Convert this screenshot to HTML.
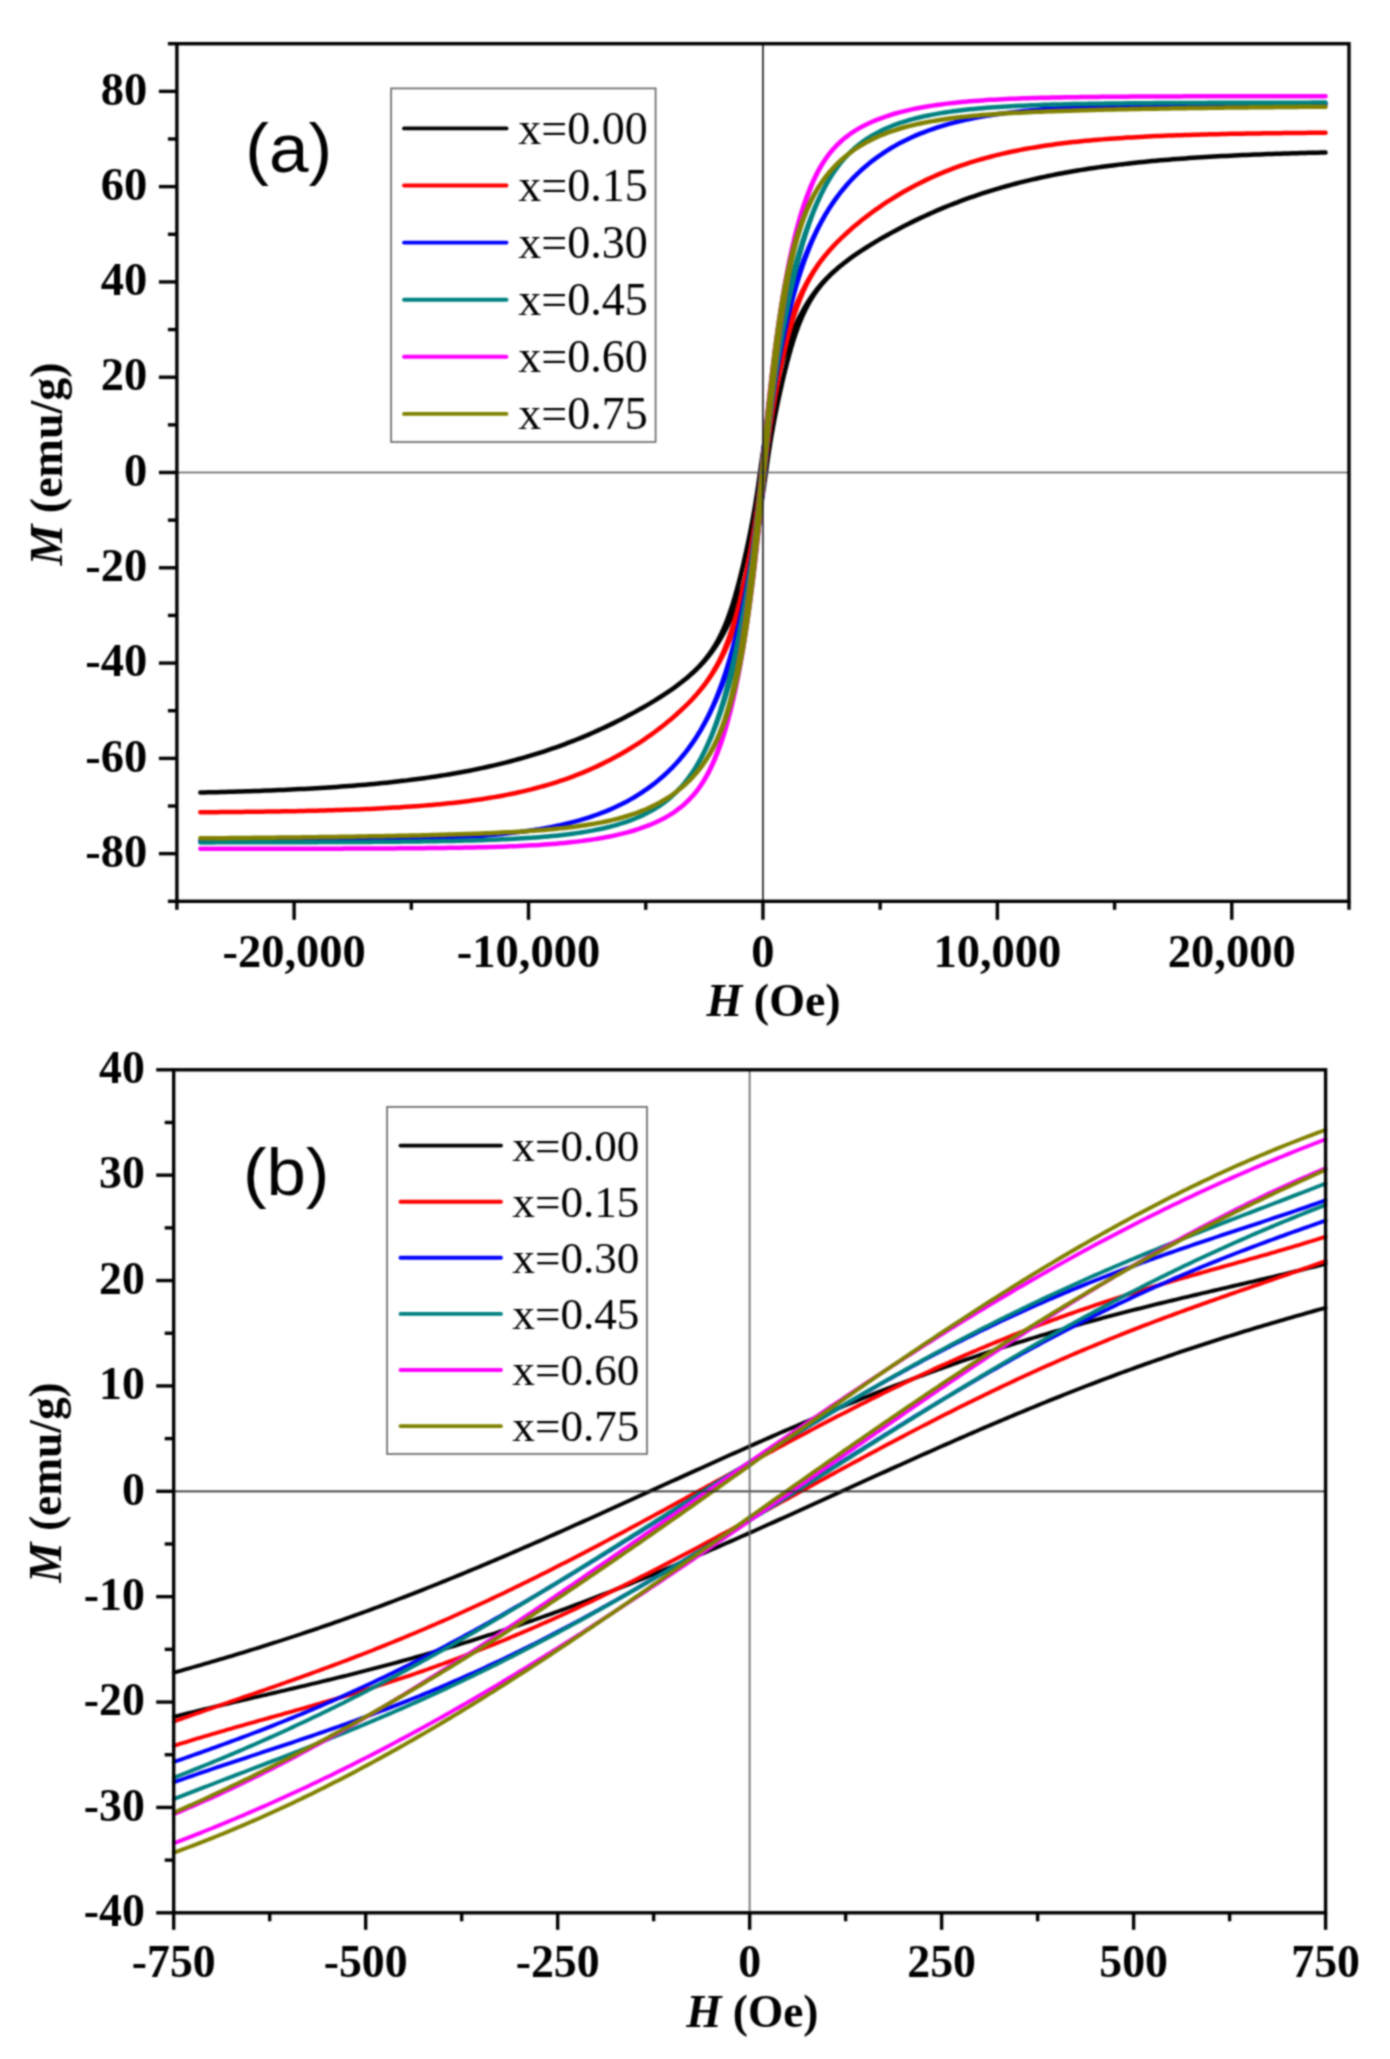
<!DOCTYPE html>
<html><head><meta charset="utf-8"><title>M-H loops</title><style>html,body{margin:0;padding:0;background:#fff;overflow:hidden}svg{display:block}text{fill:#000}</style></head><body>
<svg width="1390" height="2059" viewBox="0 0 1390 2059">
<defs><filter id="soft" x="0" y="0" width="1390" height="2059" filterUnits="userSpaceOnUse" color-interpolation-filters="sRGB"><feConvolveMatrix order="5" kernelMatrix="1 7 14 7 1 7 55 111 55 7 14 111 221 111 14 7 55 111 55 7 1 7 14 7 1" divisor="1001" edgeMode="duplicate"/></filter></defs>
<g filter="url(#soft)">
<rect width="1390" height="2059" fill="#fff"/>
<g fill="none" stroke-width="4.50" stroke-linejoin="round" stroke-linecap="round">
<path d="M200.34 792.53L204.48 792.44L208.62 792.34L212.75 792.24L216.89 792.14L221.03 792.03L225.16 791.92L229.30 791.81L233.44 791.69L237.57 791.57L241.71 791.44L245.85 791.31L249.98 791.17L254.12 791.03L258.26 790.88L262.39 790.73L266.53 790.58L270.67 790.42L274.80 790.25L278.94 790.07L283.08 789.90L287.22 789.71L291.35 789.52L295.49 789.32L299.63 789.11L303.76 788.90L307.90 788.68L312.04 788.45L316.17 788.21L320.31 787.97L324.45 787.71L328.58 787.45L332.72 787.18L336.86 786.90L340.99 786.61L345.13 786.31L349.27 786.00L353.40 785.68L357.54 785.35L361.68 785.00L365.81 784.65L369.95 784.28L374.09 783.90L378.23 783.51L382.36 783.10L386.50 782.68L390.64 782.25L394.77 781.80L398.91 781.34L403.05 780.86L407.18 780.36L411.32 779.85L415.46 779.32L419.59 778.78L423.73 778.22L427.87 777.63L432.00 777.03L436.14 776.41L440.28 775.77L444.41 775.11L448.55 774.43L452.69 773.73L456.83 773.00L460.96 772.25L465.10 771.48L469.24 770.69L473.37 769.86L477.51 769.02L481.65 768.15L485.78 767.25L489.92 766.32L494.06 765.37L498.19 764.39L502.33 763.37L506.47 762.33L510.60 761.26L514.74 760.16L518.88 759.03L523.01 757.86L527.15 756.66L531.29 755.43L535.42 754.16L539.56 752.86L543.70 751.52L547.84 750.15L551.97 748.74L556.11 747.29L560.25 745.81L564.38 744.28L568.52 742.72L572.66 741.12L576.79 739.48L580.93 737.80L585.07 736.08L589.20 734.32L593.34 732.52L597.48 730.68L601.61 728.79L605.75 726.86L609.89 724.89L614.02 722.88L618.16 720.82L622.30 718.71L626.43 716.56L630.57 714.37L634.71 712.13L638.85 709.83L642.98 707.49L647.12 705.09L651.26 702.64L655.39 700.12L659.53 697.54L663.67 694.88L667.80 692.14L671.94 689.31L676.08 686.36L680.21 683.29L684.35 680.07L688.49 676.66L692.62 673.04L693.21 672.51L693.80 671.97L694.39 671.42L694.98 670.87L695.57 670.31L696.16 669.75L696.74 669.18L697.33 668.60L697.92 668.02L698.51 667.43L699.10 666.84L699.69 666.23L700.27 665.62L700.86 665.01L701.45 664.38L702.04 663.75L702.63 663.11L703.22 662.46L703.81 661.80L704.39 661.14L704.98 660.46L705.57 659.78L706.16 659.08L706.75 658.38L707.34 657.67L707.93 656.95L708.51 656.22L709.10 655.48L709.69 654.72L710.28 653.96L710.87 653.18L711.46 652.40L712.04 651.60L712.63 650.79L713.22 649.97L713.81 649.14L714.40 648.29L714.99 647.44L715.58 646.56L716.16 645.68L716.75 644.78L717.34 643.87L717.93 642.95L718.52 642.01L719.11 641.05L719.70 640.08L720.28 639.10L720.87 638.10L721.46 637.09L722.05 636.06L722.64 635.01L723.23 633.95L723.81 632.87L724.40 631.78L724.99 630.67L725.58 629.54L726.17 628.39L726.76 627.22L727.35 626.04L727.93 624.83L728.52 623.61L729.11 622.37L729.70 621.10L730.29 619.82L730.88 618.51L731.47 617.18L732.05 615.83L732.64 614.45L733.23 613.05L733.82 611.62L734.41 610.17L735.00 608.69L735.58 607.18L736.17 605.65L736.76 604.08L737.35 602.49L737.94 600.86L738.53 599.20L739.12 597.51L739.70 595.78L740.29 594.02L740.88 592.22L741.47 590.38L742.06 588.51L742.65 586.60L743.24 584.66L743.82 582.67L744.41 580.65L745.00 578.58L745.59 576.48L746.18 574.33L746.77 572.14L747.35 569.91L747.94 567.64L748.53 565.33L749.12 562.98L749.71 560.58L750.30 558.15L750.89 555.67L751.47 553.15L752.06 550.58L752.65 547.97L753.24 545.32L753.83 542.62L754.42 539.88L755.01 537.08L755.59 534.24L756.18 531.35L756.77 528.41L757.36 525.41L757.95 522.35L758.54 519.23L759.12 516.04L759.71 512.77L760.30 509.42L760.89 505.97L761.48 502.43L762.07 498.78L762.66 495.01L763.24 491.13L763.83 487.12L764.42 483.01L765.01 478.81L765.60 474.55L766.19 470.27L766.78 466.01L767.36 461.81L767.95 457.70L768.54 453.70L769.13 449.81L769.72 446.04L770.31 442.39L770.89 438.84L771.48 435.38L772.07 432.02L772.66 428.73L773.25 425.52L773.84 422.37L774.43 419.28L775.01 416.25L775.60 413.26L776.19 410.33L776.78 407.43L777.37 404.58L777.96 401.77L778.55 398.99L779.13 396.26L779.72 393.56L780.31 390.89L780.90 388.26L781.49 385.66L782.08 383.09L782.66 380.56L783.25 378.06L783.84 375.60L784.43 373.17L785.02 370.77L785.61 368.41L786.20 366.08L786.78 363.79L787.37 361.53L787.96 359.30L788.55 357.12L789.14 354.97L789.73 352.85L790.32 350.77L790.90 348.73L791.49 346.73L792.08 344.76L792.67 342.84L793.26 340.95L793.85 339.09L794.43 337.28L795.02 335.50L795.61 333.75L796.20 332.05L796.79 330.38L797.38 328.74L797.97 327.15L798.55 325.58L799.14 324.05L799.73 322.56L800.32 321.10L800.91 319.67L801.50 318.27L802.09 316.90L802.67 315.56L803.26 314.26L803.85 312.98L804.44 311.73L805.03 310.51L805.62 309.31L806.20 308.14L806.79 306.99L807.38 305.87L807.97 304.78L808.56 303.70L809.15 302.65L809.74 301.62L810.32 300.61L810.91 299.62L811.50 298.65L812.09 297.70L812.68 296.77L813.27 295.85L813.86 294.96L814.44 294.08L815.03 293.22L815.62 292.37L816.21 291.54L816.80 290.72L817.39 289.91L817.97 289.12L818.56 288.35L819.15 287.59L819.74 286.84L820.33 286.10L820.92 285.37L821.51 284.66L822.09 283.95L822.68 283.26L823.27 282.57L823.86 281.90L824.45 281.24L825.04 280.58L825.63 279.94L826.21 279.30L826.80 278.68L827.39 278.06L827.98 277.45L828.57 276.84L829.16 276.25L829.74 275.66L830.33 275.08L830.92 274.50L831.51 273.94L832.10 273.38L832.69 272.82L833.28 272.27L837.41 268.57L841.55 265.12L845.69 261.85L849.82 258.75L853.96 255.78L858.10 252.93L862.23 250.18L866.37 247.51L870.51 244.92L874.64 242.40L878.78 239.94L882.92 237.53L887.05 235.19L891.19 232.89L895.33 230.65L899.47 228.45L903.60 226.30L907.74 224.19L911.88 222.13L916.01 220.12L920.15 218.14L924.29 216.22L928.42 214.33L932.56 212.48L936.70 210.68L940.83 208.92L944.97 207.20L949.11 205.52L953.24 203.88L957.38 202.28L961.52 200.72L965.65 199.20L969.79 197.71L973.93 196.26L978.06 194.85L982.20 193.48L986.34 192.14L990.48 190.84L994.61 189.57L998.75 188.34L1002.89 187.14L1007.02 185.98L1011.16 184.84L1015.30 183.74L1019.43 182.67L1023.57 181.63L1027.71 180.61L1031.84 179.63L1035.98 178.68L1040.12 177.75L1044.25 176.85L1048.39 175.98L1052.53 175.14L1056.66 174.31L1060.80 173.52L1064.94 172.75L1069.07 172.00L1073.21 171.27L1077.35 170.57L1081.49 169.89L1085.62 169.23L1089.76 168.59L1093.90 167.97L1098.03 167.37L1102.17 166.78L1106.31 166.22L1110.44 165.68L1114.58 165.15L1118.72 164.64L1122.85 164.14L1126.99 163.66L1131.13 163.20L1135.26 162.75L1139.40 162.32L1143.54 161.90L1147.67 161.49L1151.81 161.10L1155.95 160.72L1160.09 160.35L1164.22 160.00L1168.36 159.65L1172.50 159.32L1176.63 159.00L1180.77 158.69L1184.91 158.39L1189.04 158.10L1193.18 157.82L1197.32 157.55L1201.45 157.29L1205.59 157.03L1209.73 156.79L1213.86 156.55L1218.00 156.32L1222.14 156.10L1226.27 155.89L1230.41 155.68L1234.55 155.48L1238.68 155.29L1242.82 155.10L1246.96 154.93L1251.10 154.75L1255.23 154.58L1259.37 154.42L1263.51 154.27L1267.64 154.12L1271.78 153.97L1275.92 153.83L1280.05 153.69L1284.19 153.56L1288.33 153.43L1292.46 153.31L1296.60 153.19L1300.74 153.08L1304.87 152.97L1309.01 152.86L1313.15 152.76L1317.28 152.66L1321.42 152.56L1325.56 152.47 M1325.56 152.47L1321.42 152.56L1317.28 152.66L1313.15 152.76L1309.01 152.86L1304.87 152.97L1300.74 153.08L1296.60 153.19L1292.46 153.31L1288.33 153.43L1284.19 153.56L1280.05 153.69L1275.92 153.83L1271.78 153.97L1267.64 154.12L1263.51 154.27L1259.37 154.42L1255.23 154.58L1251.10 154.75L1246.96 154.93L1242.82 155.10L1238.68 155.29L1234.55 155.48L1230.41 155.68L1226.27 155.89L1222.14 156.10L1218.00 156.32L1213.86 156.55L1209.73 156.79L1205.59 157.03L1201.45 157.29L1197.32 157.55L1193.18 157.82L1189.04 158.10L1184.91 158.39L1180.77 158.69L1176.63 159.00L1172.50 159.32L1168.36 159.65L1164.22 160.00L1160.09 160.35L1155.95 160.72L1151.81 161.10L1147.67 161.49L1143.54 161.90L1139.40 162.32L1135.26 162.75L1131.13 163.20L1126.99 163.66L1122.85 164.14L1118.72 164.64L1114.58 165.15L1110.44 165.68L1106.31 166.22L1102.17 166.78L1098.03 167.37L1093.90 167.97L1089.76 168.59L1085.62 169.23L1081.49 169.89L1077.35 170.57L1073.21 171.27L1069.07 172.00L1064.94 172.75L1060.80 173.52L1056.66 174.31L1052.53 175.14L1048.39 175.98L1044.25 176.85L1040.12 177.75L1035.98 178.68L1031.84 179.63L1027.71 180.61L1023.57 181.63L1019.43 182.67L1015.30 183.74L1011.16 184.84L1007.02 185.97L1002.89 187.14L998.75 188.34L994.61 189.57L990.48 190.84L986.34 192.14L982.20 193.48L978.06 194.85L973.93 196.26L969.79 197.71L965.65 199.19L961.52 200.72L957.38 202.28L953.24 203.88L949.11 205.52L944.97 207.20L940.83 208.92L936.70 210.68L932.56 212.48L928.42 214.32L924.29 216.21L920.15 218.14L916.01 220.11L911.88 222.12L907.74 224.18L903.60 226.29L899.47 228.44L895.33 230.63L891.19 232.87L887.05 235.17L882.92 237.51L878.78 239.91L874.64 242.36L870.51 244.88L866.37 247.46L862.23 250.12L858.10 252.86L853.96 255.69L849.82 258.64L845.69 261.71L841.55 264.93L837.41 268.34L833.28 271.96L832.69 272.49L832.10 273.03L831.51 273.58L830.92 274.13L830.33 274.69L829.74 275.25L829.16 275.82L828.57 276.40L827.98 276.98L827.39 277.57L826.80 278.16L826.21 278.77L825.63 279.38L825.04 279.99L824.45 280.62L823.86 281.25L823.27 281.89L822.68 282.54L822.09 283.20L821.51 283.86L820.92 284.54L820.33 285.22L819.74 285.92L819.15 286.62L818.56 287.33L817.97 288.05L817.39 288.78L816.80 289.52L816.21 290.28L815.62 291.04L815.03 291.82L814.44 292.60L813.86 293.40L813.27 294.21L812.68 295.03L812.09 295.86L811.50 296.71L810.91 297.56L810.32 298.44L809.74 299.32L809.15 300.22L808.56 301.13L807.97 302.05L807.38 302.99L806.79 303.95L806.20 304.92L805.62 305.90L805.03 306.90L804.44 307.91L803.85 308.94L803.26 309.99L802.67 311.05L802.09 312.13L801.50 313.22L800.91 314.33L800.32 315.46L799.73 316.61L799.14 317.78L798.55 318.96L797.97 320.17L797.38 321.39L796.79 322.63L796.20 323.90L795.61 325.18L795.02 326.49L794.43 327.82L793.85 329.17L793.26 330.55L792.67 331.95L792.08 333.38L791.49 334.83L790.90 336.31L790.32 337.82L789.73 339.35L789.14 340.92L788.55 342.51L787.96 344.14L787.37 345.80L786.78 347.49L786.20 349.22L785.61 350.98L785.02 352.78L784.43 354.62L783.84 356.49L783.25 358.40L782.66 360.34L782.08 362.33L781.49 364.35L780.90 366.42L780.31 368.52L779.72 370.67L779.13 372.86L778.55 375.09L777.96 377.36L777.37 379.67L776.78 382.02L776.19 384.42L775.60 386.85L775.01 389.33L774.43 391.85L773.84 394.42L773.25 397.03L772.66 399.68L772.07 402.38L771.48 405.12L770.89 407.92L770.31 410.76L769.72 413.65L769.13 416.59L768.54 419.59L767.95 422.65L767.36 425.77L766.78 428.96L766.19 432.23L765.60 435.58L765.01 439.03L764.42 442.57L763.83 446.22L763.24 449.99L762.66 453.87L762.07 457.88L761.48 461.99L760.89 466.19L760.30 470.45L759.71 474.73L759.12 478.99L758.54 483.19L757.95 487.30L757.36 491.30L756.77 495.19L756.18 498.96L755.59 502.61L755.01 506.16L754.42 509.62L753.83 512.98L753.24 516.27L752.65 519.48L752.06 522.63L751.47 525.72L750.89 528.75L750.30 531.74L749.71 534.67L749.12 537.57L748.53 540.42L747.94 543.23L747.35 546.01L746.77 548.74L746.18 551.44L745.59 554.11L745.00 556.74L744.41 559.34L743.82 561.91L743.24 564.44L742.65 566.94L742.06 569.40L741.47 571.83L740.88 574.23L740.29 576.59L739.70 578.92L739.12 581.21L738.53 583.47L737.94 585.70L737.35 587.88L736.76 590.03L736.17 592.15L735.58 594.23L735.00 596.27L734.41 598.27L733.82 600.24L733.23 602.16L732.64 604.05L732.05 605.91L731.47 607.72L730.88 609.50L730.29 611.25L729.70 612.95L729.11 614.62L728.52 616.26L727.93 617.85L727.35 619.42L726.76 620.95L726.17 622.44L725.58 623.90L724.99 625.33L724.40 626.73L723.81 628.10L723.23 629.44L722.64 630.74L722.05 632.02L721.46 633.27L720.87 634.49L720.28 635.69L719.70 636.86L719.11 638.01L718.52 639.13L717.93 640.22L717.34 641.30L716.75 642.35L716.16 643.38L715.58 644.39L714.99 645.38L714.40 646.35L713.81 647.30L713.22 648.23L712.63 649.15L712.04 650.04L711.46 650.92L710.87 651.78L710.28 652.63L709.69 653.46L709.10 654.28L708.51 655.09L707.93 655.88L707.34 656.65L706.75 657.41L706.16 658.16L705.57 658.90L704.98 659.63L704.39 660.34L703.81 661.05L703.22 661.74L702.63 662.43L702.04 663.10L701.45 663.76L700.86 664.42L700.27 665.06L699.69 665.70L699.10 666.32L698.51 666.94L697.92 667.55L697.33 668.16L696.74 668.75L696.16 669.34L695.57 669.92L694.98 670.50L694.39 671.06L693.80 671.62L693.21 672.18L692.62 672.73L688.49 676.43L684.35 679.88L680.21 683.15L676.08 686.25L671.94 689.22L667.80 692.07L663.67 694.82L659.53 697.49L655.39 700.08L651.26 702.60L647.12 705.06L642.98 707.47L638.85 709.81L634.71 712.11L630.57 714.35L626.43 716.55L622.30 718.70L618.16 720.81L614.02 722.87L609.89 724.88L605.75 726.86L601.61 728.78L597.48 730.67L593.34 732.52L589.20 734.32L585.07 736.08L580.93 737.80L576.79 739.48L572.66 741.12L568.52 742.72L564.38 744.28L560.25 745.80L556.11 747.29L551.97 748.74L547.84 750.15L543.70 751.52L539.56 752.86L535.42 754.16L531.29 755.43L527.15 756.66L523.01 757.86L518.88 759.02L514.74 760.16L510.60 761.26L506.47 762.33L502.33 763.37L498.19 764.39L494.06 765.37L489.92 766.32L485.78 767.25L481.65 768.15L477.51 769.02L473.37 769.86L469.24 770.69L465.10 771.48L460.96 772.25L456.83 773.00L452.69 773.73L448.55 774.43L444.41 775.11L440.28 775.77L436.14 776.41L432.00 777.03L427.87 777.63L423.73 778.22L419.59 778.78L415.46 779.32L411.32 779.85L407.18 780.36L403.05 780.86L398.91 781.34L394.77 781.80L390.64 782.25L386.50 782.68L382.36 783.10L378.23 783.51L374.09 783.90L369.95 784.28L365.81 784.65L361.68 785.00L357.54 785.35L353.40 785.68L349.27 786.00L345.13 786.31L340.99 786.61L336.86 786.90L332.72 787.18L328.58 787.45L324.45 787.71L320.31 787.97L316.17 788.21L312.04 788.45L307.90 788.68L303.76 788.90L299.63 789.11L295.49 789.32L291.35 789.52L287.22 789.71L283.08 789.90L278.94 790.07L274.80 790.25L270.67 790.42L266.53 790.58L262.39 790.73L258.26 790.88L254.12 791.03L249.98 791.17L245.85 791.31L241.71 791.44L237.57 791.57L233.44 791.69L229.30 791.81L225.16 791.92L221.03 792.03L216.89 792.14L212.75 792.24L208.62 792.34L204.48 792.44L200.34 792.53" stroke="#000000"/>
<path d="M200.34 812.25L204.48 812.22L208.62 812.19L212.75 812.16L216.89 812.13L221.03 812.10L225.16 812.06L229.30 812.02L233.44 811.99L237.57 811.95L241.71 811.90L245.85 811.86L249.98 811.81L254.12 811.76L258.26 811.71L262.39 811.66L266.53 811.60L270.67 811.54L274.80 811.48L278.94 811.42L283.08 811.35L287.22 811.28L291.35 811.20L295.49 811.13L299.63 811.04L303.76 810.96L307.90 810.87L312.04 810.78L316.17 810.68L320.31 810.58L324.45 810.47L328.58 810.36L332.72 810.24L336.86 810.11L340.99 809.99L345.13 809.85L349.27 809.71L353.40 809.56L357.54 809.40L361.68 809.24L365.81 809.07L369.95 808.89L374.09 808.70L378.23 808.51L382.36 808.30L386.50 808.09L390.64 807.86L394.77 807.62L398.91 807.38L403.05 807.12L407.18 806.85L411.32 806.56L415.46 806.27L419.59 805.96L423.73 805.63L427.87 805.29L432.00 804.94L436.14 804.56L440.28 804.17L444.41 803.77L448.55 803.34L452.69 802.89L456.83 802.43L460.96 801.94L465.10 801.43L469.24 800.90L473.37 800.34L477.51 799.76L481.65 799.15L485.78 798.51L489.92 797.84L494.06 797.15L498.19 796.42L502.33 795.67L506.47 794.88L510.60 794.05L514.74 793.19L518.88 792.29L523.01 791.35L527.15 790.38L531.29 789.36L535.42 788.29L539.56 787.19L543.70 786.03L547.84 784.83L551.97 783.58L556.11 782.28L560.25 780.93L564.38 779.52L568.52 778.06L572.66 776.54L576.79 774.96L580.93 773.31L585.07 771.61L589.20 769.84L593.34 768.01L597.48 766.11L601.61 764.14L605.75 762.10L609.89 759.98L614.02 757.80L618.16 755.54L622.30 753.20L626.43 750.78L630.57 748.28L634.71 745.71L638.85 743.05L642.98 740.30L647.12 737.46L651.26 734.54L655.39 731.52L659.53 728.40L663.67 725.18L667.80 721.85L671.94 718.41L676.08 714.83L680.21 711.11L684.35 707.22L688.49 703.15L692.62 698.86L693.21 698.23L693.80 697.60L694.39 696.96L694.98 696.31L695.57 695.66L696.16 695.00L696.74 694.34L697.33 693.67L697.92 692.99L698.51 692.31L699.10 691.62L699.69 690.92L700.27 690.22L700.86 689.51L701.45 688.79L702.04 688.07L702.63 687.33L703.22 686.59L703.81 685.84L704.39 685.08L704.98 684.32L705.57 683.54L706.16 682.75L706.75 681.96L707.34 681.15L707.93 680.34L708.51 679.52L709.10 678.68L709.69 677.83L710.28 676.98L710.87 676.11L711.46 675.23L712.04 674.34L712.63 673.43L713.22 672.51L713.81 671.58L714.40 670.64L714.99 669.68L715.58 668.71L716.16 667.72L716.75 666.72L717.34 665.71L717.93 664.68L718.52 663.63L719.11 662.56L719.70 661.48L720.28 660.39L720.87 659.27L721.46 658.14L722.05 656.99L722.64 655.82L723.23 654.63L723.81 653.42L724.40 652.19L724.99 650.94L725.58 649.66L726.17 648.37L726.76 647.05L727.35 645.71L727.93 644.35L728.52 642.96L729.11 641.55L729.70 640.11L730.29 638.64L730.88 637.15L731.47 635.63L732.05 634.08L732.64 632.50L733.23 630.89L733.82 629.25L734.41 627.58L735.00 625.88L735.58 624.14L736.17 622.37L736.76 620.56L737.35 618.71L737.94 616.83L738.53 614.91L739.12 612.94L739.70 610.94L740.29 608.90L740.88 606.81L741.47 604.69L742.06 602.51L742.65 600.30L743.24 598.03L743.82 595.72L744.41 593.37L745.00 590.96L745.59 588.51L746.18 586.00L746.77 583.45L747.35 580.84L747.94 578.19L748.53 575.48L749.12 572.71L749.71 569.89L750.30 567.02L750.89 564.09L751.47 561.10L752.06 558.05L752.65 554.93L753.24 551.76L753.83 548.51L754.42 545.20L755.01 541.82L755.59 538.35L756.18 534.81L756.77 531.17L757.36 527.45L757.95 523.62L758.54 519.69L759.12 515.64L759.71 511.47L760.30 507.16L760.89 502.72L761.48 498.15L762.07 493.44L762.66 488.60L763.24 483.66L763.83 478.63L764.42 473.56L765.01 468.48L765.60 463.43L766.19 458.45L766.78 453.57L767.36 448.80L767.95 444.17L768.54 439.67L769.13 435.30L769.72 431.07L770.31 426.96L770.89 422.98L771.48 419.09L772.07 415.32L772.66 411.63L773.25 408.03L773.84 404.51L774.43 401.07L775.01 397.70L775.60 394.40L776.19 391.16L776.78 387.98L777.37 384.86L777.96 381.79L778.55 378.78L779.13 375.82L779.72 372.91L780.31 370.05L780.90 367.25L781.49 364.48L782.08 361.77L782.66 359.10L783.25 356.48L783.84 353.90L784.43 351.37L785.02 348.88L785.61 346.44L786.20 344.04L786.78 341.69L787.37 339.37L787.96 337.10L788.55 334.88L789.14 332.69L789.73 330.55L790.32 328.45L790.90 326.39L791.49 324.37L792.08 322.39L792.67 320.45L793.26 318.55L793.85 316.69L794.43 314.86L795.02 313.08L795.61 311.33L796.20 309.62L796.79 307.94L797.38 306.30L797.97 304.70L798.55 303.12L799.14 301.58L799.73 300.08L800.32 298.60L800.91 297.15L801.50 295.74L802.09 294.35L802.67 292.99L803.26 291.66L803.85 290.36L804.44 289.08L805.03 287.83L805.62 286.60L806.20 285.39L806.79 284.21L807.38 283.05L807.97 281.92L808.56 280.80L809.15 279.70L809.74 278.63L810.32 277.57L810.91 276.53L811.50 275.51L812.09 274.50L812.68 273.52L813.27 272.55L813.86 271.59L814.44 270.65L815.03 269.73L815.62 268.82L816.21 267.92L816.80 267.04L817.39 266.16L817.97 265.31L818.56 264.46L819.15 263.63L819.74 262.80L820.33 261.99L820.92 261.19L821.51 260.40L822.09 259.62L822.68 258.85L823.27 258.09L823.86 257.33L824.45 256.59L825.04 255.86L825.63 255.13L826.21 254.41L826.80 253.70L827.39 253.00L827.98 252.30L828.57 251.61L829.16 250.93L829.74 250.25L830.33 249.59L830.92 248.92L831.51 248.27L832.10 247.62L832.69 246.98L833.28 246.34L837.41 242.00L841.55 237.90L845.69 233.99L849.82 230.25L853.96 226.65L858.10 223.19L862.23 219.86L866.37 216.63L870.51 213.51L874.64 210.48L878.78 207.55L882.92 204.72L887.05 201.97L891.19 199.30L895.33 196.72L899.47 194.23L903.60 191.81L907.74 189.47L911.88 187.21L916.01 185.02L920.15 182.91L924.29 180.87L928.42 178.90L932.56 176.99L936.70 175.16L940.83 173.39L944.97 171.69L949.11 170.05L953.24 168.47L957.38 166.94L961.52 165.48L965.65 164.07L969.79 162.72L973.93 161.42L978.06 160.17L982.20 158.97L986.34 157.81L990.48 156.71L994.61 155.64L998.75 154.62L1002.89 153.65L1007.02 152.71L1011.16 151.81L1015.30 150.95L1019.43 150.12L1023.57 149.33L1027.71 148.58L1031.84 147.85L1035.98 147.16L1040.12 146.49L1044.25 145.85L1048.39 145.25L1052.53 144.66L1056.66 144.10L1060.80 143.57L1064.94 143.06L1069.07 142.57L1073.21 142.11L1077.35 141.66L1081.49 141.23L1085.62 140.83L1089.76 140.44L1093.90 140.06L1098.03 139.71L1102.17 139.37L1106.31 139.04L1110.44 138.73L1114.58 138.44L1118.72 138.15L1122.85 137.88L1126.99 137.62L1131.13 137.38L1135.26 137.14L1139.40 136.91L1143.54 136.70L1147.67 136.49L1151.81 136.30L1155.95 136.11L1160.09 135.93L1164.22 135.76L1168.36 135.60L1172.50 135.44L1176.63 135.29L1180.77 135.15L1184.91 135.01L1189.04 134.89L1193.18 134.76L1197.32 134.64L1201.45 134.53L1205.59 134.42L1209.73 134.32L1213.86 134.22L1218.00 134.13L1222.14 134.04L1226.27 133.96L1230.41 133.87L1234.55 133.80L1238.68 133.72L1242.82 133.65L1246.96 133.58L1251.10 133.52L1255.23 133.46L1259.37 133.40L1263.51 133.34L1267.64 133.29L1271.78 133.24L1275.92 133.19L1280.05 133.14L1284.19 133.10L1288.33 133.05L1292.46 133.01L1296.60 132.98L1300.74 132.94L1304.87 132.90L1309.01 132.87L1313.15 132.84L1317.28 132.81L1321.42 132.78L1325.56 132.75 M1325.56 132.75L1321.42 132.78L1317.28 132.81L1313.15 132.84L1309.01 132.87L1304.87 132.90L1300.74 132.94L1296.60 132.98L1292.46 133.01L1288.33 133.05L1284.19 133.10L1280.05 133.14L1275.92 133.19L1271.78 133.24L1267.64 133.29L1263.51 133.34L1259.37 133.40L1255.23 133.46L1251.10 133.52L1246.96 133.58L1242.82 133.65L1238.68 133.72L1234.55 133.80L1230.41 133.87L1226.27 133.96L1222.14 134.04L1218.00 134.13L1213.86 134.22L1209.73 134.32L1205.59 134.42L1201.45 134.53L1197.32 134.64L1193.18 134.76L1189.04 134.89L1184.91 135.01L1180.77 135.15L1176.63 135.29L1172.50 135.44L1168.36 135.60L1164.22 135.76L1160.09 135.93L1155.95 136.11L1151.81 136.30L1147.67 136.49L1143.54 136.70L1139.40 136.91L1135.26 137.14L1131.13 137.38L1126.99 137.62L1122.85 137.88L1118.72 138.15L1114.58 138.44L1110.44 138.73L1106.31 139.04L1102.17 139.37L1098.03 139.71L1093.90 140.06L1089.76 140.44L1085.62 140.83L1081.49 141.23L1077.35 141.66L1073.21 142.11L1069.07 142.57L1064.94 143.06L1060.80 143.57L1056.66 144.10L1052.53 144.66L1048.39 145.24L1044.25 145.85L1040.12 146.49L1035.98 147.16L1031.84 147.85L1027.71 148.58L1023.57 149.33L1019.43 150.12L1015.30 150.95L1011.16 151.81L1007.02 152.71L1002.89 153.65L998.75 154.62L994.61 155.64L990.48 156.71L986.34 157.81L982.20 158.97L978.06 160.17L973.93 161.42L969.79 162.72L965.65 164.07L961.52 165.48L957.38 166.94L953.24 168.46L949.11 170.04L944.97 171.69L940.83 173.39L936.70 175.16L932.56 176.99L928.42 178.89L924.29 180.86L920.15 182.90L916.01 185.02L911.88 187.20L907.74 189.46L903.60 191.80L899.47 194.22L895.33 196.72L891.19 199.29L887.05 201.95L882.92 204.70L878.78 207.54L874.64 210.46L870.51 213.48L866.37 216.60L862.23 219.82L858.10 223.15L853.96 226.59L849.82 230.17L845.69 233.89L841.55 237.78L837.41 241.85L833.28 246.14L832.69 246.77L832.10 247.40L831.51 248.04L830.92 248.69L830.33 249.34L829.74 250.00L829.16 250.66L828.57 251.33L827.98 252.01L827.39 252.69L826.80 253.38L826.21 254.08L825.63 254.78L825.04 255.49L824.45 256.21L823.86 256.93L823.27 257.67L822.68 258.41L822.09 259.16L821.51 259.92L820.92 260.68L820.33 261.46L819.74 262.25L819.15 263.04L818.56 263.85L817.97 264.66L817.39 265.48L816.80 266.32L816.21 267.17L815.62 268.02L815.03 268.89L814.44 269.77L813.86 270.66L813.27 271.57L812.68 272.49L812.09 273.42L811.50 274.36L810.91 275.32L810.32 276.29L809.74 277.28L809.15 278.28L808.56 279.29L807.97 280.32L807.38 281.37L806.79 282.44L806.20 283.52L805.62 284.61L805.03 285.73L804.44 286.86L803.85 288.01L803.26 289.18L802.67 290.37L802.09 291.58L801.50 292.81L800.91 294.06L800.32 295.34L799.73 296.63L799.14 297.95L798.55 299.29L797.97 300.65L797.38 302.04L796.79 303.45L796.20 304.89L795.61 306.36L795.02 307.85L794.43 309.37L793.85 310.92L793.26 312.50L792.67 314.11L792.08 315.75L791.49 317.42L790.90 319.12L790.32 320.86L789.73 322.63L789.14 324.44L788.55 326.29L787.96 328.17L787.37 330.09L786.78 332.06L786.20 334.06L785.61 336.10L785.02 338.19L784.43 340.31L783.84 342.49L783.25 344.70L782.66 346.97L782.08 349.28L781.49 351.63L780.90 354.04L780.31 356.49L779.72 359.00L779.13 361.55L778.55 364.16L777.96 366.81L777.37 369.52L776.78 372.29L776.19 375.11L775.60 377.98L775.01 380.91L774.43 383.90L773.84 386.95L773.25 390.07L772.66 393.24L772.07 396.49L771.48 399.80L770.89 403.18L770.31 406.65L769.72 410.19L769.13 413.83L768.54 417.55L767.95 421.38L767.36 425.31L766.78 429.36L766.19 433.53L765.60 437.84L765.01 442.28L764.42 446.85L763.83 451.56L763.24 456.40L762.66 461.34L762.07 466.37L761.48 471.44L760.89 476.52L760.30 481.57L759.71 486.55L759.12 491.43L758.54 496.20L757.95 500.83L757.36 505.33L756.77 509.70L756.18 513.93L755.59 518.04L755.01 522.02L754.42 525.91L753.83 529.68L753.24 533.37L752.65 536.97L752.06 540.49L751.47 543.93L750.89 547.30L750.30 550.60L749.71 553.84L749.12 557.02L748.53 560.14L747.94 563.21L747.35 566.22L746.77 569.18L746.18 572.09L745.59 574.95L745.00 577.75L744.41 580.52L743.82 583.23L743.24 585.90L742.65 588.52L742.06 591.10L741.47 593.63L740.88 596.12L740.29 598.56L739.70 600.96L739.12 603.31L738.53 605.63L737.94 607.90L737.35 610.12L736.76 612.31L736.17 614.45L735.58 616.55L735.00 618.61L734.41 620.63L733.82 622.61L733.23 624.55L732.64 626.45L732.05 628.31L731.47 630.14L730.88 631.92L730.29 633.67L729.70 635.38L729.11 637.06L728.52 638.70L727.93 640.30L727.35 641.88L726.76 643.42L726.17 644.92L725.58 646.40L724.99 647.85L724.40 649.26L723.81 650.65L723.23 652.01L722.64 653.34L722.05 654.64L721.46 655.92L720.87 657.17L720.28 658.40L719.70 659.61L719.11 660.79L718.52 661.95L717.93 663.08L717.34 664.20L716.75 665.30L716.16 666.37L715.58 667.43L714.99 668.47L714.40 669.49L713.81 670.50L713.22 671.48L712.63 672.45L712.04 673.41L711.46 674.35L710.87 675.27L710.28 676.18L709.69 677.08L709.10 677.96L708.51 678.84L707.93 679.69L707.34 680.54L706.75 681.37L706.16 682.20L705.57 683.01L704.98 683.81L704.39 684.60L703.81 685.38L703.22 686.15L702.63 686.91L702.04 687.67L701.45 688.41L700.86 689.14L700.27 689.87L699.69 690.59L699.10 691.30L698.51 692.00L697.92 692.70L697.33 693.39L696.74 694.07L696.16 694.75L695.57 695.41L694.98 696.08L694.39 696.73L693.80 697.38L693.21 698.02L692.62 698.66L688.49 703.00L684.35 707.10L680.21 711.01L676.08 714.75L671.94 718.35L667.80 721.81L663.67 725.14L659.53 728.37L655.39 731.49L651.26 734.52L647.12 737.45L642.98 740.28L638.85 743.03L634.71 745.70L630.57 748.28L626.43 750.77L622.30 753.19L618.16 755.53L614.02 757.79L609.89 759.98L605.75 762.09L601.61 764.13L597.48 766.10L593.34 768.01L589.20 769.84L585.07 771.61L580.93 773.31L576.79 774.95L572.66 776.53L568.52 778.06L564.38 779.52L560.25 780.93L556.11 782.28L551.97 783.58L547.84 784.83L543.70 786.03L539.56 787.19L535.42 788.29L531.29 789.36L527.15 790.38L523.01 791.35L518.88 792.29L514.74 793.19L510.60 794.05L506.47 794.88L502.33 795.67L498.19 796.42L494.06 797.15L489.92 797.84L485.78 798.51L481.65 799.15L477.51 799.75L473.37 800.34L469.24 800.90L465.10 801.43L460.96 801.94L456.83 802.43L452.69 802.89L448.55 803.34L444.41 803.77L440.28 804.17L436.14 804.56L432.00 804.94L427.87 805.29L423.73 805.63L419.59 805.96L415.46 806.27L411.32 806.56L407.18 806.85L403.05 807.12L398.91 807.38L394.77 807.62L390.64 807.86L386.50 808.09L382.36 808.30L378.23 808.51L374.09 808.70L369.95 808.89L365.81 809.07L361.68 809.24L357.54 809.40L353.40 809.56L349.27 809.71L345.13 809.85L340.99 809.99L336.86 810.11L332.72 810.24L328.58 810.36L324.45 810.47L320.31 810.58L316.17 810.68L312.04 810.78L307.90 810.87L303.76 810.96L299.63 811.04L295.49 811.13L291.35 811.20L287.22 811.28L283.08 811.35L278.94 811.42L274.80 811.48L270.67 811.54L266.53 811.60L262.39 811.66L258.26 811.71L254.12 811.76L249.98 811.81L245.85 811.86L241.71 811.90L237.57 811.95L233.44 811.99L229.30 812.02L225.16 812.06L221.03 812.10L216.89 812.13L212.75 812.16L208.62 812.19L204.48 812.22L200.34 812.25" stroke="#ff0000"/>
<path d="M200.34 841.01L204.48 841.00L208.62 840.99L212.75 840.98L216.89 840.97L221.03 840.95L225.16 840.94L229.30 840.93L233.44 840.92L237.57 840.90L241.71 840.89L245.85 840.87L249.98 840.86L254.12 840.84L258.26 840.83L262.39 840.81L266.53 840.79L270.67 840.77L274.80 840.75L278.94 840.73L283.08 840.71L287.22 840.69L291.35 840.66L295.49 840.64L299.63 840.61L303.76 840.58L307.90 840.55L312.04 840.52L316.17 840.49L320.31 840.46L324.45 840.42L328.58 840.39L332.72 840.35L336.86 840.31L340.99 840.26L345.13 840.22L349.27 840.17L353.40 840.12L357.54 840.06L361.68 840.01L365.81 839.95L369.95 839.88L374.09 839.82L378.23 839.75L382.36 839.67L386.50 839.59L390.64 839.51L394.77 839.42L398.91 839.33L403.05 839.23L407.18 839.12L411.32 839.01L415.46 838.90L419.59 838.77L423.73 838.64L427.87 838.50L432.00 838.35L436.14 838.20L440.28 838.03L444.41 837.86L448.55 837.67L452.69 837.48L456.83 837.27L460.96 837.05L465.10 836.81L469.24 836.56L473.37 836.30L477.51 836.02L481.65 835.73L485.78 835.41L489.92 835.08L494.06 834.73L498.19 834.36L502.33 833.96L506.47 833.54L510.60 833.10L514.74 832.62L518.88 832.13L523.01 831.60L527.15 831.04L531.29 830.44L535.42 829.81L539.56 829.15L543.70 828.44L547.84 827.69L551.97 826.90L556.11 826.06L560.25 825.18L564.38 824.24L568.52 823.24L572.66 822.19L576.79 821.08L580.93 819.91L585.07 818.66L589.20 817.35L593.34 815.96L597.48 814.50L601.61 812.95L605.75 811.31L609.89 809.58L614.02 807.75L618.16 805.82L622.30 803.78L626.43 801.63L630.57 799.36L634.71 796.96L638.85 794.42L642.98 791.74L647.12 788.90L651.26 785.89L655.39 782.71L659.53 779.33L663.67 775.75L667.80 771.94L671.94 767.88L676.08 763.55L680.21 758.91L684.35 753.94L688.49 748.61L692.62 742.86L693.21 742.01L693.80 741.14L694.39 740.27L694.98 739.39L695.57 738.49L696.16 737.59L696.74 736.68L697.33 735.76L697.92 734.82L698.51 733.88L699.10 732.92L699.69 731.96L700.27 730.98L700.86 729.99L701.45 728.99L702.04 727.98L702.63 726.96L703.22 725.92L703.81 724.88L704.39 723.82L704.98 722.75L705.57 721.66L706.16 720.56L706.75 719.45L707.34 718.33L707.93 717.19L708.51 716.04L709.10 714.88L709.69 713.70L710.28 712.50L710.87 711.30L711.46 710.08L712.04 708.84L712.63 707.59L713.22 706.32L713.81 705.04L714.40 703.74L714.99 702.43L715.58 701.10L716.16 699.76L716.75 698.40L717.34 697.02L717.93 695.63L718.52 694.22L719.11 692.79L719.70 691.35L720.28 689.89L720.87 688.41L721.46 686.92L722.05 685.40L722.64 683.87L723.23 682.32L723.81 680.75L724.40 679.17L724.99 677.56L725.58 675.93L726.17 674.29L726.76 672.62L727.35 670.94L727.93 669.23L728.52 667.50L729.11 665.75L729.70 663.98L730.29 662.19L730.88 660.37L731.47 658.53L732.05 656.67L732.64 654.78L733.23 652.87L733.82 650.93L734.41 648.96L735.00 646.97L735.58 644.95L736.17 642.89L736.76 640.81L737.35 638.70L737.94 636.56L738.53 634.38L739.12 632.17L739.70 629.93L740.29 627.65L740.88 625.33L741.47 622.97L742.06 620.58L742.65 618.15L743.24 615.67L743.82 613.15L744.41 610.58L745.00 607.97L745.59 605.31L746.18 602.60L746.77 599.84L747.35 597.02L747.94 594.15L748.53 591.21L749.12 588.22L749.71 585.15L750.30 582.02L750.89 578.81L751.47 575.53L752.06 572.16L752.65 568.70L753.24 565.15L753.83 561.50L754.42 557.75L755.01 553.88L755.59 549.88L756.18 545.76L756.77 541.50L757.36 537.09L757.95 532.53L758.54 527.81L759.12 522.92L759.71 517.86L760.30 512.64L760.89 507.25L761.48 501.71L762.07 496.02L762.66 490.21L763.24 484.30L763.83 478.33L764.42 472.32L765.01 466.31L765.60 460.34L766.19 454.43L766.78 448.63L767.36 442.95L767.95 437.41L768.54 432.03L769.13 426.81L769.72 421.76L770.31 416.88L770.89 412.16L771.48 407.59L772.07 403.18L772.66 398.91L773.25 394.78L773.84 390.77L774.43 386.88L775.01 383.10L775.60 379.43L776.19 375.85L776.78 372.36L777.37 368.95L777.96 365.62L778.55 362.36L779.13 359.18L779.72 356.05L780.31 352.99L780.90 349.98L781.49 347.03L782.08 344.13L782.66 341.28L783.25 338.47L783.84 335.71L784.43 333.00L785.02 330.32L785.61 327.69L786.20 325.09L786.78 322.53L787.37 320.01L787.96 317.53L788.55 315.08L789.14 312.66L789.73 310.28L790.32 307.93L790.90 305.62L791.49 303.34L792.08 301.09L792.67 298.87L793.26 296.69L793.85 294.53L794.43 292.41L795.02 290.32L795.61 288.26L796.20 286.23L796.79 284.22L797.38 282.25L797.97 280.31L798.55 278.39L799.14 276.50L799.73 274.64L800.32 272.81L800.91 271.01L801.50 269.23L802.09 267.48L802.67 265.75L803.26 264.05L803.85 262.37L804.44 260.72L805.03 259.10L805.62 257.49L806.20 255.91L806.79 254.36L807.38 252.82L807.97 251.31L808.56 249.82L809.15 248.35L809.74 246.91L810.32 245.48L810.91 244.07L811.50 242.68L812.09 241.32L812.68 239.97L813.27 238.64L813.86 237.33L814.44 236.03L815.03 234.76L815.62 233.50L816.21 232.26L816.80 231.03L817.39 229.82L817.97 228.63L818.56 227.45L819.15 226.29L819.74 225.15L820.33 224.02L820.92 222.90L821.51 221.80L822.09 220.71L822.68 219.63L823.27 218.57L823.86 217.53L824.45 216.49L825.04 215.47L825.63 214.46L826.21 213.46L826.80 212.48L827.39 211.51L827.98 210.54L828.57 209.60L829.16 208.66L829.74 207.73L830.33 206.81L830.92 205.91L831.51 205.01L832.10 204.13L832.69 203.25L833.28 202.39L837.41 196.58L841.55 191.20L845.69 186.20L849.82 181.54L853.96 177.19L858.10 173.11L862.23 169.29L866.37 165.70L870.51 162.32L874.64 159.13L878.78 156.12L882.92 153.28L887.05 150.59L891.19 148.05L895.33 145.65L899.47 143.37L903.60 141.22L907.74 139.18L911.88 137.25L916.01 135.43L920.15 133.69L924.29 132.06L928.42 130.51L932.56 129.04L936.70 127.65L940.83 126.34L944.97 125.09L949.11 123.92L953.24 122.81L957.38 121.76L961.52 120.76L965.65 119.82L969.79 118.94L973.93 118.10L978.06 117.31L982.20 116.56L986.34 115.85L990.48 115.19L994.61 114.56L998.75 113.96L1002.89 113.40L1007.02 112.87L1011.16 112.38L1015.30 111.90L1019.43 111.46L1023.57 111.04L1027.71 110.64L1031.84 110.27L1035.98 109.92L1040.12 109.59L1044.25 109.27L1048.39 108.98L1052.53 108.70L1056.66 108.44L1060.80 108.19L1064.94 107.95L1069.07 107.73L1073.21 107.52L1077.35 107.33L1081.49 107.14L1085.62 106.97L1089.76 106.80L1093.90 106.65L1098.03 106.50L1102.17 106.36L1106.31 106.23L1110.44 106.10L1114.58 105.99L1118.72 105.88L1122.85 105.77L1126.99 105.67L1131.13 105.58L1135.26 105.49L1139.40 105.41L1143.54 105.33L1147.67 105.25L1151.81 105.18L1155.95 105.12L1160.09 105.05L1164.22 104.99L1168.36 104.94L1172.50 104.88L1176.63 104.83L1180.77 104.78L1184.91 104.74L1189.04 104.69L1193.18 104.65L1197.32 104.61L1201.45 104.58L1205.59 104.54L1209.73 104.51L1213.86 104.48L1218.00 104.45L1222.14 104.42L1226.27 104.39L1230.41 104.36L1234.55 104.34L1238.68 104.31L1242.82 104.29L1246.96 104.27L1251.10 104.25L1255.23 104.23L1259.37 104.21L1263.51 104.19L1267.64 104.17L1271.78 104.16L1275.92 104.14L1280.05 104.13L1284.19 104.11L1288.33 104.10L1292.46 104.08L1296.60 104.07L1300.74 104.06L1304.87 104.05L1309.01 104.03L1313.15 104.02L1317.28 104.01L1321.42 104.00L1325.56 103.99 M1325.56 103.99L1321.42 104.00L1317.28 104.01L1313.15 104.02L1309.01 104.03L1304.87 104.05L1300.74 104.06L1296.60 104.07L1292.46 104.08L1288.33 104.10L1284.19 104.11L1280.05 104.13L1275.92 104.14L1271.78 104.16L1267.64 104.17L1263.51 104.19L1259.37 104.21L1255.23 104.23L1251.10 104.25L1246.96 104.27L1242.82 104.29L1238.68 104.31L1234.55 104.34L1230.41 104.36L1226.27 104.39L1222.14 104.42L1218.00 104.45L1213.86 104.48L1209.73 104.51L1205.59 104.54L1201.45 104.58L1197.32 104.61L1193.18 104.65L1189.04 104.69L1184.91 104.74L1180.77 104.78L1176.63 104.83L1172.50 104.88L1168.36 104.94L1164.22 104.99L1160.09 105.05L1155.95 105.12L1151.81 105.18L1147.67 105.25L1143.54 105.33L1139.40 105.41L1135.26 105.49L1131.13 105.58L1126.99 105.67L1122.85 105.77L1118.72 105.88L1114.58 105.99L1110.44 106.10L1106.31 106.23L1102.17 106.36L1098.03 106.50L1093.90 106.65L1089.76 106.80L1085.62 106.97L1081.49 107.14L1077.35 107.33L1073.21 107.52L1069.07 107.73L1064.94 107.95L1060.80 108.19L1056.66 108.44L1052.53 108.70L1048.39 108.98L1044.25 109.27L1040.12 109.59L1035.98 109.92L1031.84 110.27L1027.71 110.64L1023.57 111.04L1019.43 111.46L1015.30 111.90L1011.16 112.38L1007.02 112.87L1002.89 113.40L998.75 113.96L994.61 114.56L990.48 115.19L986.34 115.85L982.20 116.56L978.06 117.31L973.93 118.10L969.79 118.94L965.65 119.82L961.52 120.76L957.38 121.76L953.24 122.81L949.11 123.92L944.97 125.09L940.83 126.34L936.70 127.65L932.56 129.04L928.42 130.50L924.29 132.05L920.15 133.69L916.01 135.42L911.88 137.25L907.74 139.18L903.60 141.22L899.47 143.37L895.33 145.64L891.19 148.04L887.05 150.58L882.92 153.26L878.78 156.10L874.64 159.11L870.51 162.29L866.37 165.67L862.23 169.25L858.10 173.06L853.96 177.12L849.82 181.45L845.69 186.09L841.55 191.06L837.41 196.39L833.28 202.14L832.69 202.99L832.10 203.86L831.51 204.73L830.92 205.61L830.33 206.51L829.74 207.41L829.16 208.32L828.57 209.24L827.98 210.18L827.39 211.12L826.80 212.08L826.21 213.04L825.63 214.02L825.04 215.01L824.45 216.01L823.86 217.02L823.27 218.04L822.68 219.08L822.09 220.12L821.51 221.18L820.92 222.25L820.33 223.34L819.74 224.44L819.15 225.55L818.56 226.67L817.97 227.81L817.39 228.96L816.80 230.12L816.21 231.30L815.62 232.50L815.03 233.70L814.44 234.92L813.86 236.16L813.27 237.41L812.68 238.68L812.09 239.96L811.50 241.26L810.91 242.57L810.32 243.90L809.74 245.24L809.15 246.60L808.56 247.98L807.97 249.37L807.38 250.78L806.79 252.21L806.20 253.65L805.62 255.11L805.03 256.59L804.44 258.08L803.85 259.60L803.26 261.13L802.67 262.68L802.09 264.25L801.50 265.83L800.91 267.44L800.32 269.07L799.73 270.71L799.14 272.38L798.55 274.06L797.97 275.77L797.38 277.50L796.79 279.25L796.20 281.02L795.61 282.81L795.02 284.63L794.43 286.47L793.85 288.33L793.26 290.22L792.67 292.13L792.08 294.07L791.49 296.04L790.90 298.03L790.32 300.05L789.73 302.11L789.14 304.19L788.55 306.30L787.96 308.44L787.37 310.62L786.78 312.83L786.20 315.07L785.61 317.35L785.02 319.67L784.43 322.03L783.84 324.42L783.25 326.85L782.66 329.33L782.08 331.85L781.49 334.42L780.90 337.03L780.31 339.69L779.72 342.40L779.13 345.16L778.55 347.98L777.96 350.85L777.37 353.79L776.78 356.78L776.19 359.85L775.60 362.98L775.01 366.19L774.43 369.47L773.84 372.84L773.25 376.30L772.66 379.85L772.07 383.50L771.48 387.25L770.89 391.12L770.31 395.12L769.72 399.24L769.13 403.50L768.54 407.91L767.95 412.47L767.36 417.19L766.78 422.08L766.19 427.14L765.60 432.36L765.01 437.75L764.42 443.29L763.83 448.98L763.24 454.79L762.66 460.70L762.07 466.67L761.48 472.68L760.89 478.69L760.30 484.66L759.71 490.57L759.12 496.37L758.54 502.05L757.95 507.59L757.36 512.97L756.77 518.19L756.18 523.24L755.59 528.12L755.01 532.84L754.42 537.41L753.83 541.82L753.24 546.09L752.65 550.22L752.06 554.23L751.47 558.12L750.89 561.90L750.30 565.57L749.71 569.15L749.12 572.64L748.53 576.05L747.94 579.38L747.35 582.64L746.77 585.82L746.18 588.95L745.59 592.01L745.00 595.02L744.41 597.97L743.82 600.87L743.24 603.72L742.65 606.53L742.06 609.29L741.47 612.00L740.88 614.68L740.29 617.31L739.70 619.91L739.12 622.47L738.53 624.99L737.94 627.47L737.35 629.92L736.76 632.34L736.17 634.72L735.58 637.07L735.00 639.38L734.41 641.66L733.82 643.91L733.23 646.13L732.64 648.31L732.05 650.47L731.47 652.59L730.88 654.68L730.29 656.74L729.70 658.77L729.11 660.78L728.52 662.75L727.93 664.69L727.35 666.61L726.76 668.50L726.17 670.36L725.58 672.19L724.99 673.99L724.40 675.77L723.81 677.52L723.23 679.25L722.64 680.95L722.05 682.63L721.46 684.28L720.87 685.90L720.28 687.51L719.70 689.09L719.11 690.64L718.52 692.18L717.93 693.69L717.34 695.18L716.75 696.65L716.16 698.09L715.58 699.52L714.99 700.93L714.40 702.32L713.81 703.68L713.22 705.03L712.63 706.36L712.04 707.67L711.46 708.97L710.87 710.24L710.28 711.50L709.69 712.74L709.10 713.97L708.51 715.18L707.93 716.37L707.34 717.55L706.75 718.71L706.16 719.85L705.57 720.98L704.98 722.10L704.39 723.20L703.81 724.29L703.22 725.37L702.63 726.43L702.04 727.47L701.45 728.51L700.86 729.53L700.27 730.54L699.69 731.54L699.10 732.52L698.51 733.49L697.92 734.46L697.33 735.40L696.74 736.34L696.16 737.27L695.57 738.19L694.98 739.09L694.39 739.99L693.80 740.87L693.21 741.75L692.62 742.61L688.49 748.42L684.35 753.80L680.21 758.80L676.08 763.46L671.94 767.81L667.80 771.89L663.67 775.71L659.53 779.30L655.39 782.68L651.26 785.87L647.12 788.88L642.98 791.72L638.85 794.41L634.71 796.95L630.57 799.35L626.43 801.63L622.30 803.78L618.16 805.82L614.02 807.75L609.89 809.57L605.75 811.31L601.61 812.94L597.48 814.49L593.34 815.96L589.20 817.35L585.07 818.66L580.93 819.91L576.79 821.08L572.66 822.19L568.52 823.24L564.38 824.24L560.25 825.18L556.11 826.06L551.97 826.90L547.84 827.69L543.70 828.44L539.56 829.15L535.42 829.81L531.29 830.44L527.15 831.04L523.01 831.60L518.88 832.13L514.74 832.62L510.60 833.10L506.47 833.54L502.33 833.96L498.19 834.36L494.06 834.73L489.92 835.08L485.78 835.41L481.65 835.73L477.51 836.02L473.37 836.30L469.24 836.56L465.10 836.81L460.96 837.05L456.83 837.27L452.69 837.48L448.55 837.67L444.41 837.86L440.28 838.03L436.14 838.20L432.00 838.35L427.87 838.50L423.73 838.64L419.59 838.77L415.46 838.90L411.32 839.01L407.18 839.12L403.05 839.23L398.91 839.33L394.77 839.42L390.64 839.51L386.50 839.59L382.36 839.67L378.23 839.75L374.09 839.82L369.95 839.88L365.81 839.95L361.68 840.01L357.54 840.06L353.40 840.12L349.27 840.17L345.13 840.22L340.99 840.26L336.86 840.31L332.72 840.35L328.58 840.39L324.45 840.42L320.31 840.46L316.17 840.49L312.04 840.52L307.90 840.55L303.76 840.58L299.63 840.61L295.49 840.64L291.35 840.66L287.22 840.69L283.08 840.71L278.94 840.73L274.80 840.75L270.67 840.77L266.53 840.79L262.39 840.81L258.26 840.83L254.12 840.84L249.98 840.86L245.85 840.87L241.71 840.89L237.57 840.90L233.44 840.92L229.30 840.93L225.16 840.94L221.03 840.95L216.89 840.97L212.75 840.98L208.62 840.99L204.48 841.00L200.34 841.01" stroke="#0000ff"/>
<path d="M200.34 842.40L204.48 842.39L208.62 842.39L212.75 842.38L216.89 842.37L221.03 842.37L225.16 842.36L229.30 842.35L233.44 842.35L237.57 842.34L241.71 842.33L245.85 842.32L249.98 842.31L254.12 842.31L258.26 842.30L262.39 842.29L266.53 842.28L270.67 842.27L274.80 842.26L278.94 842.25L283.08 842.24L287.22 842.23L291.35 842.22L295.49 842.21L299.63 842.19L303.76 842.18L307.90 842.17L312.04 842.15L316.17 842.14L320.31 842.12L324.45 842.11L328.58 842.09L332.72 842.07L336.86 842.06L340.99 842.04L345.13 842.02L349.27 842.00L353.40 841.98L357.54 841.95L361.68 841.93L365.81 841.90L369.95 841.88L374.09 841.85L378.23 841.82L382.36 841.79L386.50 841.76L390.64 841.72L394.77 841.69L398.91 841.65L403.05 841.61L407.18 841.56L411.32 841.52L415.46 841.47L419.59 841.42L423.73 841.36L427.87 841.31L432.00 841.25L436.14 841.18L440.28 841.11L444.41 841.04L448.55 840.96L452.69 840.88L456.83 840.79L460.96 840.70L465.10 840.60L469.24 840.50L473.37 840.38L477.51 840.26L481.65 840.14L485.78 840.00L489.92 839.86L494.06 839.70L498.19 839.54L502.33 839.36L506.47 839.18L510.60 838.98L514.74 838.77L518.88 838.54L523.01 838.30L527.15 838.04L531.29 837.76L535.42 837.47L539.56 837.15L543.70 836.82L547.84 836.46L551.97 836.07L556.11 835.66L560.25 835.22L564.38 834.75L568.52 834.25L572.66 833.71L576.79 833.13L580.93 832.51L585.07 831.85L589.20 831.14L593.34 830.38L597.48 829.56L601.61 828.68L605.75 827.74L609.89 826.73L614.02 825.64L618.16 824.46L622.30 823.20L626.43 821.83L630.57 820.35L634.71 818.75L638.85 817.02L642.98 815.14L647.12 813.10L651.26 810.88L655.39 808.45L659.53 805.79L663.67 802.89L667.80 799.69L671.94 796.18L676.08 792.31L680.21 788.03L684.35 783.30L688.49 778.05L692.62 772.24L693.21 771.36L693.80 770.46L694.39 769.56L694.98 768.64L695.57 767.71L696.16 766.76L696.74 765.80L697.33 764.83L697.92 763.84L698.51 762.83L699.10 761.81L699.69 760.78L700.27 759.72L700.86 758.66L701.45 757.57L702.04 756.48L702.63 755.36L703.22 754.23L703.81 753.08L704.39 751.91L704.98 750.73L705.57 749.53L706.16 748.31L706.75 747.07L707.34 745.82L707.93 744.54L708.51 743.25L709.10 741.94L709.69 740.61L710.28 739.26L710.87 737.89L711.46 736.51L712.04 735.10L712.63 733.67L713.22 732.22L713.81 730.75L714.40 729.26L714.99 727.75L715.58 726.22L716.16 724.67L716.75 723.10L717.34 721.50L717.93 719.89L718.52 718.25L719.11 716.59L719.70 714.90L720.28 713.20L720.87 711.47L721.46 709.72L722.05 707.95L722.64 706.15L723.23 704.34L723.81 702.49L724.40 700.63L724.99 698.74L725.58 696.82L726.17 694.88L726.76 692.92L727.35 690.93L727.93 688.92L728.52 686.88L729.11 684.82L729.70 682.73L730.29 680.61L730.88 678.46L731.47 676.29L732.05 674.09L732.64 671.86L733.23 669.60L733.82 667.31L734.41 664.99L735.00 662.63L735.58 660.25L736.17 657.83L736.76 655.38L737.35 652.90L737.94 650.38L738.53 647.82L739.12 645.22L739.70 642.59L740.29 639.92L740.88 637.21L741.47 634.46L742.06 631.66L742.65 628.83L743.24 625.94L743.82 623.02L744.41 620.05L745.00 617.03L745.59 613.96L746.18 610.84L746.77 607.66L747.35 604.44L747.94 601.15L748.53 597.81L749.12 594.41L749.71 590.95L750.30 587.42L750.89 583.82L751.47 580.15L752.06 576.40L752.65 572.58L753.24 568.67L753.83 564.67L754.42 560.57L755.01 556.38L755.59 552.07L756.18 547.66L756.77 543.13L757.36 538.47L757.95 533.69L758.54 528.77L759.12 523.71L759.71 518.52L760.30 513.19L760.89 507.72L761.48 502.12L762.07 496.41L762.66 490.60L763.24 484.71L763.83 478.77L764.42 472.79L765.01 466.82L765.60 460.87L766.19 454.97L766.78 449.15L767.36 443.43L767.95 437.82L768.54 432.34L769.13 426.99L769.72 421.77L770.31 416.69L770.89 411.75L771.48 406.94L772.07 402.26L772.66 397.70L773.25 393.25L773.84 388.92L774.43 384.68L775.01 380.55L775.60 376.50L776.19 372.54L776.78 368.66L777.37 364.85L777.96 361.11L778.55 357.44L779.13 353.84L779.72 350.29L780.31 346.80L780.90 343.36L781.49 339.97L782.08 336.64L782.66 333.35L783.25 330.10L783.84 326.90L784.43 323.75L785.02 320.63L785.61 317.56L786.20 314.52L786.78 311.53L787.37 308.57L787.96 305.65L788.55 302.77L789.14 299.92L789.73 297.12L790.32 294.35L790.90 291.61L791.49 288.92L792.08 286.26L792.67 283.63L793.26 281.04L793.85 278.49L794.43 275.97L795.02 273.49L795.61 271.05L796.20 268.64L796.79 266.26L797.38 263.92L797.97 261.62L798.55 259.35L799.14 257.11L799.73 254.91L800.32 252.74L800.91 250.61L801.50 248.51L802.09 246.44L802.67 244.40L803.26 242.39L803.85 240.42L804.44 238.48L805.03 236.56L805.62 234.68L806.20 232.83L806.79 231.01L807.38 229.21L807.97 227.45L808.56 225.71L809.15 224.00L809.74 222.32L810.32 220.67L810.91 219.04L811.50 217.43L812.09 215.86L812.68 214.31L813.27 212.78L813.86 211.28L814.44 209.80L815.03 208.34L815.62 206.91L816.21 205.50L816.80 204.12L817.39 202.75L817.97 201.41L818.56 200.09L819.15 198.79L819.74 197.51L820.33 196.25L820.92 195.01L821.51 193.79L822.09 192.59L822.68 191.40L823.27 190.24L823.86 189.10L824.45 187.97L825.04 186.86L825.63 185.77L826.21 184.69L826.80 183.64L827.39 182.59L827.98 181.57L828.57 180.56L829.16 179.57L829.74 178.59L830.33 177.63L830.92 176.68L831.51 175.74L832.10 174.82L832.69 173.92L833.28 173.03L837.41 167.14L841.55 161.84L845.69 157.07L849.82 152.77L853.96 148.88L858.10 145.35L862.23 142.15L866.37 139.23L870.51 136.57L874.64 134.14L878.78 131.91L882.92 129.87L887.05 127.99L891.19 126.25L895.33 124.65L899.47 123.18L903.60 121.81L907.74 120.54L911.88 119.37L916.01 118.27L920.15 117.26L924.29 116.32L928.42 115.44L932.56 114.62L936.70 113.86L940.83 113.15L944.97 112.49L949.11 111.87L953.24 111.29L957.38 110.75L961.52 110.25L965.65 109.78L969.79 109.34L973.93 108.93L978.06 108.54L982.20 108.18L986.34 107.85L990.48 107.53L994.61 107.24L998.75 106.96L1002.89 106.70L1007.02 106.46L1011.16 106.23L1015.30 106.02L1019.43 105.82L1023.57 105.64L1027.71 105.46L1031.84 105.30L1035.98 105.14L1040.12 105.00L1044.25 104.86L1048.39 104.74L1052.53 104.62L1056.66 104.50L1060.80 104.40L1064.94 104.30L1069.07 104.21L1073.21 104.12L1077.35 104.04L1081.49 103.96L1085.62 103.89L1089.76 103.82L1093.90 103.75L1098.03 103.69L1102.17 103.64L1106.31 103.58L1110.44 103.53L1114.58 103.48L1118.72 103.44L1122.85 103.39L1126.99 103.35L1131.13 103.31L1135.26 103.28L1139.40 103.24L1143.54 103.21L1147.67 103.18L1151.81 103.15L1155.95 103.12L1160.09 103.10L1164.22 103.07L1168.36 103.05L1172.50 103.02L1176.63 103.00L1180.77 102.98L1184.91 102.96L1189.04 102.94L1193.18 102.93L1197.32 102.91L1201.45 102.89L1205.59 102.88L1209.73 102.86L1213.86 102.85L1218.00 102.83L1222.14 102.82L1226.27 102.81L1230.41 102.79L1234.55 102.78L1238.68 102.77L1242.82 102.76L1246.96 102.75L1251.10 102.74L1255.23 102.73L1259.37 102.72L1263.51 102.71L1267.64 102.70L1271.78 102.69L1275.92 102.69L1280.05 102.68L1284.19 102.67L1288.33 102.66L1292.46 102.65L1296.60 102.65L1300.74 102.64L1304.87 102.63L1309.01 102.63L1313.15 102.62L1317.28 102.61L1321.42 102.61L1325.56 102.60 M1325.56 102.60L1321.42 102.61L1317.28 102.61L1313.15 102.62L1309.01 102.63L1304.87 102.63L1300.74 102.64L1296.60 102.65L1292.46 102.65L1288.33 102.66L1284.19 102.67L1280.05 102.68L1275.92 102.69L1271.78 102.69L1267.64 102.70L1263.51 102.71L1259.37 102.72L1255.23 102.73L1251.10 102.74L1246.96 102.75L1242.82 102.76L1238.68 102.77L1234.55 102.78L1230.41 102.79L1226.27 102.81L1222.14 102.82L1218.00 102.83L1213.86 102.85L1209.73 102.86L1205.59 102.88L1201.45 102.89L1197.32 102.91L1193.18 102.93L1189.04 102.94L1184.91 102.96L1180.77 102.98L1176.63 103.00L1172.50 103.02L1168.36 103.05L1164.22 103.07L1160.09 103.10L1155.95 103.12L1151.81 103.15L1147.67 103.18L1143.54 103.21L1139.40 103.24L1135.26 103.28L1131.13 103.31L1126.99 103.35L1122.85 103.39L1118.72 103.44L1114.58 103.48L1110.44 103.53L1106.31 103.58L1102.17 103.64L1098.03 103.69L1093.90 103.75L1089.76 103.82L1085.62 103.89L1081.49 103.96L1077.35 104.04L1073.21 104.12L1069.07 104.21L1064.94 104.30L1060.80 104.40L1056.66 104.50L1052.53 104.62L1048.39 104.74L1044.25 104.86L1040.12 105.00L1035.98 105.14L1031.84 105.30L1027.71 105.46L1023.57 105.64L1019.43 105.82L1015.30 106.02L1011.16 106.23L1007.02 106.46L1002.89 106.70L998.75 106.96L994.61 107.24L990.48 107.53L986.34 107.85L982.20 108.18L978.06 108.54L973.93 108.93L969.79 109.34L965.65 109.78L961.52 110.25L957.38 110.75L953.24 111.29L949.11 111.87L944.97 112.49L940.83 113.15L936.70 113.86L932.56 114.62L928.42 115.44L924.29 116.32L920.15 117.26L916.01 118.27L911.88 119.36L907.74 120.54L903.60 121.80L899.47 123.17L895.33 124.65L891.19 126.25L887.05 127.98L882.92 129.86L878.78 131.90L874.64 134.12L870.51 136.55L866.37 139.21L862.23 142.11L858.10 145.31L853.96 148.82L849.82 152.69L845.69 156.97L841.55 161.70L837.41 166.95L833.28 172.76L832.69 173.64L832.10 174.54L831.51 175.44L830.92 176.36L830.33 177.29L829.74 178.24L829.16 179.20L828.57 180.17L827.98 181.16L827.39 182.17L826.80 183.19L826.21 184.22L825.63 185.28L825.04 186.34L824.45 187.43L823.86 188.52L823.27 189.64L822.68 190.77L822.09 191.92L821.51 193.09L820.92 194.27L820.33 195.47L819.74 196.69L819.15 197.93L818.56 199.18L817.97 200.46L817.39 201.75L816.80 203.06L816.21 204.39L815.62 205.74L815.03 207.11L814.44 208.49L813.86 209.90L813.27 211.33L812.68 212.78L812.09 214.25L811.50 215.74L810.91 217.25L810.32 218.78L809.74 220.33L809.15 221.90L808.56 223.50L807.97 225.11L807.38 226.75L806.79 228.41L806.20 230.10L805.62 231.80L805.03 233.53L804.44 235.28L803.85 237.05L803.26 238.85L802.67 240.66L802.09 242.51L801.50 244.37L800.91 246.26L800.32 248.18L799.73 250.12L799.14 252.08L798.55 254.07L797.97 256.08L797.38 258.12L796.79 260.18L796.20 262.27L795.61 264.39L795.02 266.54L794.43 268.71L793.85 270.91L793.26 273.14L792.67 275.40L792.08 277.69L791.49 280.01L790.90 282.37L790.32 284.75L789.73 287.17L789.14 289.62L788.55 292.10L787.96 294.62L787.37 297.18L786.78 299.78L786.20 302.41L785.61 305.08L785.02 307.79L784.43 310.54L783.84 313.34L783.25 316.17L782.66 319.06L782.08 321.98L781.49 324.95L780.90 327.97L780.31 331.04L779.72 334.16L779.13 337.34L778.55 340.56L777.96 343.85L777.37 347.19L776.78 350.59L776.19 354.05L775.60 357.58L775.01 361.18L774.43 364.85L773.84 368.60L773.25 372.42L772.66 376.33L772.07 380.33L771.48 384.43L770.89 388.62L770.31 392.93L769.72 397.34L769.13 401.87L768.54 406.53L767.95 411.31L767.36 416.23L766.78 421.29L766.19 426.48L765.60 431.81L765.01 437.28L764.42 442.88L763.83 448.59L763.24 454.40L762.66 460.29L762.07 466.23L761.48 472.21L760.89 478.18L760.30 484.13L759.71 490.03L759.12 495.85L758.54 501.57L757.95 507.18L757.36 512.66L756.77 518.01L756.18 523.23L755.59 528.31L755.01 533.25L754.42 538.06L753.83 542.74L753.24 547.30L752.65 551.75L752.06 556.08L751.47 560.32L750.89 564.45L750.30 568.50L749.71 572.46L749.12 576.34L748.53 580.15L747.94 583.89L747.35 587.56L746.77 591.16L746.18 594.71L745.59 598.20L745.00 601.64L744.41 605.03L743.82 608.36L743.24 611.65L742.65 614.90L742.06 618.10L741.47 621.25L740.88 624.37L740.29 627.44L739.70 630.48L739.12 633.47L738.53 636.43L737.94 639.35L737.35 642.23L736.76 645.08L736.17 647.88L735.58 650.65L735.00 653.39L734.41 656.08L733.82 658.74L733.23 661.37L732.64 663.96L732.05 666.51L731.47 669.03L730.88 671.51L730.29 673.95L729.70 676.36L729.11 678.74L728.52 681.08L727.93 683.38L727.35 685.65L726.76 687.89L726.17 690.09L725.58 692.26L724.99 694.39L724.40 696.49L723.81 698.56L723.23 700.60L722.64 702.61L722.05 704.58L721.46 706.52L720.87 708.44L720.28 710.32L719.70 712.17L719.11 713.99L718.52 715.79L717.93 717.55L717.34 719.29L716.75 721.00L716.16 722.68L715.58 724.33L714.99 725.96L714.40 727.57L713.81 729.14L713.22 730.69L712.63 732.22L712.04 733.72L711.46 735.20L710.87 736.66L710.28 738.09L709.69 739.50L709.10 740.88L708.51 742.25L707.93 743.59L707.34 744.91L706.75 746.21L706.16 747.49L705.57 748.75L704.98 749.99L704.39 751.21L703.81 752.41L703.22 753.60L702.63 754.76L702.04 755.90L701.45 757.03L700.86 758.14L700.27 759.23L699.69 760.31L699.10 761.36L698.51 762.41L697.92 763.43L697.33 764.44L696.74 765.43L696.16 766.41L695.57 767.37L694.98 768.32L694.39 769.26L693.80 770.18L693.21 771.08L692.62 771.97L688.49 777.86L684.35 783.16L680.21 787.93L676.08 792.23L671.94 796.12L667.80 799.65L663.67 802.85L659.53 805.77L655.39 808.43L651.26 810.86L647.12 813.09L642.98 815.13L638.85 817.01L634.71 818.75L630.57 820.35L626.43 821.82L622.30 823.19L618.16 824.46L614.02 825.63L609.89 826.73L605.75 827.74L601.61 828.68L597.48 829.56L593.34 830.38L589.20 831.14L585.07 831.85L580.93 832.51L576.79 833.13L572.66 833.71L568.52 834.25L564.38 834.75L560.25 835.22L556.11 835.66L551.97 836.07L547.84 836.46L543.70 836.82L539.56 837.15L535.42 837.47L531.29 837.76L527.15 838.04L523.01 838.30L518.88 838.54L514.74 838.77L510.60 838.98L506.47 839.18L502.33 839.36L498.19 839.54L494.06 839.70L489.92 839.86L485.78 840.00L481.65 840.14L477.51 840.26L473.37 840.38L469.24 840.50L465.10 840.60L460.96 840.70L456.83 840.79L452.69 840.88L448.55 840.96L444.41 841.04L440.28 841.11L436.14 841.18L432.00 841.25L427.87 841.31L423.73 841.36L419.59 841.42L415.46 841.47L411.32 841.52L407.18 841.56L403.05 841.61L398.91 841.65L394.77 841.69L390.64 841.72L386.50 841.76L382.36 841.79L378.23 841.82L374.09 841.85L369.95 841.88L365.81 841.90L361.68 841.93L357.54 841.95L353.40 841.98L349.27 842.00L345.13 842.02L340.99 842.04L336.86 842.06L332.72 842.07L328.58 842.09L324.45 842.11L320.31 842.12L316.17 842.14L312.04 842.15L307.90 842.17L303.76 842.18L299.63 842.19L295.49 842.21L291.35 842.22L287.22 842.23L283.08 842.24L278.94 842.25L274.80 842.26L270.67 842.27L266.53 842.28L262.39 842.29L258.26 842.30L254.12 842.31L249.98 842.31L245.85 842.32L241.71 842.33L237.57 842.34L233.44 842.35L229.30 842.35L225.16 842.36L221.03 842.37L216.89 842.37L212.75 842.38L208.62 842.39L204.48 842.39L200.34 842.40" stroke="#008080"/>
<path d="M200.34 848.86L204.48 848.86L208.62 848.85L212.75 848.85L216.89 848.85L221.03 848.84L225.16 848.84L229.30 848.83L233.44 848.83L237.57 848.82L241.71 848.82L245.85 848.81L249.98 848.81L254.12 848.80L258.26 848.80L262.39 848.79L266.53 848.79L270.67 848.78L274.80 848.78L278.94 848.77L283.08 848.76L287.22 848.76L291.35 848.75L295.49 848.74L299.63 848.73L303.76 848.73L307.90 848.72L312.04 848.71L316.17 848.70L320.31 848.69L324.45 848.68L328.58 848.67L332.72 848.66L336.86 848.64L340.99 848.63L345.13 848.62L349.27 848.61L353.40 848.59L357.54 848.58L361.68 848.56L365.81 848.54L369.95 848.52L374.09 848.51L378.23 848.49L382.36 848.46L386.50 848.44L390.64 848.42L394.77 848.39L398.91 848.37L403.05 848.34L407.18 848.31L411.32 848.27L415.46 848.24L419.59 848.20L423.73 848.16L427.87 848.12L432.00 848.08L436.14 848.03L440.28 847.98L444.41 847.93L448.55 847.87L452.69 847.81L456.83 847.74L460.96 847.67L465.10 847.60L469.24 847.52L473.37 847.43L477.51 847.34L481.65 847.25L485.78 847.14L489.92 847.03L494.06 846.91L498.19 846.78L502.33 846.65L506.47 846.50L510.60 846.34L514.74 846.17L518.88 845.99L523.01 845.80L527.15 845.60L531.29 845.37L535.42 845.14L539.56 844.88L543.70 844.61L547.84 844.32L551.97 844.01L556.11 843.68L560.25 843.32L564.38 842.94L568.52 842.53L572.66 842.09L576.79 841.62L580.93 841.12L585.07 840.58L589.20 840.01L593.34 839.39L597.48 838.73L601.61 838.02L605.75 837.27L609.89 836.46L614.02 835.59L618.16 834.66L622.30 833.67L626.43 832.60L630.57 831.46L634.71 830.23L638.85 828.91L642.98 827.49L647.12 825.96L651.26 824.31L655.39 822.51L659.53 820.57L663.67 818.45L667.80 816.14L671.94 813.60L676.08 810.80L680.21 807.70L684.35 804.24L688.49 800.36L692.62 795.99L693.21 795.32L693.80 794.65L694.39 793.95L694.98 793.25L695.57 792.53L696.16 791.80L696.74 791.06L697.33 790.30L697.92 789.52L698.51 788.74L699.10 787.93L699.69 787.12L700.27 786.28L700.86 785.43L701.45 784.57L702.04 783.68L702.63 782.78L703.22 781.86L703.81 780.92L704.39 779.97L704.98 778.99L705.57 778.00L706.16 776.99L706.75 775.95L707.34 774.89L707.93 773.82L708.51 772.72L709.10 771.60L709.69 770.45L710.28 769.28L710.87 768.09L711.46 766.88L712.04 765.63L712.63 764.37L713.22 763.07L713.81 761.76L714.40 760.41L714.99 759.03L715.58 757.63L716.16 756.20L716.75 754.74L717.34 753.25L717.93 751.73L718.52 750.18L719.11 748.59L719.70 746.98L720.28 745.33L720.87 743.65L721.46 741.93L722.05 740.18L722.64 738.40L723.23 736.57L723.81 734.72L724.40 732.82L724.99 730.89L725.58 728.92L726.17 726.91L726.76 724.85L727.35 722.76L727.93 720.63L728.52 718.46L729.11 716.24L729.70 713.98L730.29 711.68L730.88 709.33L731.47 706.93L732.05 704.49L732.64 701.99L733.23 699.46L733.82 696.87L734.41 694.23L735.00 691.53L735.58 688.79L736.17 685.99L736.76 683.14L737.35 680.23L737.94 677.26L738.53 674.24L739.12 671.16L739.70 668.02L740.29 664.82L740.88 661.55L741.47 658.23L742.06 654.84L742.65 651.39L743.24 647.87L743.82 644.29L744.41 640.64L745.00 636.92L745.59 633.13L746.18 629.28L746.77 625.36L747.35 621.36L747.94 617.30L748.53 613.17L749.12 608.96L749.71 604.68L750.30 600.32L750.89 595.89L751.47 591.38L752.06 586.79L752.65 582.13L753.24 577.38L753.83 572.55L754.42 567.63L755.01 562.63L755.59 557.53L756.18 552.35L756.77 547.07L757.36 541.69L757.95 536.21L758.54 530.64L759.12 524.97L759.71 519.20L760.30 513.33L760.89 507.38L761.48 501.34L762.07 495.22L762.66 489.05L763.24 482.83L763.83 476.58L764.42 470.31L765.01 464.06L765.60 457.82L766.19 451.63L766.78 445.50L767.36 439.44L767.95 433.45L768.54 427.55L769.13 421.75L769.72 416.04L770.31 410.43L770.89 404.92L771.48 399.50L772.07 394.17L772.66 388.94L773.25 383.80L773.84 378.74L774.43 373.77L775.01 368.87L775.60 364.06L776.19 359.32L776.78 354.66L777.37 350.07L777.96 345.55L778.55 341.11L779.13 336.73L779.72 332.41L780.31 328.16L780.90 323.98L781.49 319.86L782.08 315.81L782.66 311.82L783.25 307.89L783.84 304.02L784.43 300.22L785.02 296.48L785.61 292.80L786.20 289.18L786.78 285.62L787.37 282.12L787.96 278.68L788.55 275.31L789.14 271.99L789.73 268.74L790.32 265.54L790.90 262.41L791.49 259.33L792.08 256.31L792.67 253.36L793.26 250.46L793.85 247.62L794.43 244.84L795.02 242.11L795.61 239.44L796.20 236.83L796.79 234.27L797.38 231.77L797.97 229.32L798.55 226.93L799.14 224.59L799.73 222.30L800.32 220.06L800.91 217.87L801.50 215.72L802.09 213.63L802.67 211.59L803.26 209.58L803.85 207.63L804.44 205.72L805.03 203.85L805.62 202.03L806.20 200.24L806.79 198.50L807.38 196.79L807.97 195.13L808.56 193.50L809.15 191.91L809.74 190.35L810.32 188.83L810.91 187.34L811.50 185.89L812.09 184.47L812.68 183.08L813.27 181.72L813.86 180.39L814.44 179.09L815.03 177.82L815.62 176.58L816.21 175.36L816.80 174.17L817.39 173.00L817.97 171.86L818.56 170.75L819.15 169.66L819.74 168.59L820.33 167.54L820.92 166.52L821.51 165.52L822.09 164.53L822.68 163.57L823.27 162.63L823.86 161.71L824.45 160.80L825.04 159.92L825.63 159.05L826.21 158.20L826.80 157.36L827.39 156.54L827.98 155.74L828.57 154.96L829.16 154.18L829.74 153.43L830.33 152.69L830.92 151.96L831.51 151.24L832.10 150.54L832.69 149.85L833.28 149.18L837.41 144.76L841.55 140.85L845.69 137.36L849.82 134.24L853.96 131.43L858.10 128.89L862.23 126.57L866.37 124.45L870.51 122.50L874.64 120.71L878.78 119.05L882.92 117.52L887.05 116.09L891.19 114.77L895.33 113.54L899.47 112.40L903.60 111.33L907.74 110.34L911.88 109.41L916.01 108.54L920.15 107.73L924.29 106.98L928.42 106.27L932.56 105.61L936.70 104.99L940.83 104.42L944.97 103.88L949.11 103.38L953.24 102.91L957.38 102.47L961.52 102.06L965.65 101.68L969.79 101.32L973.93 100.99L978.06 100.68L982.20 100.39L986.34 100.12L990.48 99.86L994.61 99.63L998.75 99.40L1002.89 99.20L1007.02 99.01L1011.16 98.83L1015.30 98.66L1019.43 98.50L1023.57 98.35L1027.71 98.22L1031.84 98.09L1035.98 97.97L1040.12 97.86L1044.25 97.75L1048.39 97.66L1052.53 97.57L1056.66 97.48L1060.80 97.40L1064.94 97.33L1069.07 97.26L1073.21 97.19L1077.35 97.13L1081.49 97.07L1085.62 97.02L1089.76 96.97L1093.90 96.92L1098.03 96.88L1102.17 96.84L1106.31 96.80L1110.44 96.76L1114.58 96.73L1118.72 96.69L1122.85 96.66L1126.99 96.63L1131.13 96.61L1135.26 96.58L1139.40 96.56L1143.54 96.54L1147.67 96.51L1151.81 96.49L1155.95 96.48L1160.09 96.46L1164.22 96.44L1168.36 96.42L1172.50 96.41L1176.63 96.39L1180.77 96.38L1184.91 96.37L1189.04 96.36L1193.18 96.34L1197.32 96.33L1201.45 96.32L1205.59 96.31L1209.73 96.30L1213.86 96.29L1218.00 96.28L1222.14 96.27L1226.27 96.27L1230.41 96.26L1234.55 96.25L1238.68 96.24L1242.82 96.24L1246.96 96.23L1251.10 96.22L1255.23 96.22L1259.37 96.21L1263.51 96.21L1267.64 96.20L1271.78 96.20L1275.92 96.19L1280.05 96.19L1284.19 96.18L1288.33 96.18L1292.46 96.17L1296.60 96.17L1300.74 96.16L1304.87 96.16L1309.01 96.15L1313.15 96.15L1317.28 96.15L1321.42 96.14L1325.56 96.14 M1325.56 96.14L1321.42 96.14L1317.28 96.15L1313.15 96.15L1309.01 96.15L1304.87 96.16L1300.74 96.16L1296.60 96.17L1292.46 96.17L1288.33 96.18L1284.19 96.18L1280.05 96.19L1275.92 96.19L1271.78 96.20L1267.64 96.20L1263.51 96.21L1259.37 96.21L1255.23 96.22L1251.10 96.22L1246.96 96.23L1242.82 96.24L1238.68 96.24L1234.55 96.25L1230.41 96.26L1226.27 96.27L1222.14 96.27L1218.00 96.28L1213.86 96.29L1209.73 96.30L1205.59 96.31L1201.45 96.32L1197.32 96.33L1193.18 96.34L1189.04 96.36L1184.91 96.37L1180.77 96.38L1176.63 96.39L1172.50 96.41L1168.36 96.42L1164.22 96.44L1160.09 96.46L1155.95 96.48L1151.81 96.49L1147.67 96.51L1143.54 96.54L1139.40 96.56L1135.26 96.58L1131.13 96.61L1126.99 96.63L1122.85 96.66L1118.72 96.69L1114.58 96.73L1110.44 96.76L1106.31 96.80L1102.17 96.84L1098.03 96.88L1093.90 96.92L1089.76 96.97L1085.62 97.02L1081.49 97.07L1077.35 97.13L1073.21 97.19L1069.07 97.26L1064.94 97.33L1060.80 97.40L1056.66 97.48L1052.53 97.57L1048.39 97.66L1044.25 97.75L1040.12 97.86L1035.98 97.97L1031.84 98.09L1027.71 98.22L1023.57 98.35L1019.43 98.50L1015.30 98.66L1011.16 98.83L1007.02 99.01L1002.89 99.20L998.75 99.40L994.61 99.63L990.48 99.86L986.34 100.12L982.20 100.39L978.06 100.68L973.93 100.99L969.79 101.32L965.65 101.68L961.52 102.06L957.38 102.47L953.24 102.91L949.11 103.38L944.97 103.88L940.83 104.42L936.70 104.99L932.56 105.61L928.42 106.27L924.29 106.98L920.15 107.73L916.01 108.54L911.88 109.41L907.74 110.34L903.60 111.33L899.47 112.40L895.33 113.54L891.19 114.77L887.05 116.09L882.92 117.51L878.78 119.04L874.64 120.69L870.51 122.49L866.37 124.43L862.23 126.55L858.10 128.86L853.96 131.40L849.82 134.20L845.69 137.30L841.55 140.76L837.41 144.64L833.28 149.01L832.69 149.68L832.10 150.35L831.51 151.05L830.92 151.75L830.33 152.47L829.74 153.20L829.16 153.94L828.57 154.70L827.98 155.48L827.39 156.26L826.80 157.07L826.21 157.88L825.63 158.72L825.04 159.57L824.45 160.43L823.86 161.32L823.27 162.22L822.68 163.14L822.09 164.08L821.51 165.03L820.92 166.01L820.33 167.00L819.74 168.01L819.15 169.05L818.56 170.11L817.97 171.18L817.39 172.28L816.80 173.40L816.21 174.55L815.62 175.72L815.03 176.91L814.44 178.12L813.86 179.37L813.27 180.63L812.68 181.93L812.09 183.24L811.50 184.59L810.91 185.97L810.32 187.37L809.74 188.80L809.15 190.26L808.56 191.75L807.97 193.27L807.38 194.82L806.79 196.41L806.20 198.02L805.62 199.67L805.03 201.35L804.44 203.07L803.85 204.82L803.26 206.60L802.67 208.43L802.09 210.28L801.50 212.18L800.91 214.11L800.32 216.08L799.73 218.09L799.14 220.15L798.55 222.24L797.97 224.37L797.38 226.54L796.79 228.76L796.20 231.02L795.61 233.32L795.02 235.67L794.43 238.07L793.85 240.51L793.26 243.01L792.67 245.54L792.08 248.13L791.49 250.77L790.90 253.47L790.32 256.21L789.73 259.01L789.14 261.86L788.55 264.77L787.96 267.74L787.37 270.76L786.78 273.84L786.20 276.98L785.61 280.18L785.02 283.45L784.43 286.77L783.84 290.16L783.25 293.61L782.66 297.13L782.08 300.71L781.49 304.36L780.90 308.08L780.31 311.87L779.72 315.72L779.13 319.64L778.55 323.64L777.96 327.70L777.37 331.83L776.78 336.04L776.19 340.32L775.60 344.68L775.01 349.11L774.43 353.62L773.84 358.21L773.25 362.87L772.66 367.62L772.07 372.45L771.48 377.37L770.89 382.37L770.31 387.47L769.72 392.65L769.13 397.93L768.54 403.31L767.95 408.79L767.36 414.36L766.78 420.03L766.19 425.80L765.60 431.67L765.01 437.62L764.42 443.66L763.83 449.78L763.24 455.95L762.66 462.17L762.07 468.42L761.48 474.69L760.89 480.94L760.30 487.18L759.71 493.37L759.12 499.50L758.54 505.56L757.95 511.55L757.36 517.45L756.77 523.25L756.18 528.96L755.59 534.57L755.01 540.08L754.42 545.50L753.83 550.83L753.24 556.06L752.65 561.20L752.06 566.26L751.47 571.23L750.89 576.13L750.30 580.94L749.71 585.68L749.12 590.34L748.53 594.93L747.94 599.45L747.35 603.89L746.77 608.27L746.18 612.59L745.59 616.84L745.00 621.02L744.41 625.14L743.82 629.19L743.24 633.18L742.65 637.11L742.06 640.98L741.47 644.78L740.88 648.52L740.29 652.20L739.70 655.82L739.12 659.38L738.53 662.88L737.94 666.32L737.35 669.69L736.76 673.01L736.17 676.26L735.58 679.46L735.00 682.59L734.41 685.67L733.82 688.69L733.23 691.64L732.64 694.54L732.05 697.38L731.47 700.16L730.88 702.89L730.29 705.56L729.70 708.17L729.11 710.73L728.52 713.23L727.93 715.68L727.35 718.07L726.76 720.41L726.17 722.70L725.58 724.94L724.99 727.13L724.40 729.28L723.81 731.37L723.23 733.41L722.64 735.42L722.05 737.37L721.46 739.28L720.87 741.15L720.28 742.97L719.70 744.76L719.11 746.50L718.52 748.21L717.93 749.87L717.34 751.50L716.75 753.09L716.16 754.65L715.58 756.17L714.99 757.66L714.40 759.11L713.81 760.53L713.22 761.92L712.63 763.28L712.04 764.61L711.46 765.91L710.87 767.18L710.28 768.42L709.69 769.64L709.10 770.83L708.51 772.00L707.93 773.14L707.34 774.25L706.75 775.34L706.16 776.41L705.57 777.46L704.98 778.48L704.39 779.48L703.81 780.47L703.22 781.43L702.63 782.37L702.04 783.29L701.45 784.20L700.86 785.08L700.27 785.95L699.69 786.80L699.10 787.64L698.51 788.46L697.92 789.26L697.33 790.04L696.74 790.82L696.16 791.57L695.57 792.31L694.98 793.04L694.39 793.76L693.80 794.46L693.21 795.15L692.62 795.82L688.49 800.24L684.35 804.15L680.21 807.64L676.08 810.76L671.94 813.57L667.80 816.11L663.67 818.43L659.53 820.55L655.39 822.50L651.26 824.29L647.12 825.95L642.98 827.48L638.85 828.91L634.71 830.23L630.57 831.46L626.43 832.60L622.30 833.67L618.16 834.66L614.02 835.59L609.89 836.46L605.75 837.27L601.61 838.02L597.48 838.73L593.34 839.39L589.20 840.01L585.07 840.58L580.93 841.12L576.79 841.62L572.66 842.09L568.52 842.53L564.38 842.94L560.25 843.32L556.11 843.68L551.97 844.01L547.84 844.32L543.70 844.61L539.56 844.88L535.42 845.14L531.29 845.37L527.15 845.60L523.01 845.80L518.88 845.99L514.74 846.17L510.60 846.34L506.47 846.50L502.33 846.65L498.19 846.78L494.06 846.91L489.92 847.03L485.78 847.14L481.65 847.25L477.51 847.34L473.37 847.43L469.24 847.52L465.10 847.60L460.96 847.67L456.83 847.74L452.69 847.81L448.55 847.87L444.41 847.93L440.28 847.98L436.14 848.03L432.00 848.08L427.87 848.12L423.73 848.16L419.59 848.20L415.46 848.24L411.32 848.27L407.18 848.31L403.05 848.34L398.91 848.37L394.77 848.39L390.64 848.42L386.50 848.44L382.36 848.46L378.23 848.49L374.09 848.51L369.95 848.52L365.81 848.54L361.68 848.56L357.54 848.58L353.40 848.59L349.27 848.61L345.13 848.62L340.99 848.63L336.86 848.64L332.72 848.66L328.58 848.67L324.45 848.68L320.31 848.69L316.17 848.70L312.04 848.71L307.90 848.72L303.76 848.73L299.63 848.73L295.49 848.74L291.35 848.75L287.22 848.76L283.08 848.76L278.94 848.77L274.80 848.78L270.67 848.78L266.53 848.79L262.39 848.79L258.26 848.80L254.12 848.80L249.98 848.81L245.85 848.81L241.71 848.82L237.57 848.82L233.44 848.83L229.30 848.83L225.16 848.84L221.03 848.84L216.89 848.85L212.75 848.85L208.62 848.85L204.48 848.86L200.34 848.86" stroke="#ff00ff"/>
<path d="M200.34 838.35L204.48 838.32L208.62 838.29L212.75 838.25L216.89 838.22L221.03 838.18L225.16 838.14L229.30 838.11L233.44 838.07L237.57 838.03L241.71 837.99L245.85 837.95L249.98 837.92L254.12 837.87L258.26 837.83L262.39 837.79L266.53 837.75L270.67 837.71L274.80 837.66L278.94 837.62L283.08 837.57L287.22 837.52L291.35 837.48L295.49 837.43L299.63 837.38L303.76 837.33L307.90 837.28L312.04 837.23L316.17 837.17L320.31 837.12L324.45 837.07L328.58 837.01L332.72 836.95L336.86 836.89L340.99 836.83L345.13 836.77L349.27 836.71L353.40 836.65L357.54 836.58L361.68 836.51L365.81 836.44L369.95 836.37L374.09 836.30L378.23 836.23L382.36 836.15L386.50 836.08L390.64 836.00L394.77 835.92L398.91 835.83L403.05 835.75L407.18 835.66L411.32 835.57L415.46 835.48L419.59 835.38L423.73 835.28L427.87 835.18L432.00 835.07L436.14 834.96L440.28 834.85L444.41 834.74L448.55 834.62L452.69 834.49L456.83 834.36L460.96 834.23L465.10 834.09L469.24 833.95L473.37 833.80L477.51 833.64L481.65 833.48L485.78 833.31L489.92 833.14L494.06 832.95L498.19 832.76L502.33 832.56L506.47 832.35L510.60 832.13L514.74 831.90L518.88 831.66L523.01 831.40L527.15 831.13L531.29 830.85L535.42 830.55L539.56 830.24L543.70 829.91L547.84 829.56L551.97 829.18L556.11 828.79L560.25 828.37L564.38 827.93L568.52 827.45L572.66 826.95L576.79 826.42L580.93 825.85L585.07 825.24L589.20 824.59L593.34 823.90L597.48 823.16L601.61 822.37L605.75 821.52L609.89 820.61L614.02 819.64L618.16 818.59L622.30 817.47L626.43 816.27L630.57 814.97L634.71 813.58L638.85 812.09L642.98 810.48L647.12 808.74L651.26 806.87L655.39 804.86L659.53 802.68L663.67 800.33L667.80 797.79L671.94 795.04L676.08 792.05L680.21 788.80L684.35 785.26L688.49 781.39L692.62 777.14L693.21 776.50L693.80 775.85L694.39 775.20L694.98 774.53L695.57 773.86L696.16 773.17L696.74 772.48L697.33 771.77L697.92 771.06L698.51 770.33L699.10 769.60L699.69 768.85L700.27 768.09L700.86 767.32L701.45 766.54L702.04 765.75L702.63 764.94L703.22 764.12L703.81 763.29L704.39 762.44L704.98 761.58L705.57 760.71L706.16 759.82L706.75 758.92L707.34 758.00L707.93 757.07L708.51 756.12L709.10 755.15L709.69 754.17L710.28 753.17L710.87 752.16L711.46 751.12L712.04 750.07L712.63 749.00L713.22 747.90L713.81 746.79L714.40 745.66L714.99 744.51L715.58 743.33L716.16 742.13L716.75 740.91L717.34 739.67L717.93 738.40L718.52 737.11L719.11 735.79L719.70 734.45L720.28 733.07L720.87 731.68L721.46 730.25L722.05 728.79L722.64 727.30L723.23 725.79L723.81 724.24L724.40 722.66L724.99 721.04L725.58 719.39L726.17 717.70L726.76 715.98L727.35 714.22L727.93 712.42L728.52 710.58L729.11 708.70L729.70 706.77L730.29 704.80L730.88 702.79L731.47 700.73L732.05 698.62L732.64 696.46L733.23 694.25L733.82 691.99L734.41 689.67L735.00 687.29L735.58 684.86L736.17 682.36L736.76 679.81L737.35 677.19L737.94 674.50L738.53 671.75L739.12 668.93L739.70 666.03L740.29 663.07L740.88 660.02L741.47 656.90L742.06 653.70L742.65 650.42L743.24 647.06L743.82 643.61L744.41 640.07L745.00 636.45L745.59 632.74L746.18 628.93L746.77 625.04L747.35 621.05L747.94 616.96L748.53 612.78L749.12 608.51L749.71 604.14L750.30 599.68L750.89 595.11L751.47 590.46L752.06 585.70L752.65 580.86L753.24 575.92L753.83 570.89L754.42 565.77L755.01 560.56L755.59 555.27L756.18 549.90L756.77 544.45L757.36 538.92L757.95 533.33L758.54 527.67L759.12 521.95L759.71 516.17L760.30 510.35L760.89 504.48L761.48 498.58L762.07 492.64L762.66 486.69L763.24 480.71L763.83 474.73L764.42 468.74L765.01 462.76L765.60 456.79L766.19 450.83L766.78 444.91L767.36 439.01L767.95 433.15L768.54 427.34L769.13 421.57L769.72 415.86L770.31 410.21L770.89 404.62L771.48 399.11L772.07 393.66L772.66 388.29L773.25 383.00L773.84 377.79L774.43 372.66L775.01 367.62L775.60 362.67L776.19 357.81L776.78 353.03L777.37 348.35L777.96 343.76L778.55 339.25L779.13 334.84L779.72 330.52L780.31 326.29L780.90 322.15L781.49 318.10L782.08 314.14L782.66 310.26L783.25 306.47L783.84 302.77L784.43 299.15L785.02 295.62L785.61 292.17L786.20 288.79L786.78 285.50L787.37 282.29L787.96 279.15L788.55 276.09L789.14 273.11L789.73 270.19L790.32 267.35L790.90 264.58L791.49 261.87L792.08 259.24L792.67 256.66L793.26 254.16L793.85 251.71L794.43 249.33L795.02 247.00L795.61 244.73L796.20 242.52L796.79 240.36L797.38 238.26L797.97 236.21L798.55 234.21L799.14 232.26L799.73 230.35L800.32 228.49L800.91 226.68L801.50 224.91L802.09 223.18L802.67 221.49L803.26 219.84L803.85 218.23L804.44 216.66L805.03 215.12L805.62 213.62L806.20 212.15L806.79 210.72L807.38 209.31L807.97 207.94L808.56 206.59L809.15 205.28L809.74 203.99L810.32 202.73L810.91 201.49L811.50 200.28L812.09 199.10L812.68 197.94L813.27 196.80L813.86 195.68L814.44 194.59L815.03 193.52L815.62 192.46L816.21 191.43L816.80 190.42L817.39 189.42L817.97 188.44L818.56 187.48L819.15 186.54L819.74 185.61L820.33 184.70L820.92 183.81L821.51 182.93L822.09 182.06L822.68 181.21L823.27 180.38L823.86 179.56L824.45 178.75L825.04 177.95L825.63 177.17L826.21 176.40L826.80 175.64L827.39 174.89L827.98 174.15L828.57 173.43L829.16 172.72L829.74 172.01L830.33 171.32L830.92 170.64L831.51 169.96L832.10 169.30L832.69 168.65L833.28 168.00L837.41 163.72L841.55 159.82L845.69 156.26L849.82 153.00L853.96 150.00L858.10 147.24L862.23 144.69L866.37 142.33L870.51 140.15L874.64 138.14L878.78 136.26L882.92 134.53L887.05 132.92L891.19 131.42L895.33 130.03L899.47 128.73L903.60 127.53L907.74 126.41L911.88 125.36L916.01 124.39L920.15 123.48L924.29 122.63L928.42 121.84L932.56 121.10L936.70 120.41L940.83 119.76L944.97 119.15L949.11 118.58L953.24 118.05L957.38 117.55L961.52 117.07L965.65 116.63L969.79 116.21L973.93 115.82L978.06 115.44L982.20 115.09L986.34 114.76L990.48 114.45L994.61 114.15L998.75 113.87L1002.89 113.60L1007.02 113.34L1011.16 113.10L1015.30 112.87L1019.43 112.65L1023.57 112.44L1027.71 112.24L1031.84 112.05L1035.98 111.86L1040.12 111.69L1044.25 111.52L1048.39 111.36L1052.53 111.20L1056.66 111.05L1060.80 110.91L1064.94 110.77L1069.07 110.64L1073.21 110.51L1077.35 110.38L1081.49 110.26L1085.62 110.15L1089.76 110.04L1093.90 109.93L1098.03 109.82L1102.17 109.72L1106.31 109.62L1110.44 109.52L1114.58 109.43L1118.72 109.34L1122.85 109.25L1126.99 109.17L1131.13 109.08L1135.26 109.00L1139.40 108.92L1143.54 108.85L1147.67 108.77L1151.81 108.70L1155.95 108.63L1160.09 108.56L1164.22 108.49L1168.36 108.42L1172.50 108.35L1176.63 108.29L1180.77 108.23L1184.91 108.17L1189.04 108.11L1193.18 108.05L1197.32 107.99L1201.45 107.93L1205.59 107.88L1209.73 107.83L1213.86 107.77L1218.00 107.72L1222.14 107.67L1226.27 107.62L1230.41 107.57L1234.55 107.52L1238.68 107.48L1242.82 107.43L1246.96 107.38L1251.10 107.34L1255.23 107.29L1259.37 107.25L1263.51 107.21L1267.64 107.17L1271.78 107.13L1275.92 107.08L1280.05 107.05L1284.19 107.01L1288.33 106.97L1292.46 106.93L1296.60 106.89L1300.74 106.86L1304.87 106.82L1309.01 106.78L1313.15 106.75L1317.28 106.71L1321.42 106.68L1325.56 106.65 M1325.56 106.65L1321.42 106.68L1317.28 106.71L1313.15 106.75L1309.01 106.78L1304.87 106.82L1300.74 106.86L1296.60 106.89L1292.46 106.93L1288.33 106.97L1284.19 107.01L1280.05 107.05L1275.92 107.08L1271.78 107.13L1267.64 107.17L1263.51 107.21L1259.37 107.25L1255.23 107.29L1251.10 107.34L1246.96 107.38L1242.82 107.43L1238.68 107.48L1234.55 107.52L1230.41 107.57L1226.27 107.62L1222.14 107.67L1218.00 107.72L1213.86 107.77L1209.73 107.83L1205.59 107.88L1201.45 107.93L1197.32 107.99L1193.18 108.05L1189.04 108.11L1184.91 108.17L1180.77 108.23L1176.63 108.29L1172.50 108.35L1168.36 108.42L1164.22 108.49L1160.09 108.56L1155.95 108.63L1151.81 108.70L1147.67 108.77L1143.54 108.85L1139.40 108.92L1135.26 109.00L1131.13 109.08L1126.99 109.17L1122.85 109.25L1118.72 109.34L1114.58 109.43L1110.44 109.52L1106.31 109.62L1102.17 109.72L1098.03 109.82L1093.90 109.93L1089.76 110.04L1085.62 110.15L1081.49 110.26L1077.35 110.38L1073.21 110.51L1069.07 110.64L1064.94 110.77L1060.80 110.91L1056.66 111.05L1052.53 111.20L1048.39 111.36L1044.25 111.52L1040.12 111.69L1035.98 111.86L1031.84 112.05L1027.71 112.24L1023.57 112.44L1019.43 112.65L1015.30 112.87L1011.16 113.10L1007.02 113.34L1002.89 113.60L998.75 113.87L994.61 114.15L990.48 114.45L986.34 114.76L982.20 115.09L978.06 115.44L973.93 115.82L969.79 116.21L965.65 116.63L961.52 117.07L957.38 117.55L953.24 118.05L949.11 118.58L944.97 119.15L940.83 119.76L936.70 120.41L932.56 121.10L928.42 121.84L924.29 122.63L920.15 123.48L916.01 124.39L911.88 125.36L907.74 126.41L903.60 127.53L899.47 128.73L895.33 130.03L891.19 131.42L887.05 132.91L882.92 134.52L878.78 136.26L874.64 138.13L870.51 140.14L866.37 142.32L862.23 144.67L858.10 147.21L853.96 149.96L849.82 152.95L845.69 156.20L841.55 159.74L837.41 163.61L833.28 167.86L832.69 168.50L832.10 169.15L831.51 169.80L830.92 170.47L830.33 171.14L829.74 171.83L829.16 172.52L828.57 173.23L827.98 173.94L827.39 174.67L826.80 175.40L826.21 176.15L825.63 176.91L825.04 177.68L824.45 178.46L823.86 179.25L823.27 180.06L822.68 180.88L822.09 181.71L821.51 182.56L820.92 183.42L820.33 184.29L819.74 185.18L819.15 186.08L818.56 187.00L817.97 187.93L817.39 188.88L816.80 189.85L816.21 190.83L815.62 191.83L815.03 192.84L814.44 193.88L813.86 194.93L813.27 196.00L812.68 197.10L812.09 198.21L811.50 199.34L810.91 200.49L810.32 201.67L809.74 202.87L809.15 204.09L808.56 205.33L807.97 206.60L807.38 207.89L806.79 209.21L806.20 210.55L805.62 211.93L805.03 213.32L804.44 214.75L803.85 216.21L803.26 217.70L802.67 219.21L802.09 220.76L801.50 222.34L800.91 223.96L800.32 225.61L799.73 227.30L799.14 229.02L798.55 230.78L797.97 232.58L797.38 234.42L796.79 236.30L796.20 238.23L795.61 240.20L795.02 242.21L794.43 244.27L793.85 246.38L793.26 248.54L792.67 250.75L792.08 253.01L791.49 255.33L790.90 257.71L790.32 260.14L789.73 262.64L789.14 265.19L788.55 267.81L787.96 270.50L787.37 273.25L786.78 276.07L786.20 278.97L785.61 281.93L785.02 284.98L784.43 288.10L783.84 291.30L783.25 294.58L782.66 297.94L782.08 301.39L781.49 304.93L780.90 308.55L780.31 312.26L779.72 316.07L779.13 319.96L778.55 323.95L777.96 328.04L777.37 332.22L776.78 336.49L776.19 340.86L775.60 345.32L775.01 349.89L774.43 354.54L773.84 359.30L773.25 364.14L772.66 369.08L772.07 374.11L771.48 379.23L770.89 384.44L770.31 389.73L769.72 395.10L769.13 400.55L768.54 406.08L767.95 411.67L767.36 417.33L766.78 423.05L766.19 428.83L765.60 434.65L765.01 440.52L764.42 446.42L763.83 452.36L763.24 458.31L762.66 464.29L762.07 470.27L761.48 476.26L760.89 482.24L760.30 488.21L759.71 494.17L759.12 500.09L758.54 505.99L757.95 511.85L757.36 517.66L756.77 523.43L756.18 529.14L755.59 534.79L755.01 540.38L754.42 545.89L753.83 551.34L753.24 556.71L752.65 562.00L752.06 567.21L751.47 572.34L750.89 577.38L750.30 582.33L749.71 587.19L749.12 591.97L748.53 596.65L747.94 601.24L747.35 605.75L746.77 610.16L746.18 614.48L745.59 618.71L745.00 622.85L744.41 626.90L743.82 630.86L743.24 634.74L742.65 638.53L742.06 642.23L741.47 645.85L740.88 649.38L740.29 652.83L739.70 656.21L739.12 659.50L738.53 662.71L737.94 665.85L737.35 668.91L736.76 671.89L736.17 674.81L735.58 677.65L735.00 680.42L734.41 683.13L733.82 685.76L733.23 688.34L732.64 690.84L732.05 693.29L731.47 695.67L730.88 698.00L730.29 700.27L729.70 702.48L729.11 704.64L728.52 706.74L727.93 708.79L727.35 710.79L726.76 712.74L726.17 714.65L725.58 716.51L724.99 718.32L724.40 720.09L723.81 721.82L723.23 723.51L722.64 725.16L722.05 726.77L721.46 728.34L720.87 729.88L720.28 731.38L719.70 732.85L719.11 734.28L718.52 735.69L717.93 737.06L717.34 738.41L716.75 739.72L716.16 741.01L715.58 742.27L714.99 743.51L714.40 744.72L713.81 745.90L713.22 747.06L712.63 748.20L712.04 749.32L711.46 750.41L710.87 751.48L710.28 752.54L709.69 753.57L709.10 754.58L708.51 755.58L707.93 756.56L707.34 757.52L706.75 758.46L706.16 759.39L705.57 760.30L704.98 761.19L704.39 762.07L703.81 762.94L703.22 763.79L702.63 764.62L702.04 765.44L701.45 766.25L700.86 767.05L700.27 767.83L699.69 768.60L699.10 769.36L698.51 770.11L697.92 770.85L697.33 771.57L696.74 772.28L696.16 772.99L695.57 773.68L694.98 774.36L694.39 775.04L693.80 775.70L693.21 776.35L692.62 777.00L688.49 781.28L684.35 785.18L680.21 788.74L676.08 792.00L671.94 795.00L667.80 797.76L663.67 800.31L659.53 802.67L655.39 804.85L651.26 806.86L647.12 808.74L642.98 810.47L638.85 812.08L634.71 813.58L630.57 814.97L626.43 816.27L622.30 817.47L618.16 818.59L614.02 819.64L609.89 820.61L605.75 821.52L601.61 822.37L597.48 823.16L593.34 823.90L589.20 824.59L585.07 825.24L580.93 825.85L576.79 826.42L572.66 826.95L568.52 827.45L564.38 827.93L560.25 828.37L556.11 828.79L551.97 829.18L547.84 829.56L543.70 829.91L539.56 830.24L535.42 830.55L531.29 830.85L527.15 831.13L523.01 831.40L518.88 831.66L514.74 831.90L510.60 832.13L506.47 832.35L502.33 832.56L498.19 832.76L494.06 832.95L489.92 833.14L485.78 833.31L481.65 833.48L477.51 833.64L473.37 833.80L469.24 833.95L465.10 834.09L460.96 834.23L456.83 834.36L452.69 834.49L448.55 834.62L444.41 834.74L440.28 834.85L436.14 834.96L432.00 835.07L427.87 835.18L423.73 835.28L419.59 835.38L415.46 835.48L411.32 835.57L407.18 835.66L403.05 835.75L398.91 835.83L394.77 835.92L390.64 836.00L386.50 836.08L382.36 836.15L378.23 836.23L374.09 836.30L369.95 836.37L365.81 836.44L361.68 836.51L357.54 836.58L353.40 836.65L349.27 836.71L345.13 836.77L340.99 836.83L336.86 836.89L332.72 836.95L328.58 837.01L324.45 837.07L320.31 837.12L316.17 837.17L312.04 837.23L307.90 837.28L303.76 837.33L299.63 837.38L295.49 837.43L291.35 837.48L287.22 837.52L283.08 837.57L278.94 837.62L274.80 837.66L270.67 837.71L266.53 837.75L262.39 837.79L258.26 837.83L254.12 837.87L249.98 837.92L245.85 837.95L241.71 837.99L237.57 838.03L233.44 838.07L229.30 838.11L225.16 838.14L221.03 838.18L216.89 838.22L212.75 838.25L208.62 838.29L204.48 838.32L200.34 838.35" stroke="#808000"/>
</g>
<line x1="176.90" y1="472.50" x2="1349.00" y2="472.50" stroke="#5a5a5a" stroke-width="1.7"/>
<line x1="762.95" y1="43.70" x2="762.95" y2="901.30" stroke="#222222" stroke-width="1.7"/>
<rect x="391.10" y="88.40" width="264.50" height="353.60" fill="#fff" stroke="#6a6a6a" stroke-width="1.7"/>
<line x1="404.00" y1="128.40" x2="506.50" y2="128.40" stroke="#000000" stroke-width="3.90" stroke-linecap="round"/>
<text transform="translate(518.30 143.90) scale(1.000 1)" font-family="'Liberation Serif', serif" font-size="46.00" font-weight="normal" text-anchor="start">x=0.00</text>
<line x1="404.00" y1="185.50" x2="506.50" y2="185.50" stroke="#ff0000" stroke-width="3.90" stroke-linecap="round"/>
<text transform="translate(518.30 201.00) scale(1.000 1)" font-family="'Liberation Serif', serif" font-size="46.00" font-weight="normal" text-anchor="start">x=0.15</text>
<line x1="404.00" y1="242.60" x2="506.50" y2="242.60" stroke="#0000ff" stroke-width="3.90" stroke-linecap="round"/>
<text transform="translate(518.30 258.10) scale(1.000 1)" font-family="'Liberation Serif', serif" font-size="46.00" font-weight="normal" text-anchor="start">x=0.30</text>
<line x1="404.00" y1="299.70" x2="506.50" y2="299.70" stroke="#008080" stroke-width="3.90" stroke-linecap="round"/>
<text transform="translate(518.30 315.20) scale(1.000 1)" font-family="'Liberation Serif', serif" font-size="46.00" font-weight="normal" text-anchor="start">x=0.45</text>
<line x1="404.00" y1="356.80" x2="506.50" y2="356.80" stroke="#ff00ff" stroke-width="3.90" stroke-linecap="round"/>
<text transform="translate(518.30 372.30) scale(1.000 1)" font-family="'Liberation Serif', serif" font-size="46.00" font-weight="normal" text-anchor="start">x=0.60</text>
<line x1="404.00" y1="413.90" x2="506.50" y2="413.90" stroke="#808000" stroke-width="3.90" stroke-linecap="round"/>
<text transform="translate(518.30 429.40) scale(1.000 1)" font-family="'Liberation Serif', serif" font-size="46.00" font-weight="normal" text-anchor="start">x=0.75</text>
<rect x="176.90" y="43.70" width="1172.10" height="857.60" fill="none" stroke="#000" stroke-width="3.4"/>
<line x1="167.90" y1="901.30" x2="176.90" y2="901.30" stroke="#000" stroke-width="3.4"/>
<line x1="158.90" y1="853.66" x2="176.90" y2="853.66" stroke="#000" stroke-width="3.4"/>
<line x1="167.90" y1="806.01" x2="176.90" y2="806.01" stroke="#000" stroke-width="3.4"/>
<line x1="158.90" y1="758.37" x2="176.90" y2="758.37" stroke="#000" stroke-width="3.4"/>
<line x1="167.90" y1="710.72" x2="176.90" y2="710.72" stroke="#000" stroke-width="3.4"/>
<line x1="158.90" y1="663.08" x2="176.90" y2="663.08" stroke="#000" stroke-width="3.4"/>
<line x1="167.90" y1="615.43" x2="176.90" y2="615.43" stroke="#000" stroke-width="3.4"/>
<line x1="158.90" y1="567.79" x2="176.90" y2="567.79" stroke="#000" stroke-width="3.4"/>
<line x1="167.90" y1="520.14" x2="176.90" y2="520.14" stroke="#000" stroke-width="3.4"/>
<line x1="158.90" y1="472.50" x2="176.90" y2="472.50" stroke="#000" stroke-width="3.4"/>
<line x1="167.90" y1="424.86" x2="176.90" y2="424.86" stroke="#000" stroke-width="3.4"/>
<line x1="158.90" y1="377.21" x2="176.90" y2="377.21" stroke="#000" stroke-width="3.4"/>
<line x1="167.90" y1="329.57" x2="176.90" y2="329.57" stroke="#000" stroke-width="3.4"/>
<line x1="158.90" y1="281.92" x2="176.90" y2="281.92" stroke="#000" stroke-width="3.4"/>
<line x1="167.90" y1="234.28" x2="176.90" y2="234.28" stroke="#000" stroke-width="3.4"/>
<line x1="158.90" y1="186.63" x2="176.90" y2="186.63" stroke="#000" stroke-width="3.4"/>
<line x1="167.90" y1="138.99" x2="176.90" y2="138.99" stroke="#000" stroke-width="3.4"/>
<line x1="158.90" y1="91.34" x2="176.90" y2="91.34" stroke="#000" stroke-width="3.4"/>
<line x1="167.90" y1="43.70" x2="176.90" y2="43.70" stroke="#000" stroke-width="3.4"/>
<line x1="176.90" y1="901.30" x2="176.90" y2="909.80" stroke="#000" stroke-width="3.4"/>
<line x1="294.11" y1="901.30" x2="294.11" y2="919.80" stroke="#000" stroke-width="3.4"/>
<line x1="411.32" y1="901.30" x2="411.32" y2="909.80" stroke="#000" stroke-width="3.4"/>
<line x1="528.53" y1="901.30" x2="528.53" y2="919.80" stroke="#000" stroke-width="3.4"/>
<line x1="645.74" y1="901.30" x2="645.74" y2="909.80" stroke="#000" stroke-width="3.4"/>
<line x1="762.95" y1="901.30" x2="762.95" y2="919.80" stroke="#000" stroke-width="3.4"/>
<line x1="880.16" y1="901.30" x2="880.16" y2="909.80" stroke="#000" stroke-width="3.4"/>
<line x1="997.37" y1="901.30" x2="997.37" y2="919.80" stroke="#000" stroke-width="3.4"/>
<line x1="1114.58" y1="901.30" x2="1114.58" y2="909.80" stroke="#000" stroke-width="3.4"/>
<line x1="1231.79" y1="901.30" x2="1231.79" y2="919.80" stroke="#000" stroke-width="3.4"/>
<line x1="1349.00" y1="901.30" x2="1349.00" y2="909.80" stroke="#000" stroke-width="3.4"/>
<text transform="translate(147.20 866.86) scale(1.000 1)" font-family="'Liberation Serif', serif" font-size="46.50" font-weight="bold" text-anchor="end">-80</text>
<text transform="translate(147.20 771.57) scale(1.000 1)" font-family="'Liberation Serif', serif" font-size="46.50" font-weight="bold" text-anchor="end">-60</text>
<text transform="translate(147.20 676.28) scale(1.000 1)" font-family="'Liberation Serif', serif" font-size="46.50" font-weight="bold" text-anchor="end">-40</text>
<text transform="translate(147.20 580.99) scale(1.000 1)" font-family="'Liberation Serif', serif" font-size="46.50" font-weight="bold" text-anchor="end">-20</text>
<text transform="translate(147.20 485.70) scale(1.000 1)" font-family="'Liberation Serif', serif" font-size="46.50" font-weight="bold" text-anchor="end">0</text>
<text transform="translate(147.20 390.41) scale(1.000 1)" font-family="'Liberation Serif', serif" font-size="46.50" font-weight="bold" text-anchor="end">20</text>
<text transform="translate(147.20 295.12) scale(1.000 1)" font-family="'Liberation Serif', serif" font-size="46.50" font-weight="bold" text-anchor="end">40</text>
<text transform="translate(147.20 199.83) scale(1.000 1)" font-family="'Liberation Serif', serif" font-size="46.50" font-weight="bold" text-anchor="end">60</text>
<text transform="translate(147.20 104.54) scale(1.000 1)" font-family="'Liberation Serif', serif" font-size="46.50" font-weight="bold" text-anchor="end">80</text>
<text transform="translate(294.11 967.00) scale(1.000 1)" font-family="'Liberation Serif', serif" font-size="46.50" font-weight="bold" text-anchor="middle">-20,000</text>
<text transform="translate(528.53 967.00) scale(1.000 1)" font-family="'Liberation Serif', serif" font-size="46.50" font-weight="bold" text-anchor="middle">-10,000</text>
<text transform="translate(762.95 967.00) scale(1.000 1)" font-family="'Liberation Serif', serif" font-size="46.50" font-weight="bold" text-anchor="middle">0</text>
<text transform="translate(997.37 967.00) scale(1.000 1)" font-family="'Liberation Serif', serif" font-size="46.50" font-weight="bold" text-anchor="middle">10,000</text>
<text transform="translate(1231.79 967.00) scale(1.000 1)" font-family="'Liberation Serif', serif" font-size="46.50" font-weight="bold" text-anchor="middle">20,000</text>
<text transform="translate(773.60 1015.60)" font-family="'Liberation Serif', serif" font-size="46.00" font-weight="bold" text-anchor="middle"><tspan font-style="italic">H</tspan> (Oe)</text>
<text transform="translate(62.00 464.00) rotate(-90)" font-family="'Liberation Serif', serif" font-size="46.00" font-weight="bold" text-anchor="middle"><tspan font-style="italic">M</tspan> (emu/g)</text>
<text transform="translate(245.30 171.80) scale(1.050 1)" font-family="'Liberation Sans', sans-serif" font-size="67.70" font-weight="normal" text-anchor="start">(a)</text>
<g fill="none" stroke-width="3.90" stroke-linejoin="round" stroke-linecap="round">
<path d="M173.70 1716.82L177.54 1715.85L181.38 1714.88L185.22 1713.92L189.06 1712.97L192.90 1712.02L196.74 1711.09L200.58 1710.15L204.42 1709.22L208.26 1708.30L212.10 1707.38L215.94 1706.47L219.78 1705.56L223.62 1704.65L227.46 1703.75L231.30 1702.84L235.13 1701.95L238.97 1701.05L242.81 1700.15L246.65 1699.26L250.49 1698.37L254.33 1697.47L258.17 1696.58L262.01 1695.69L265.85 1694.80L269.69 1693.90L273.53 1693.01L277.37 1692.12L281.21 1691.22L285.05 1690.32L288.89 1689.42L292.73 1688.52L296.57 1687.62L300.41 1686.71L304.25 1685.80L308.09 1684.88L311.93 1683.97L315.77 1683.05L319.61 1682.12L323.45 1681.20L327.29 1680.26L331.13 1679.33L334.97 1678.38L338.81 1677.44L342.65 1676.49L346.49 1675.53L350.32 1674.57L354.16 1673.60L358.00 1672.63L361.84 1671.65L365.68 1670.66L369.52 1669.67L373.36 1668.67L377.20 1667.67L381.04 1666.66L384.88 1665.64L388.72 1664.61L392.56 1663.58L396.40 1662.54L400.24 1661.50L404.08 1660.44L407.92 1659.38L411.76 1658.31L415.60 1657.24L419.44 1656.15L423.28 1655.06L427.12 1653.96L430.96 1652.85L434.80 1651.73L438.64 1650.61L442.48 1649.48L446.32 1648.34L450.16 1647.19L454.00 1646.03L457.84 1644.86L461.68 1643.69L465.51 1642.51L469.35 1641.32L473.19 1640.12L477.03 1638.91L480.87 1637.69L484.71 1636.46L488.55 1635.23L492.39 1633.98L496.23 1632.73L500.07 1631.47L503.91 1630.20L507.75 1628.92L511.59 1627.64L515.43 1626.34L519.27 1625.04L523.11 1623.72L526.95 1622.40L530.79 1621.07L534.63 1619.73L538.47 1618.38L542.31 1617.03L546.15 1615.66L549.99 1614.29L553.83 1612.91L557.67 1611.52L561.51 1610.12L565.35 1608.71L569.19 1607.29L573.03 1605.87L576.87 1604.44L580.70 1603.00L584.54 1601.55L588.38 1600.09L592.22 1598.63L596.06 1597.16L599.90 1595.68L603.74 1594.19L607.58 1592.70L611.42 1591.19L615.26 1589.68L619.10 1588.17L622.94 1586.64L626.78 1585.11L630.62 1583.57L634.46 1582.02L638.30 1580.47L642.14 1578.91L645.98 1577.34L649.82 1575.77L653.66 1574.19L657.50 1572.61L661.34 1571.01L665.18 1569.41L669.02 1567.81L672.86 1566.20L676.70 1564.58L680.54 1562.96L684.38 1561.33L688.22 1559.69L692.05 1558.06L695.89 1556.41L699.73 1554.76L703.57 1553.11L707.41 1551.45L711.25 1549.78L715.09 1548.11L718.93 1546.44L722.77 1544.76L726.61 1543.08L730.45 1541.39L734.29 1539.70L738.13 1538.00L741.97 1536.30L745.81 1534.60L749.65 1532.90L753.49 1531.19L757.33 1529.47L761.17 1527.76L765.01 1526.04L768.85 1524.32L772.69 1522.60L776.53 1520.87L780.37 1519.14L784.21 1517.41L788.05 1515.68L791.89 1513.94L795.73 1512.20L799.57 1510.47L803.41 1508.73L807.25 1506.98L811.08 1505.24L814.92 1503.50L818.76 1501.75L822.60 1500.01L826.44 1498.26L830.28 1496.52L834.12 1494.77L837.96 1493.02L841.80 1491.27L845.64 1489.53L849.48 1487.78L853.32 1486.03L857.16 1484.29L861.00 1482.54L864.84 1480.80L868.68 1479.06L872.52 1477.31L876.36 1475.57L880.20 1473.83L884.04 1472.10L887.88 1470.36L891.72 1468.62L895.56 1466.89L899.40 1465.16L903.24 1463.43L907.08 1461.71L910.92 1459.98L914.76 1458.26L918.60 1456.55L922.43 1454.83L926.27 1453.12L930.11 1451.41L933.95 1449.70L937.79 1448.00L941.63 1446.30L945.47 1444.61L949.31 1442.92L953.15 1441.23L956.99 1439.55L960.83 1437.87L964.67 1436.20L968.51 1434.53L972.35 1432.86L976.19 1431.20L980.03 1429.55L983.87 1427.89L987.71 1426.25L991.55 1424.61L995.39 1422.97L999.23 1421.34L1003.07 1419.72L1006.91 1418.10L1010.75 1416.49L1014.59 1414.88L1018.43 1413.28L1022.27 1411.68L1026.11 1410.09L1029.95 1408.51L1033.79 1406.93L1037.62 1405.36L1041.46 1403.79L1045.30 1402.24L1049.14 1400.68L1052.98 1399.14L1056.82 1397.60L1060.66 1396.07L1064.50 1394.54L1068.34 1393.03L1072.18 1391.52L1076.02 1390.01L1079.86 1388.52L1083.70 1387.03L1087.54 1385.54L1091.38 1384.07L1095.22 1382.60L1099.06 1381.14L1102.90 1379.69L1106.74 1378.24L1110.58 1376.80L1114.42 1375.37L1118.26 1373.95L1122.10 1372.54L1125.94 1371.13L1129.78 1369.73L1133.62 1368.34L1137.46 1366.95L1141.30 1365.57L1145.14 1364.20L1148.98 1362.84L1152.81 1361.49L1156.65 1360.14L1160.49 1358.80L1164.33 1357.47L1168.17 1356.15L1172.01 1354.83L1175.85 1353.52L1179.69 1352.22L1183.53 1350.93L1187.37 1349.65L1191.21 1348.37L1195.05 1347.10L1198.89 1345.83L1202.73 1344.58L1206.57 1343.33L1210.41 1342.09L1214.25 1340.85L1218.09 1339.63L1221.93 1338.41L1225.77 1337.19L1229.61 1335.99L1233.45 1334.79L1237.29 1333.60L1241.13 1332.41L1244.97 1331.23L1248.81 1330.06L1252.65 1328.89L1256.49 1327.73L1260.33 1326.58L1264.17 1325.43L1268.00 1324.29L1271.84 1323.15L1275.68 1322.02L1279.52 1320.90L1283.36 1319.78L1287.20 1318.67L1291.04 1317.56L1294.88 1316.45L1298.72 1315.35L1302.56 1314.26L1306.40 1313.17L1310.24 1312.08L1314.08 1311.00L1317.92 1309.92L1321.76 1308.85L1325.60 1307.78 M1325.60 1263.81L1321.76 1264.80L1317.92 1265.78L1314.08 1266.75L1310.24 1267.72L1306.40 1268.68L1302.56 1269.63L1298.72 1270.58L1294.88 1271.51L1291.04 1272.45L1287.20 1273.38L1283.36 1274.30L1279.52 1275.22L1275.68 1276.13L1271.84 1277.04L1268.00 1277.95L1264.17 1278.85L1260.33 1279.76L1256.49 1280.65L1252.65 1281.55L1248.81 1282.45L1244.97 1283.34L1241.13 1284.23L1237.29 1285.13L1233.45 1286.02L1229.61 1286.91L1225.77 1287.80L1221.93 1288.70L1218.09 1289.59L1214.25 1290.48L1210.41 1291.38L1206.57 1292.28L1202.73 1293.18L1198.89 1294.08L1195.05 1294.98L1191.21 1295.89L1187.37 1296.80L1183.53 1297.72L1179.69 1298.63L1175.85 1299.55L1172.01 1300.48L1168.17 1301.40L1164.33 1302.34L1160.49 1303.27L1156.65 1304.22L1152.81 1305.16L1148.98 1306.11L1145.14 1307.07L1141.30 1308.03L1137.46 1309.00L1133.62 1309.97L1129.78 1310.95L1125.94 1311.94L1122.10 1312.93L1118.26 1313.93L1114.42 1314.93L1110.58 1315.94L1106.74 1316.96L1102.90 1317.99L1099.06 1319.02L1095.22 1320.06L1091.38 1321.10L1087.54 1322.16L1083.70 1323.22L1079.86 1324.29L1076.02 1325.36L1072.18 1326.45L1068.34 1327.54L1064.50 1328.64L1060.66 1329.75L1056.82 1330.87L1052.98 1331.99L1049.14 1333.12L1045.30 1334.26L1041.46 1335.41L1037.62 1336.57L1033.79 1337.74L1029.95 1338.91L1026.11 1340.09L1022.27 1341.28L1018.43 1342.48L1014.59 1343.69L1010.75 1344.91L1006.91 1346.14L1003.07 1347.37L999.23 1348.62L995.39 1349.87L991.55 1351.13L987.71 1352.40L983.87 1353.68L980.03 1354.96L976.19 1356.26L972.35 1357.56L968.51 1358.88L964.67 1360.20L960.83 1361.53L956.99 1362.87L953.15 1364.22L949.31 1365.57L945.47 1366.94L941.63 1368.31L937.79 1369.69L933.95 1371.08L930.11 1372.48L926.27 1373.89L922.43 1375.31L918.60 1376.73L914.76 1378.16L910.92 1379.60L907.08 1381.05L903.24 1382.51L899.40 1383.97L895.56 1385.44L891.72 1386.92L887.88 1388.41L884.04 1389.90L880.20 1391.41L876.36 1392.92L872.52 1394.43L868.68 1395.96L864.84 1397.49L861.00 1399.03L857.16 1400.58L853.32 1402.13L849.48 1403.69L845.64 1405.26L841.80 1406.83L837.96 1408.41L834.12 1409.99L830.28 1411.59L826.44 1413.19L822.60 1414.79L818.76 1416.40L814.92 1418.02L811.08 1419.64L807.25 1421.27L803.41 1422.91L799.57 1424.54L795.73 1426.19L791.89 1427.84L788.05 1429.49L784.21 1431.15L780.37 1432.82L776.53 1434.49L772.69 1436.16L768.85 1437.84L765.01 1439.52L761.17 1441.21L757.33 1442.90L753.49 1444.60L749.65 1446.30L745.81 1448.00L741.97 1449.70L738.13 1451.41L734.29 1453.13L730.45 1454.84L726.61 1456.56L722.77 1458.28L718.93 1460.00L715.09 1461.73L711.25 1463.46L707.41 1465.19L703.57 1466.92L699.73 1468.66L695.89 1470.40L692.05 1472.13L688.22 1473.87L684.38 1475.62L680.54 1477.36L676.70 1479.10L672.86 1480.85L669.02 1482.59L665.18 1484.34L661.34 1486.08L657.50 1487.83L653.66 1489.58L649.82 1491.33L645.98 1493.07L642.14 1494.82L638.30 1496.57L634.46 1498.31L630.62 1500.06L626.78 1501.80L622.94 1503.54L619.10 1505.29L615.26 1507.03L611.42 1508.77L607.58 1510.50L603.74 1512.24L599.90 1513.98L596.06 1515.71L592.22 1517.44L588.38 1519.17L584.54 1520.89L580.70 1522.62L576.87 1524.34L573.03 1526.05L569.19 1527.77L565.35 1529.48L561.51 1531.19L557.67 1532.90L553.83 1534.60L549.99 1536.30L546.15 1537.99L542.31 1539.68L538.47 1541.37L534.63 1543.05L530.79 1544.73L526.95 1546.40L523.11 1548.07L519.27 1549.74L515.43 1551.40L511.59 1553.05L507.75 1554.71L503.91 1556.35L500.07 1557.99L496.23 1559.63L492.39 1561.26L488.55 1562.88L484.71 1564.50L480.87 1566.11L477.03 1567.72L473.19 1569.32L469.35 1570.92L465.51 1572.51L461.68 1574.09L457.84 1575.67L454.00 1577.24L450.16 1578.81L446.32 1580.36L442.48 1581.92L438.64 1583.46L434.80 1585.00L430.96 1586.53L427.12 1588.06L423.28 1589.57L419.44 1591.08L415.60 1592.59L411.76 1594.08L407.92 1595.57L404.08 1597.06L400.24 1598.53L396.40 1600.00L392.56 1601.46L388.72 1602.91L384.88 1604.36L381.04 1605.80L377.20 1607.23L373.36 1608.65L369.52 1610.06L365.68 1611.47L361.84 1612.87L358.00 1614.26L354.16 1615.65L350.32 1617.03L346.49 1618.40L342.65 1619.76L338.81 1621.11L334.97 1622.46L331.13 1623.80L327.29 1625.13L323.45 1626.45L319.61 1627.77L315.77 1629.08L311.93 1630.38L308.09 1631.67L304.25 1632.95L300.41 1634.23L296.57 1635.50L292.73 1636.77L288.89 1638.02L285.05 1639.27L281.21 1640.51L277.37 1641.75L273.53 1642.97L269.69 1644.19L265.85 1645.41L262.01 1646.61L258.17 1647.81L254.33 1649.00L250.49 1650.19L246.65 1651.37L242.81 1652.54L238.97 1653.71L235.13 1654.87L231.30 1656.02L227.46 1657.17L223.62 1658.31L219.78 1659.45L215.94 1660.58L212.10 1661.70L208.26 1662.82L204.42 1663.93L200.58 1665.04L196.74 1666.15L192.90 1667.25L189.06 1668.34L185.22 1669.43L181.38 1670.52L177.54 1671.60L173.70 1672.68" stroke="#000000"/>
<path d="M173.70 1745.94L177.54 1744.70L181.38 1743.48L185.22 1742.28L189.06 1741.09L192.90 1739.90L196.74 1738.73L200.58 1737.57L204.42 1736.42L208.26 1735.28L212.10 1734.15L215.94 1733.02L219.78 1731.90L223.62 1730.79L227.46 1729.68L231.30 1728.58L235.13 1727.49L238.97 1726.39L242.81 1725.31L246.65 1724.22L250.49 1723.14L254.33 1722.06L258.17 1720.98L262.01 1719.90L265.85 1718.83L269.69 1717.75L273.53 1716.68L277.37 1715.60L281.21 1714.52L285.05 1713.44L288.89 1712.36L292.73 1711.28L296.57 1710.19L300.41 1709.10L304.25 1708.01L308.09 1706.92L311.93 1705.82L315.77 1704.71L319.61 1703.60L323.45 1702.49L327.29 1701.37L331.13 1700.24L334.97 1699.11L338.81 1697.97L342.65 1696.83L346.49 1695.67L350.32 1694.51L354.16 1693.35L358.00 1692.17L361.84 1690.99L365.68 1689.80L369.52 1688.60L373.36 1687.40L377.20 1686.18L381.04 1684.96L384.88 1683.72L388.72 1682.48L392.56 1681.22L396.40 1679.96L400.24 1678.69L404.08 1677.41L407.92 1676.11L411.76 1674.81L415.60 1673.50L419.44 1672.17L423.28 1670.84L427.12 1669.49L430.96 1668.14L434.80 1666.77L438.64 1665.39L442.48 1664.00L446.32 1662.60L450.16 1661.19L454.00 1659.76L457.84 1658.33L461.68 1656.88L465.51 1655.42L469.35 1653.95L473.19 1652.47L477.03 1650.98L480.87 1649.47L484.71 1647.96L488.55 1646.43L492.39 1644.89L496.23 1643.34L500.07 1641.78L503.91 1640.20L507.75 1638.62L511.59 1637.02L515.43 1635.41L519.27 1633.79L523.11 1632.16L526.95 1630.51L530.79 1628.86L534.63 1627.19L538.47 1625.51L542.31 1623.83L546.15 1622.13L549.99 1620.41L553.83 1618.69L557.67 1616.96L561.51 1615.22L565.35 1613.46L569.19 1611.70L573.03 1609.92L576.87 1608.14L580.70 1606.34L584.54 1604.54L588.38 1602.72L592.22 1600.90L596.06 1599.06L599.90 1597.22L603.74 1595.36L607.58 1593.50L611.42 1591.62L615.26 1589.74L619.10 1587.85L622.94 1585.95L626.78 1584.04L630.62 1582.12L634.46 1580.20L638.30 1578.26L642.14 1576.32L645.98 1574.37L649.82 1572.42L653.66 1570.45L657.50 1568.48L661.34 1566.50L665.18 1564.51L669.02 1562.52L672.86 1560.52L676.70 1558.52L680.54 1556.50L684.38 1554.48L688.22 1552.46L692.05 1550.43L695.89 1548.40L699.73 1546.36L703.57 1544.31L707.41 1542.26L711.25 1540.20L715.09 1538.15L718.93 1536.08L722.77 1534.01L726.61 1531.94L730.45 1529.87L734.29 1527.79L738.13 1525.71L741.97 1523.62L745.81 1521.53L749.65 1519.44L753.49 1517.35L757.33 1515.26L761.17 1513.16L765.01 1511.06L768.85 1508.96L772.69 1506.86L776.53 1504.76L780.37 1502.66L784.21 1500.55L788.05 1498.45L791.89 1496.34L795.73 1494.24L799.57 1492.13L803.41 1490.03L807.25 1487.93L811.08 1485.83L814.92 1483.72L818.76 1481.62L822.60 1479.53L826.44 1477.43L830.28 1475.33L834.12 1473.24L837.96 1471.15L841.80 1469.06L845.64 1466.98L849.48 1464.89L853.32 1462.81L857.16 1460.74L861.00 1458.67L864.84 1456.60L868.68 1454.53L872.52 1452.47L876.36 1450.41L880.20 1448.36L884.04 1446.31L887.88 1444.27L891.72 1442.23L895.56 1440.20L899.40 1438.17L903.24 1436.15L907.08 1434.14L910.92 1432.13L914.76 1430.12L918.60 1428.13L922.43 1426.13L926.27 1424.15L930.11 1422.17L933.95 1420.20L937.79 1418.24L941.63 1416.28L945.47 1414.33L949.31 1412.39L953.15 1410.45L956.99 1408.53L960.83 1406.61L964.67 1404.70L968.51 1402.79L972.35 1400.90L976.19 1399.01L980.03 1397.13L983.87 1395.26L987.71 1393.40L991.55 1391.55L995.39 1389.71L999.23 1387.87L1003.07 1386.05L1006.91 1384.23L1010.75 1382.43L1014.59 1380.63L1018.43 1378.84L1022.27 1377.06L1026.11 1375.29L1029.95 1373.53L1033.79 1371.78L1037.62 1370.04L1041.46 1368.31L1045.30 1366.59L1049.14 1364.87L1052.98 1363.17L1056.82 1361.48L1060.66 1359.80L1064.50 1358.12L1068.34 1356.46L1072.18 1354.81L1076.02 1353.16L1079.86 1351.53L1083.70 1349.90L1087.54 1348.29L1091.38 1346.68L1095.22 1345.09L1099.06 1343.50L1102.90 1341.93L1106.74 1340.36L1110.58 1338.80L1114.42 1337.25L1118.26 1335.71L1122.10 1334.18L1125.94 1332.66L1129.78 1331.15L1133.62 1329.65L1137.46 1328.15L1141.30 1326.66L1145.14 1325.19L1148.98 1323.72L1152.81 1322.26L1156.65 1320.80L1160.49 1319.36L1164.33 1317.92L1168.17 1316.49L1172.01 1315.06L1175.85 1313.65L1179.69 1312.24L1183.53 1310.84L1187.37 1309.44L1191.21 1308.05L1195.05 1306.67L1198.89 1305.29L1202.73 1303.92L1206.57 1302.55L1210.41 1301.19L1214.25 1299.83L1218.09 1298.48L1221.93 1297.13L1225.77 1295.79L1229.61 1294.45L1233.45 1293.11L1237.29 1291.78L1241.13 1290.45L1244.97 1289.12L1248.81 1287.79L1252.65 1286.46L1256.49 1285.14L1260.33 1283.82L1264.17 1282.49L1268.00 1281.17L1271.84 1279.85L1275.68 1278.52L1279.52 1277.20L1283.36 1275.87L1287.20 1274.54L1291.04 1273.21L1294.88 1271.87L1298.72 1270.53L1302.56 1269.19L1306.40 1267.84L1310.24 1266.49L1314.08 1265.13L1317.92 1263.77L1321.76 1262.40L1325.60 1261.02 M1325.60 1236.66L1321.76 1237.90L1317.92 1239.12L1314.08 1240.32L1310.24 1241.51L1306.40 1242.70L1302.56 1243.87L1298.72 1245.03L1294.88 1246.18L1291.04 1247.32L1287.20 1248.45L1283.36 1249.58L1279.52 1250.70L1275.68 1251.81L1271.84 1252.92L1268.00 1254.02L1264.17 1255.11L1260.33 1256.21L1256.49 1257.29L1252.65 1258.38L1248.81 1259.46L1244.97 1260.54L1241.13 1261.62L1237.29 1262.70L1233.45 1263.77L1229.61 1264.85L1225.77 1265.92L1221.93 1267.00L1218.09 1268.08L1214.25 1269.16L1210.41 1270.24L1206.57 1271.32L1202.73 1272.41L1198.89 1273.50L1195.05 1274.59L1191.21 1275.68L1187.37 1276.78L1183.53 1277.89L1179.69 1279.00L1175.85 1280.11L1172.01 1281.23L1168.17 1282.36L1164.33 1283.49L1160.49 1284.63L1156.65 1285.77L1152.81 1286.93L1148.98 1288.09L1145.14 1289.25L1141.30 1290.43L1137.46 1291.61L1133.62 1292.80L1129.78 1294.00L1125.94 1295.20L1122.10 1296.42L1118.26 1297.64L1114.42 1298.88L1110.58 1300.12L1106.74 1301.38L1102.90 1302.64L1099.06 1303.91L1095.22 1305.19L1091.38 1306.49L1087.54 1307.79L1083.70 1309.10L1079.86 1310.43L1076.02 1311.76L1072.18 1313.11L1068.34 1314.46L1064.50 1315.83L1060.66 1317.21L1056.82 1318.60L1052.98 1320.00L1049.14 1321.41L1045.30 1322.84L1041.46 1324.27L1037.62 1325.72L1033.79 1327.18L1029.95 1328.65L1026.11 1330.13L1022.27 1331.62L1018.43 1333.13L1014.59 1334.64L1010.75 1336.17L1006.91 1337.71L1003.07 1339.26L999.23 1340.82L995.39 1342.40L991.55 1343.98L987.71 1345.58L983.87 1347.19L980.03 1348.81L976.19 1350.44L972.35 1352.09L968.51 1353.74L964.67 1355.41L960.83 1357.09L956.99 1358.77L953.15 1360.47L949.31 1362.19L945.47 1363.91L941.63 1365.64L937.79 1367.38L933.95 1369.14L930.11 1370.90L926.27 1372.68L922.43 1374.46L918.60 1376.26L914.76 1378.06L910.92 1379.88L907.08 1381.70L903.24 1383.54L899.40 1385.38L895.56 1387.24L891.72 1389.10L887.88 1390.98L884.04 1392.86L880.20 1394.75L876.36 1396.65L872.52 1398.56L868.68 1400.48L864.84 1402.40L861.00 1404.34L857.16 1406.28L853.32 1408.23L849.48 1410.18L845.64 1412.15L841.80 1414.12L837.96 1416.10L834.12 1418.09L830.28 1420.08L826.44 1422.08L822.60 1424.08L818.76 1426.10L814.92 1428.12L811.08 1430.14L807.25 1432.17L803.41 1434.20L799.57 1436.24L795.73 1438.29L791.89 1440.34L788.05 1442.40L784.21 1444.45L780.37 1446.52L776.53 1448.59L772.69 1450.66L768.85 1452.73L765.01 1454.81L761.17 1456.89L757.33 1458.98L753.49 1461.07L749.65 1463.16L745.81 1465.25L741.97 1467.34L738.13 1469.44L734.29 1471.54L730.45 1473.64L726.61 1475.74L722.77 1477.84L718.93 1479.94L715.09 1482.05L711.25 1484.15L707.41 1486.26L703.57 1488.36L699.73 1490.47L695.89 1492.57L692.05 1494.67L688.22 1496.77L684.38 1498.88L680.54 1500.98L676.70 1503.07L672.86 1505.17L669.02 1507.27L665.18 1509.36L661.34 1511.45L657.50 1513.54L653.66 1515.62L649.82 1517.71L645.98 1519.79L642.14 1521.86L638.30 1523.93L634.46 1526.00L630.62 1528.07L626.78 1530.13L622.94 1532.19L619.10 1534.24L615.26 1536.29L611.42 1538.33L607.58 1540.37L603.74 1542.40L599.90 1544.43L596.06 1546.45L592.22 1548.46L588.38 1550.47L584.54 1552.48L580.70 1554.47L576.87 1556.47L573.03 1558.45L569.19 1560.43L565.35 1562.40L561.51 1564.36L557.67 1566.32L553.83 1568.27L549.99 1570.21L546.15 1572.15L542.31 1574.07L538.47 1575.99L534.63 1577.90L530.79 1579.81L526.95 1581.70L523.11 1583.59L519.27 1585.47L515.43 1587.34L511.59 1589.20L507.75 1591.05L503.91 1592.89L500.07 1594.73L496.23 1596.55L492.39 1598.37L488.55 1600.17L484.71 1601.97L480.87 1603.76L477.03 1605.54L473.19 1607.31L469.35 1609.07L465.51 1610.82L461.68 1612.56L457.84 1614.29L454.00 1616.01L450.16 1617.73L446.32 1619.43L442.48 1621.12L438.64 1622.80L434.80 1624.48L430.96 1626.14L427.12 1627.79L423.28 1629.44L419.44 1631.07L415.60 1632.70L411.76 1634.31L407.92 1635.92L404.08 1637.51L400.24 1639.10L396.40 1640.67L392.56 1642.24L388.72 1643.80L384.88 1645.35L381.04 1646.89L377.20 1648.42L373.36 1649.94L369.52 1651.45L365.68 1652.95L361.84 1654.45L358.00 1655.94L354.16 1657.41L350.32 1658.88L346.49 1660.34L342.65 1661.80L338.81 1663.24L334.97 1664.68L331.13 1666.11L327.29 1667.54L323.45 1668.95L319.61 1670.36L315.77 1671.76L311.93 1673.16L308.09 1674.55L304.25 1675.93L300.41 1677.31L296.57 1678.68L292.73 1680.05L288.89 1681.41L285.05 1682.77L281.21 1684.12L277.37 1685.47L273.53 1686.81L269.69 1688.15L265.85 1689.49L262.01 1690.82L258.17 1692.15L254.33 1693.48L250.49 1694.81L246.65 1696.14L242.81 1697.46L238.97 1698.78L235.13 1700.11L231.30 1701.43L227.46 1702.75L223.62 1704.08L219.78 1705.40L215.94 1706.73L212.10 1708.06L208.26 1709.39L204.42 1710.73L200.58 1712.07L196.74 1713.41L192.90 1714.76L189.06 1716.11L185.22 1717.47L181.38 1718.83L177.54 1720.20L173.70 1721.58" stroke="#ff0000"/>
<path d="M173.70 1782.32L177.54 1780.95L181.38 1779.59L185.22 1778.24L189.06 1776.89L192.90 1775.56L196.74 1774.24L200.58 1772.92L204.42 1771.61L208.26 1770.31L212.10 1769.01L215.94 1767.72L219.78 1766.44L223.62 1765.15L227.46 1763.88L231.30 1762.60L235.13 1761.33L238.97 1760.06L242.81 1758.79L246.65 1757.53L250.49 1756.26L254.33 1755.00L258.17 1753.73L262.01 1752.47L265.85 1751.20L269.69 1749.93L273.53 1748.67L277.37 1747.39L281.21 1746.12L285.05 1744.84L288.89 1743.56L292.73 1742.28L296.57 1740.99L300.41 1739.70L304.25 1738.41L308.09 1737.10L311.93 1735.80L315.77 1734.48L319.61 1733.17L323.45 1731.84L327.29 1730.51L331.13 1729.17L334.97 1727.83L338.81 1726.47L342.65 1725.11L346.49 1723.74L350.32 1722.37L354.16 1720.98L358.00 1719.59L361.84 1718.19L365.68 1716.77L369.52 1715.35L373.36 1713.92L377.20 1712.48L381.04 1711.03L384.88 1709.57L388.72 1708.10L392.56 1706.62L396.40 1705.13L400.24 1703.63L404.08 1702.12L407.92 1700.59L411.76 1699.06L415.60 1697.51L419.44 1695.95L423.28 1694.38L427.12 1692.80L430.96 1691.21L434.80 1689.61L438.64 1687.99L442.48 1686.36L446.32 1684.73L450.16 1683.07L454.00 1681.41L457.84 1679.73L461.68 1678.05L465.51 1676.35L469.35 1674.63L473.19 1672.91L477.03 1671.17L480.87 1669.42L484.71 1667.66L488.55 1665.88L492.39 1664.10L496.23 1662.30L500.07 1660.49L503.91 1658.66L507.75 1656.83L511.59 1654.98L515.43 1653.12L519.27 1651.24L523.11 1649.36L526.95 1647.46L530.79 1645.55L534.63 1643.63L538.47 1641.69L542.31 1639.75L546.15 1637.79L549.99 1635.82L553.83 1633.84L557.67 1631.85L561.51 1629.84L565.35 1627.82L569.19 1625.80L573.03 1623.76L576.87 1621.71L580.70 1619.65L584.54 1617.57L588.38 1615.49L592.22 1613.40L596.06 1611.29L599.90 1609.18L603.74 1607.05L607.58 1604.91L611.42 1602.77L615.26 1600.61L619.10 1598.45L622.94 1596.27L626.78 1594.08L630.62 1591.89L634.46 1589.69L638.30 1587.47L642.14 1585.25L645.98 1583.02L649.82 1580.78L653.66 1578.53L657.50 1576.27L661.34 1574.01L665.18 1571.74L669.02 1569.46L672.86 1567.17L676.70 1564.87L680.54 1562.57L684.38 1560.26L688.22 1557.94L692.05 1555.62L695.89 1553.29L699.73 1550.95L703.57 1548.61L707.41 1546.26L711.25 1543.91L715.09 1541.55L718.93 1539.18L722.77 1536.81L726.61 1534.44L730.45 1532.06L734.29 1529.67L738.13 1527.28L741.97 1524.89L745.81 1522.49L749.65 1520.09L753.49 1517.69L757.33 1515.28L761.17 1512.87L765.01 1510.46L768.85 1508.04L772.69 1505.62L776.53 1503.20L780.37 1500.78L784.21 1498.36L788.05 1495.93L791.89 1493.51L795.73 1491.08L799.57 1488.65L803.41 1486.22L807.25 1483.79L811.08 1481.36L814.92 1478.93L818.76 1476.50L822.60 1474.07L826.44 1471.65L830.28 1469.22L834.12 1466.79L837.96 1464.37L841.80 1461.94L845.64 1459.52L849.48 1457.10L853.32 1454.69L857.16 1452.27L861.00 1449.86L864.84 1447.45L868.68 1445.04L872.52 1442.64L876.36 1440.24L880.20 1437.85L884.04 1435.45L887.88 1433.07L891.72 1430.68L895.56 1428.31L899.40 1425.93L903.24 1423.56L907.08 1421.20L910.92 1418.84L914.76 1416.49L918.60 1414.14L922.43 1411.80L926.27 1409.47L930.11 1407.14L933.95 1404.82L937.79 1402.50L941.63 1400.19L945.47 1397.89L949.31 1395.60L953.15 1393.31L956.99 1391.03L960.83 1388.76L964.67 1386.50L968.51 1384.24L972.35 1382.00L976.19 1379.76L980.03 1377.53L983.87 1375.31L987.71 1373.10L991.55 1370.89L995.39 1368.70L999.23 1366.52L1003.07 1364.34L1006.91 1362.18L1010.75 1360.02L1014.59 1357.88L1018.43 1355.74L1022.27 1353.61L1026.11 1351.50L1029.95 1349.40L1033.79 1347.30L1037.62 1345.22L1041.46 1343.15L1045.30 1341.08L1049.14 1339.03L1052.98 1336.99L1056.82 1334.97L1060.66 1332.95L1064.50 1330.94L1068.34 1328.95L1072.18 1326.97L1076.02 1324.99L1079.86 1323.03L1083.70 1321.09L1087.54 1319.15L1091.38 1317.22L1095.22 1315.31L1099.06 1313.41L1102.90 1311.52L1106.74 1309.64L1110.58 1307.78L1114.42 1305.92L1118.26 1304.08L1122.10 1302.25L1125.94 1300.44L1129.78 1298.63L1133.62 1296.84L1137.46 1295.05L1141.30 1293.28L1145.14 1291.53L1148.98 1289.78L1152.81 1288.05L1156.65 1286.33L1160.49 1284.62L1164.33 1282.92L1168.17 1281.23L1172.01 1279.56L1175.85 1277.89L1179.69 1276.24L1183.53 1274.60L1187.37 1272.97L1191.21 1271.35L1195.05 1269.75L1198.89 1268.15L1202.73 1266.57L1206.57 1264.99L1210.41 1263.43L1214.25 1261.88L1218.09 1260.33L1221.93 1258.80L1225.77 1257.28L1229.61 1255.77L1233.45 1254.27L1237.29 1252.77L1241.13 1251.29L1244.97 1249.82L1248.81 1248.35L1252.65 1246.90L1256.49 1245.45L1260.33 1244.01L1264.17 1242.58L1268.00 1241.16L1271.84 1239.75L1275.68 1238.34L1279.52 1236.94L1283.36 1235.55L1287.20 1234.16L1291.04 1232.78L1294.88 1231.41L1298.72 1230.04L1302.56 1228.68L1306.40 1227.32L1310.24 1225.97L1314.08 1224.62L1317.92 1223.28L1321.76 1221.94L1325.60 1220.60 M1325.60 1200.28L1321.76 1201.65L1317.92 1203.01L1314.08 1204.36L1310.24 1205.71L1306.40 1207.04L1302.56 1208.36L1298.72 1209.68L1294.88 1210.99L1291.04 1212.29L1287.20 1213.59L1283.36 1214.88L1279.52 1216.16L1275.68 1217.45L1271.84 1218.72L1268.00 1220.00L1264.17 1221.27L1260.33 1222.54L1256.49 1223.81L1252.65 1225.07L1248.81 1226.34L1244.97 1227.60L1241.13 1228.87L1237.29 1230.13L1233.45 1231.40L1229.61 1232.67L1225.77 1233.93L1221.93 1235.21L1218.09 1236.48L1214.25 1237.76L1210.41 1239.04L1206.57 1240.32L1202.73 1241.61L1198.89 1242.90L1195.05 1244.19L1191.21 1245.50L1187.37 1246.80L1183.53 1248.12L1179.69 1249.43L1175.85 1250.76L1172.01 1252.09L1168.17 1253.43L1164.33 1254.77L1160.49 1256.13L1156.65 1257.49L1152.81 1258.86L1148.98 1260.23L1145.14 1261.62L1141.30 1263.01L1137.46 1264.41L1133.62 1265.83L1129.78 1267.25L1125.94 1268.68L1122.10 1270.12L1118.26 1271.57L1114.42 1273.03L1110.58 1274.50L1106.74 1275.98L1102.90 1277.47L1099.06 1278.97L1095.22 1280.48L1091.38 1282.01L1087.54 1283.54L1083.70 1285.09L1079.86 1286.65L1076.02 1288.22L1072.18 1289.80L1068.34 1291.39L1064.50 1292.99L1060.66 1294.61L1056.82 1296.24L1052.98 1297.87L1049.14 1299.53L1045.30 1301.19L1041.46 1302.87L1037.62 1304.55L1033.79 1306.25L1029.95 1307.97L1026.11 1309.69L1022.27 1311.43L1018.43 1313.18L1014.59 1314.94L1010.75 1316.72L1006.91 1318.50L1003.07 1320.30L999.23 1322.11L995.39 1323.94L991.55 1325.77L987.71 1327.62L983.87 1329.48L980.03 1331.36L976.19 1333.24L972.35 1335.14L968.51 1337.05L964.67 1338.97L960.83 1340.91L956.99 1342.85L953.15 1344.81L949.31 1346.78L945.47 1348.76L941.63 1350.75L937.79 1352.76L933.95 1354.78L930.11 1356.80L926.27 1358.84L922.43 1360.89L918.60 1362.95L914.76 1365.03L910.92 1367.11L907.08 1369.20L903.24 1371.31L899.40 1373.42L895.56 1375.55L891.72 1377.69L887.88 1379.83L884.04 1381.99L880.20 1384.15L876.36 1386.33L872.52 1388.52L868.68 1390.71L864.84 1392.91L861.00 1395.13L857.16 1397.35L853.32 1399.58L849.48 1401.82L845.64 1404.07L841.80 1406.33L837.96 1408.59L834.12 1410.86L830.28 1413.14L826.44 1415.43L822.60 1417.73L818.76 1420.03L814.92 1422.34L811.08 1424.66L807.25 1426.98L803.41 1429.31L799.57 1431.65L795.73 1433.99L791.89 1436.34L788.05 1438.69L784.21 1441.05L780.37 1443.42L776.53 1445.79L772.69 1448.16L768.85 1450.54L765.01 1452.93L761.17 1455.32L757.33 1457.71L753.49 1460.11L749.65 1462.51L745.81 1464.91L741.97 1467.32L738.13 1469.73L734.29 1472.14L730.45 1474.56L726.61 1476.98L722.77 1479.40L718.93 1481.82L715.09 1484.24L711.25 1486.67L707.41 1489.09L703.57 1491.52L699.73 1493.95L695.89 1496.38L692.05 1498.81L688.22 1501.24L684.38 1503.67L680.54 1506.10L676.70 1508.53L672.86 1510.95L669.02 1513.38L665.18 1515.81L661.34 1518.23L657.50 1520.66L653.66 1523.08L649.82 1525.50L645.98 1527.91L642.14 1530.33L638.30 1532.74L634.46 1535.15L630.62 1537.56L626.78 1539.96L622.94 1542.36L619.10 1544.75L615.26 1547.15L611.42 1549.53L607.58 1551.92L603.74 1554.29L599.90 1556.67L596.06 1559.04L592.22 1561.40L588.38 1563.76L584.54 1566.11L580.70 1568.46L576.87 1570.80L573.03 1573.13L569.19 1575.46L565.35 1577.78L561.51 1580.10L557.67 1582.41L553.83 1584.71L549.99 1587.00L546.15 1589.29L542.31 1591.57L538.47 1593.84L534.63 1596.10L530.79 1598.36L526.95 1600.60L523.11 1602.84L519.27 1605.07L515.43 1607.29L511.59 1609.50L507.75 1611.71L503.91 1613.90L500.07 1616.08L496.23 1618.26L492.39 1620.42L488.55 1622.58L484.71 1624.72L480.87 1626.86L477.03 1628.99L473.19 1631.10L469.35 1633.20L465.51 1635.30L461.68 1637.38L457.84 1639.45L454.00 1641.52L450.16 1643.57L446.32 1645.61L442.48 1647.63L438.64 1649.65L434.80 1651.66L430.96 1653.65L427.12 1655.63L423.28 1657.61L419.44 1659.57L415.60 1661.51L411.76 1663.45L407.92 1665.38L404.08 1667.29L400.24 1669.19L396.40 1671.08L392.56 1672.96L388.72 1674.82L384.88 1676.68L381.04 1678.52L377.20 1680.35L373.36 1682.16L369.52 1683.97L365.68 1685.76L361.84 1687.55L358.00 1689.32L354.16 1691.07L350.32 1692.82L346.49 1694.55L342.65 1696.27L338.81 1697.98L334.97 1699.68L331.13 1701.37L327.29 1703.04L323.45 1704.71L319.61 1706.36L315.77 1708.00L311.93 1709.63L308.09 1711.25L304.25 1712.85L300.41 1714.45L296.57 1716.03L292.73 1717.61L288.89 1719.17L285.05 1720.72L281.21 1722.27L277.37 1723.80L273.53 1725.32L269.69 1726.83L265.85 1728.33L262.01 1729.83L258.17 1731.31L254.33 1732.78L250.49 1734.25L246.65 1735.70L242.81 1737.15L238.97 1738.59L235.13 1740.02L231.30 1741.44L227.46 1742.85L223.62 1744.26L219.78 1745.66L215.94 1747.05L212.10 1748.44L208.26 1749.82L204.42 1751.19L200.58 1752.56L196.74 1753.92L192.90 1755.28L189.06 1756.63L185.22 1757.98L181.38 1759.32L177.54 1760.66L173.70 1762.00" stroke="#0000ff"/>
<path d="M173.70 1799.17L177.54 1797.65L181.38 1796.14L185.22 1794.64L189.06 1793.13L192.90 1791.64L196.74 1790.15L200.58 1788.66L204.42 1787.18L208.26 1785.70L212.10 1784.22L215.94 1782.74L219.78 1781.27L223.62 1779.80L227.46 1778.33L231.30 1776.86L235.13 1775.39L238.97 1773.92L242.81 1772.45L246.65 1770.99L250.49 1769.52L254.33 1768.05L258.17 1766.58L262.01 1765.11L265.85 1763.63L269.69 1762.16L273.53 1760.68L277.37 1759.20L281.21 1757.71L285.05 1756.23L288.89 1754.74L292.73 1753.24L296.57 1751.75L300.41 1750.24L304.25 1748.74L308.09 1747.23L311.93 1745.71L315.77 1744.19L319.61 1742.67L323.45 1741.14L327.29 1739.60L331.13 1738.06L334.97 1736.51L338.81 1734.96L342.65 1733.40L346.49 1731.83L350.32 1730.26L354.16 1728.68L358.00 1727.09L361.84 1725.50L365.68 1723.89L369.52 1722.28L373.36 1720.67L377.20 1719.04L381.04 1717.41L384.88 1715.77L388.72 1714.12L392.56 1712.47L396.40 1710.80L400.24 1709.13L404.08 1707.45L407.92 1705.76L411.76 1704.06L415.60 1702.36L419.44 1700.64L423.28 1698.91L427.12 1697.18L430.96 1695.44L434.80 1693.69L438.64 1691.93L442.48 1690.16L446.32 1688.38L450.16 1686.59L454.00 1684.79L457.84 1682.98L461.68 1681.17L465.51 1679.34L469.35 1677.50L473.19 1675.66L477.03 1673.81L480.87 1671.94L484.71 1670.07L488.55 1668.18L492.39 1666.29L496.23 1664.39L500.07 1662.48L503.91 1660.56L507.75 1658.63L511.59 1656.69L515.43 1654.74L519.27 1652.78L523.11 1650.81L526.95 1648.83L530.79 1646.84L534.63 1644.85L538.47 1642.84L542.31 1640.83L546.15 1638.80L549.99 1636.77L553.83 1634.72L557.67 1632.67L561.51 1630.61L565.35 1628.54L569.19 1626.46L573.03 1624.38L576.87 1622.28L580.70 1620.17L584.54 1618.06L588.38 1615.94L592.22 1613.81L596.06 1611.67L599.90 1609.52L603.74 1607.37L607.58 1605.20L611.42 1603.03L615.26 1600.85L619.10 1598.66L622.94 1596.47L626.78 1594.27L630.62 1592.06L634.46 1589.84L638.30 1587.61L642.14 1585.38L645.98 1583.14L649.82 1580.89L653.66 1578.64L657.50 1576.38L661.34 1574.11L665.18 1571.84L669.02 1569.56L672.86 1567.27L676.70 1564.98L680.54 1562.68L684.38 1560.38L688.22 1558.07L692.05 1555.75L695.89 1553.43L699.73 1551.11L703.57 1548.77L707.41 1546.44L711.25 1544.10L715.09 1541.75L718.93 1539.40L722.77 1537.04L726.61 1534.68L730.45 1532.32L734.29 1529.95L738.13 1527.58L741.97 1525.20L745.81 1522.82L749.65 1520.44L753.49 1518.05L757.33 1515.66L761.17 1513.27L765.01 1510.87L768.85 1508.47L772.69 1506.07L776.53 1503.67L780.37 1501.26L784.21 1498.85L788.05 1496.44L791.89 1494.03L795.73 1491.62L799.57 1489.20L803.41 1486.79L807.25 1484.37L811.08 1481.95L814.92 1479.53L818.76 1477.11L822.60 1474.69L826.44 1472.27L830.28 1469.85L834.12 1467.43L837.96 1465.01L841.80 1462.59L845.64 1460.17L849.48 1457.75L853.32 1455.33L857.16 1452.92L861.00 1450.50L864.84 1448.08L868.68 1445.67L872.52 1443.26L876.36 1440.85L880.20 1438.44L884.04 1436.04L887.88 1433.63L891.72 1431.23L895.56 1428.83L899.40 1426.44L903.24 1424.04L907.08 1421.65L910.92 1419.27L914.76 1416.88L918.60 1414.50L922.43 1412.13L926.27 1409.76L930.11 1407.39L933.95 1405.02L937.79 1402.66L941.63 1400.31L945.47 1397.96L949.31 1395.61L953.15 1393.27L956.99 1390.93L960.83 1388.60L964.67 1386.28L968.51 1383.96L972.35 1381.64L976.19 1379.34L980.03 1377.03L983.87 1374.74L987.71 1372.45L991.55 1370.16L995.39 1367.88L999.23 1365.61L1003.07 1363.35L1006.91 1361.09L1010.75 1358.84L1014.59 1356.59L1018.43 1354.36L1022.27 1352.13L1026.11 1349.91L1029.95 1347.69L1033.79 1345.48L1037.62 1343.29L1041.46 1341.09L1045.30 1338.91L1049.14 1336.74L1052.98 1334.57L1056.82 1332.41L1060.66 1330.26L1064.50 1328.12L1068.34 1325.98L1072.18 1323.86L1076.02 1321.74L1079.86 1319.64L1083.70 1317.54L1087.54 1315.45L1091.38 1313.37L1095.22 1311.30L1099.06 1309.24L1102.90 1307.18L1106.74 1305.14L1110.58 1303.11L1114.42 1301.08L1118.26 1299.07L1122.10 1297.06L1125.94 1295.07L1129.78 1293.08L1133.62 1291.11L1137.46 1289.14L1141.30 1287.18L1145.14 1285.24L1148.98 1283.30L1152.81 1281.38L1156.65 1279.46L1160.49 1277.55L1164.33 1275.66L1168.17 1273.77L1172.01 1271.89L1175.85 1270.03L1179.69 1268.17L1183.53 1266.33L1187.37 1264.49L1191.21 1262.67L1195.05 1260.85L1198.89 1259.04L1202.73 1257.25L1206.57 1255.46L1210.41 1253.69L1214.25 1251.92L1218.09 1250.17L1221.93 1248.42L1225.77 1246.69L1229.61 1244.96L1233.45 1243.25L1237.29 1241.54L1241.13 1239.85L1244.97 1238.16L1248.81 1236.48L1252.65 1234.81L1256.49 1233.16L1260.33 1231.51L1264.17 1229.87L1268.00 1228.24L1271.84 1226.62L1275.68 1225.01L1279.52 1223.41L1283.36 1221.81L1287.20 1220.23L1291.04 1218.65L1294.88 1217.08L1298.72 1215.53L1302.56 1213.97L1306.40 1212.43L1310.24 1210.90L1314.08 1209.37L1317.92 1207.85L1321.76 1206.34L1325.60 1204.84 M1325.60 1183.43L1321.76 1184.95L1317.92 1186.46L1314.08 1187.96L1310.24 1189.47L1306.40 1190.96L1302.56 1192.45L1298.72 1193.94L1294.88 1195.42L1291.04 1196.90L1287.20 1198.38L1283.36 1199.86L1279.52 1201.33L1275.68 1202.80L1271.84 1204.27L1268.00 1205.74L1264.17 1207.21L1260.33 1208.68L1256.49 1210.15L1252.65 1211.61L1248.81 1213.08L1244.97 1214.55L1241.13 1216.02L1237.29 1217.49L1233.45 1218.97L1229.61 1220.44L1225.77 1221.92L1221.93 1223.40L1218.09 1224.89L1214.25 1226.37L1210.41 1227.86L1206.57 1229.36L1202.73 1230.85L1198.89 1232.36L1195.05 1233.86L1191.21 1235.37L1187.37 1236.89L1183.53 1238.41L1179.69 1239.93L1175.85 1241.46L1172.01 1243.00L1168.17 1244.54L1164.33 1246.09L1160.49 1247.64L1156.65 1249.20L1152.81 1250.77L1148.98 1252.34L1145.14 1253.92L1141.30 1255.51L1137.46 1257.10L1133.62 1258.71L1129.78 1260.32L1125.94 1261.93L1122.10 1263.56L1118.26 1265.19L1114.42 1266.83L1110.58 1268.48L1106.74 1270.13L1102.90 1271.80L1099.06 1273.47L1095.22 1275.15L1091.38 1276.84L1087.54 1278.54L1083.70 1280.24L1079.86 1281.96L1076.02 1283.69L1072.18 1285.42L1068.34 1287.16L1064.50 1288.91L1060.66 1290.67L1056.82 1292.44L1052.98 1294.22L1049.14 1296.01L1045.30 1297.81L1041.46 1299.62L1037.62 1301.43L1033.79 1303.26L1029.95 1305.10L1026.11 1306.94L1022.27 1308.79L1018.43 1310.66L1014.59 1312.53L1010.75 1314.42L1006.91 1316.31L1003.07 1318.21L999.23 1320.12L995.39 1322.04L991.55 1323.97L987.71 1325.91L983.87 1327.86L980.03 1329.82L976.19 1331.79L972.35 1333.77L968.51 1335.76L964.67 1337.75L960.83 1339.76L956.99 1341.77L953.15 1343.80L949.31 1345.83L945.47 1347.88L941.63 1349.93L937.79 1351.99L933.95 1354.06L930.11 1356.14L926.27 1358.22L922.43 1360.32L918.60 1362.43L914.76 1364.54L910.92 1366.66L907.08 1368.79L903.24 1370.93L899.40 1373.08L895.56 1375.23L891.72 1377.40L887.88 1379.57L884.04 1381.75L880.20 1383.94L876.36 1386.13L872.52 1388.33L868.68 1390.54L864.84 1392.76L861.00 1394.99L857.16 1397.22L853.32 1399.46L849.48 1401.71L845.64 1403.96L841.80 1406.22L837.96 1408.49L834.12 1410.76L830.28 1413.04L826.44 1415.33L822.60 1417.62L818.76 1419.92L814.92 1422.22L811.08 1424.53L807.25 1426.85L803.41 1429.17L799.57 1431.49L795.73 1433.83L791.89 1436.16L788.05 1438.50L784.21 1440.85L780.37 1443.20L776.53 1445.56L772.69 1447.92L768.85 1450.28L765.01 1452.65L761.17 1455.02L757.33 1457.40L753.49 1459.78L749.65 1462.16L745.81 1464.55L741.97 1466.94L738.13 1469.33L734.29 1471.73L730.45 1474.13L726.61 1476.53L722.77 1478.93L718.93 1481.34L715.09 1483.75L711.25 1486.16L707.41 1488.57L703.57 1490.98L699.73 1493.40L695.89 1495.81L692.05 1498.23L688.22 1500.65L684.38 1503.07L680.54 1505.49L676.70 1507.91L672.86 1510.33L669.02 1512.75L665.18 1515.17L661.34 1517.59L657.50 1520.01L653.66 1522.43L649.82 1524.85L645.98 1527.27L642.14 1529.68L638.30 1532.10L634.46 1534.52L630.62 1536.93L626.78 1539.34L622.94 1541.75L619.10 1544.16L615.26 1546.56L611.42 1548.97L607.58 1551.37L603.74 1553.77L599.90 1556.16L596.06 1558.56L592.22 1560.95L588.38 1563.33L584.54 1565.72L580.70 1568.10L576.87 1570.47L573.03 1572.84L569.19 1575.21L565.35 1577.58L561.51 1579.94L557.67 1582.29L553.83 1584.64L549.99 1586.99L546.15 1589.33L542.31 1591.67L538.47 1594.00L534.63 1596.32L530.79 1598.64L526.95 1600.96L523.11 1603.26L519.27 1605.57L515.43 1607.86L511.59 1610.15L507.75 1612.44L503.91 1614.72L500.07 1616.99L496.23 1619.25L492.39 1621.51L488.55 1623.76L484.71 1626.01L480.87 1628.24L477.03 1630.47L473.19 1632.69L469.35 1634.91L465.51 1637.12L461.68 1639.31L457.84 1641.51L454.00 1643.69L450.16 1645.86L446.32 1648.03L442.48 1650.19L438.64 1652.34L434.80 1654.48L430.96 1656.62L427.12 1658.74L423.28 1660.86L419.44 1662.96L415.60 1665.06L411.76 1667.15L407.92 1669.23L404.08 1671.30L400.24 1673.36L396.40 1675.42L392.56 1677.46L388.72 1679.49L384.88 1681.52L381.04 1683.53L377.20 1685.54L373.36 1687.53L369.52 1689.52L365.68 1691.49L361.84 1693.46L358.00 1695.42L354.16 1697.36L350.32 1699.30L346.49 1701.22L342.65 1703.14L338.81 1705.05L334.97 1706.94L331.13 1708.83L327.29 1710.71L323.45 1712.57L319.61 1714.43L315.77 1716.27L311.93 1718.11L308.09 1719.93L304.25 1721.75L300.41 1723.56L296.57 1725.35L292.73 1727.14L288.89 1728.91L285.05 1730.68L281.21 1732.43L277.37 1734.18L273.53 1735.91L269.69 1737.64L265.85 1739.35L262.01 1741.06L258.17 1742.75L254.33 1744.44L250.49 1746.12L246.65 1747.79L242.81 1749.44L238.97 1751.09L235.13 1752.73L231.30 1754.36L227.46 1755.98L223.62 1757.59L219.78 1759.19L215.94 1760.79L212.10 1762.37L208.26 1763.95L204.42 1765.52L200.58 1767.07L196.74 1768.63L192.90 1770.17L189.06 1771.70L185.22 1773.23L181.38 1774.75L177.54 1776.26L173.70 1777.76" stroke="#008080"/>
<path d="M173.70 1843.28L177.54 1841.82L181.38 1840.34L185.22 1838.86L189.06 1837.37L192.90 1835.86L196.74 1834.35L200.58 1832.83L204.42 1831.30L208.26 1829.76L212.10 1828.21L215.94 1826.65L219.78 1825.08L223.62 1823.50L227.46 1821.91L231.30 1820.31L235.13 1818.70L238.97 1817.07L242.81 1815.44L246.65 1813.80L250.49 1812.15L254.33 1810.49L258.17 1808.82L262.01 1807.14L265.85 1805.45L269.69 1803.75L273.53 1802.04L277.37 1800.31L281.21 1798.58L285.05 1796.84L288.89 1795.09L292.73 1793.32L296.57 1791.55L300.41 1789.77L304.25 1787.97L308.09 1786.17L311.93 1784.35L315.77 1782.53L319.61 1780.69L323.45 1778.85L327.29 1776.99L331.13 1775.13L334.97 1773.25L338.81 1771.37L342.65 1769.47L346.49 1767.56L350.32 1765.65L354.16 1763.72L358.00 1761.78L361.84 1759.84L365.68 1757.88L369.52 1755.91L373.36 1753.94L377.20 1751.95L381.04 1749.95L384.88 1747.95L388.72 1745.93L392.56 1743.90L396.40 1741.87L400.24 1739.82L404.08 1737.76L407.92 1735.70L411.76 1733.62L415.60 1731.54L419.44 1729.44L423.28 1727.34L427.12 1725.23L430.96 1723.10L434.80 1720.97L438.64 1718.83L442.48 1716.68L446.32 1714.52L450.16 1712.35L454.00 1710.17L457.84 1707.98L461.68 1705.78L465.51 1703.58L469.35 1701.36L473.19 1699.14L477.03 1696.90L480.87 1694.66L484.71 1692.41L488.55 1690.15L492.39 1687.89L496.23 1685.61L500.07 1683.32L503.91 1681.03L507.75 1678.73L511.59 1676.42L515.43 1674.10L519.27 1671.78L523.11 1669.44L526.95 1667.10L530.79 1664.75L534.63 1662.39L538.47 1660.03L542.31 1657.66L546.15 1655.28L549.99 1652.89L553.83 1650.49L557.67 1648.09L561.51 1645.68L565.35 1643.26L569.19 1640.84L573.03 1638.41L576.87 1635.97L580.70 1633.52L584.54 1631.07L588.38 1628.61L592.22 1626.15L596.06 1623.68L599.90 1621.20L603.74 1618.71L607.58 1616.22L611.42 1613.73L615.26 1611.22L619.10 1608.72L622.94 1606.20L626.78 1603.68L630.62 1601.16L634.46 1598.62L638.30 1596.09L642.14 1593.54L645.98 1591.00L649.82 1588.44L653.66 1585.89L657.50 1583.32L661.34 1580.76L665.18 1578.19L669.02 1575.61L672.86 1573.03L676.70 1570.44L680.54 1567.85L684.38 1565.26L688.22 1562.66L692.05 1560.06L695.89 1557.45L699.73 1554.84L703.57 1552.23L707.41 1549.61L711.25 1546.99L715.09 1544.36L718.93 1541.74L722.77 1539.11L726.61 1536.47L730.45 1533.84L734.29 1531.20L738.13 1528.56L741.97 1525.91L745.81 1523.27L749.65 1520.62L753.49 1517.97L757.33 1515.31L761.17 1512.66L765.01 1510.00L768.85 1507.34L772.69 1504.68L776.53 1502.02L780.37 1499.36L784.21 1496.69L788.05 1494.03L791.89 1491.36L795.73 1488.69L799.57 1486.02L803.41 1483.36L807.25 1480.69L811.08 1478.02L814.92 1475.35L818.76 1472.68L822.60 1470.01L826.44 1467.34L830.28 1464.67L834.12 1462.00L837.96 1459.33L841.80 1456.66L845.64 1453.99L849.48 1451.32L853.32 1448.66L857.16 1445.99L861.00 1443.33L864.84 1440.67L868.68 1438.01L872.52 1435.35L876.36 1432.69L880.20 1430.04L884.04 1427.38L887.88 1424.73L891.72 1422.08L895.56 1419.43L899.40 1416.79L903.24 1414.15L907.08 1411.51L910.92 1408.87L914.76 1406.24L918.60 1403.61L922.43 1400.98L926.27 1398.36L930.11 1395.74L933.95 1393.13L937.79 1390.51L941.63 1387.90L945.47 1385.30L949.31 1382.70L953.15 1380.10L956.99 1377.51L960.83 1374.93L964.67 1372.34L968.51 1369.77L972.35 1367.19L976.19 1364.63L980.03 1362.07L983.87 1359.51L987.71 1356.96L991.55 1354.41L995.39 1351.87L999.23 1349.34L1003.07 1346.81L1006.91 1344.29L1010.75 1341.77L1014.59 1339.26L1018.43 1336.76L1022.27 1334.26L1026.11 1331.77L1029.95 1329.29L1033.79 1326.81L1037.62 1324.35L1041.46 1321.88L1045.30 1319.43L1049.14 1316.98L1052.98 1314.55L1056.82 1312.11L1060.66 1309.69L1064.50 1307.28L1068.34 1304.87L1072.18 1302.47L1076.02 1300.08L1079.86 1297.70L1083.70 1295.32L1087.54 1292.96L1091.38 1290.60L1095.22 1288.26L1099.06 1285.92L1102.90 1283.59L1106.74 1281.27L1110.58 1278.96L1114.42 1276.66L1118.26 1274.37L1122.10 1272.09L1125.94 1269.82L1129.78 1267.56L1133.62 1265.31L1137.46 1263.07L1141.30 1260.84L1145.14 1258.62L1148.98 1256.41L1152.81 1254.22L1156.65 1252.03L1160.49 1249.85L1164.33 1247.69L1168.17 1245.54L1172.01 1243.39L1175.85 1241.26L1179.69 1239.15L1183.53 1237.04L1187.37 1234.94L1191.21 1232.86L1195.05 1230.79L1198.89 1228.73L1202.73 1226.68L1206.57 1224.65L1210.41 1222.63L1214.25 1220.62L1218.09 1218.62L1221.93 1216.64L1225.77 1214.67L1229.61 1212.71L1233.45 1210.76L1237.29 1208.83L1241.13 1206.91L1244.97 1205.01L1248.81 1203.12L1252.65 1201.24L1256.49 1199.38L1260.33 1197.53L1264.17 1195.69L1268.00 1193.87L1271.84 1192.06L1275.68 1190.26L1279.52 1188.49L1283.36 1186.72L1287.20 1184.97L1291.04 1183.23L1294.88 1181.51L1298.72 1179.81L1302.56 1178.11L1306.40 1176.44L1310.24 1174.78L1314.08 1173.13L1317.92 1171.50L1321.76 1169.88L1325.60 1168.28 M1325.60 1139.32L1321.76 1140.78L1317.92 1142.26L1314.08 1143.74L1310.24 1145.23L1306.40 1146.74L1302.56 1148.25L1298.72 1149.77L1294.88 1151.30L1291.04 1152.84L1287.20 1154.39L1283.36 1155.95L1279.52 1157.52L1275.68 1159.10L1271.84 1160.69L1268.00 1162.29L1264.17 1163.90L1260.33 1165.53L1256.49 1167.16L1252.65 1168.80L1248.81 1170.45L1244.97 1172.11L1241.13 1173.78L1237.29 1175.46L1233.45 1177.15L1229.61 1178.85L1225.77 1180.56L1221.93 1182.29L1218.09 1184.02L1214.25 1185.76L1210.41 1187.51L1206.57 1189.28L1202.73 1191.05L1198.89 1192.83L1195.05 1194.63L1191.21 1196.43L1187.37 1198.25L1183.53 1200.07L1179.69 1201.91L1175.85 1203.75L1172.01 1205.61L1168.17 1207.47L1164.33 1209.35L1160.49 1211.23L1156.65 1213.13L1152.81 1215.04L1148.98 1216.95L1145.14 1218.88L1141.30 1220.82L1137.46 1222.76L1133.62 1224.72L1129.78 1226.69L1125.94 1228.66L1122.10 1230.65L1118.26 1232.65L1114.42 1234.65L1110.58 1236.67L1106.74 1238.70L1102.90 1240.73L1099.06 1242.78L1095.22 1244.84L1091.38 1246.90L1087.54 1248.98L1083.70 1251.06L1079.86 1253.16L1076.02 1255.26L1072.18 1257.37L1068.34 1259.50L1064.50 1261.63L1060.66 1263.77L1056.82 1265.92L1052.98 1268.08L1049.14 1270.25L1045.30 1272.43L1041.46 1274.62L1037.62 1276.82L1033.79 1279.02L1029.95 1281.24L1026.11 1283.46L1022.27 1285.70L1018.43 1287.94L1014.59 1290.19L1010.75 1292.45L1006.91 1294.71L1003.07 1296.99L999.23 1299.28L995.39 1301.57L991.55 1303.87L987.71 1306.18L983.87 1308.50L980.03 1310.82L976.19 1313.16L972.35 1315.50L968.51 1317.85L964.67 1320.21L960.83 1322.57L956.99 1324.94L953.15 1327.32L949.31 1329.71L945.47 1332.11L941.63 1334.51L937.79 1336.92L933.95 1339.34L930.11 1341.76L926.27 1344.19L922.43 1346.63L918.60 1349.08L914.76 1351.53L910.92 1353.99L907.08 1356.45L903.24 1358.92L899.40 1361.40L895.56 1363.89L891.72 1366.38L887.88 1368.87L884.04 1371.38L880.20 1373.88L876.36 1376.40L872.52 1378.92L868.68 1381.44L864.84 1383.98L861.00 1386.51L857.16 1389.06L853.32 1391.60L849.48 1394.16L845.64 1396.71L841.80 1399.28L837.96 1401.84L834.12 1404.41L830.28 1406.99L826.44 1409.57L822.60 1412.16L818.76 1414.75L814.92 1417.34L811.08 1419.94L807.25 1422.54L803.41 1425.15L799.57 1427.76L795.73 1430.37L791.89 1432.99L788.05 1435.61L784.21 1438.24L780.37 1440.86L776.53 1443.49L772.69 1446.13L768.85 1448.76L765.01 1451.40L761.17 1454.04L757.33 1456.69L753.49 1459.33L749.65 1461.98L745.81 1464.63L741.97 1467.29L738.13 1469.94L734.29 1472.60L730.45 1475.26L726.61 1477.92L722.77 1480.58L718.93 1483.24L715.09 1485.91L711.25 1488.57L707.41 1491.24L703.57 1493.91L699.73 1496.58L695.89 1499.24L692.05 1501.91L688.22 1504.58L684.38 1507.25L680.54 1509.92L676.70 1512.59L672.86 1515.26L669.02 1517.93L665.18 1520.60L661.34 1523.27L657.50 1525.94L653.66 1528.61L649.82 1531.28L645.98 1533.94L642.14 1536.61L638.30 1539.27L634.46 1541.93L630.62 1544.59L626.78 1547.25L622.94 1549.91L619.10 1552.56L615.26 1555.22L611.42 1557.87L607.58 1560.52L603.74 1563.17L599.90 1565.81L596.06 1568.45L592.22 1571.09L588.38 1573.73L584.54 1576.36L580.70 1578.99L576.87 1581.62L573.03 1584.24L569.19 1586.86L565.35 1589.47L561.51 1592.09L557.67 1594.70L553.83 1597.30L549.99 1599.90L546.15 1602.50L542.31 1605.09L538.47 1607.67L534.63 1610.26L530.79 1612.83L526.95 1615.41L523.11 1617.97L519.27 1620.53L515.43 1623.09L511.59 1625.64L507.75 1628.19L503.91 1630.73L500.07 1633.26L496.23 1635.79L492.39 1638.31L488.55 1640.83L484.71 1643.34L480.87 1645.84L477.03 1648.34L473.19 1650.83L469.35 1653.31L465.51 1655.79L461.68 1658.25L457.84 1660.72L454.00 1663.17L450.16 1665.62L446.32 1668.05L442.48 1670.49L438.64 1672.91L434.80 1675.32L430.96 1677.73L427.12 1680.13L423.28 1682.52L419.44 1684.90L415.60 1687.28L411.76 1689.64L407.92 1692.00L404.08 1694.34L400.24 1696.68L396.40 1699.01L392.56 1701.33L388.72 1703.64L384.88 1705.94L381.04 1708.23L377.20 1710.51L373.36 1712.78L369.52 1715.04L365.68 1717.29L361.84 1719.53L358.00 1721.76L354.16 1723.98L350.32 1726.19L346.49 1728.38L342.65 1730.57L338.81 1732.75L334.97 1734.91L331.13 1737.06L327.29 1739.21L323.45 1741.34L319.61 1743.45L315.77 1745.56L311.93 1747.66L308.09 1749.74L304.25 1751.81L300.41 1753.87L296.57 1755.92L292.73 1757.95L288.89 1759.97L285.05 1761.98L281.21 1763.98L277.37 1765.96L273.53 1767.93L269.69 1769.89L265.85 1771.84L262.01 1773.77L258.17 1775.69L254.33 1777.59L250.49 1779.48L246.65 1781.36L242.81 1783.22L238.97 1785.07L235.13 1786.91L231.30 1788.73L227.46 1790.54L223.62 1792.34L219.78 1794.11L215.94 1795.88L212.10 1797.63L208.26 1799.37L204.42 1801.09L200.58 1802.79L196.74 1804.49L192.90 1806.16L189.06 1807.82L185.22 1809.47L181.38 1811.10L177.54 1812.72L173.70 1814.32" stroke="#ff00ff"/>
<path d="M173.70 1852.73L177.54 1851.33L181.38 1849.91L185.22 1848.49L189.06 1847.04L192.90 1845.58L196.74 1844.11L200.58 1842.63L204.42 1841.13L208.26 1839.62L212.10 1838.09L215.94 1836.55L219.78 1835.00L223.62 1833.43L227.46 1831.85L231.30 1830.26L235.13 1828.65L238.97 1827.03L242.81 1825.39L246.65 1823.74L250.49 1822.08L254.33 1820.40L258.17 1818.71L262.01 1817.01L265.85 1815.29L269.69 1813.56L273.53 1811.81L277.37 1810.05L281.21 1808.28L285.05 1806.50L288.89 1804.70L292.73 1802.89L296.57 1801.07L300.41 1799.23L304.25 1797.38L308.09 1795.51L311.93 1793.64L315.77 1791.75L319.61 1789.84L323.45 1787.93L327.29 1786.00L331.13 1784.06L334.97 1782.10L338.81 1780.14L342.65 1778.16L346.49 1776.17L350.32 1774.16L354.16 1772.15L358.00 1770.12L361.84 1768.08L365.68 1766.03L369.52 1763.96L373.36 1761.88L377.20 1759.79L381.04 1757.69L384.88 1755.58L388.72 1753.46L392.56 1751.32L396.40 1749.18L400.24 1747.02L404.08 1744.85L407.92 1742.67L411.76 1740.47L415.60 1738.27L419.44 1736.06L423.28 1733.83L427.12 1731.60L430.96 1729.35L434.80 1727.09L438.64 1724.83L442.48 1722.55L446.32 1720.26L450.16 1717.96L454.00 1715.65L457.84 1713.34L461.68 1711.01L465.51 1708.67L469.35 1706.32L473.19 1703.97L477.03 1701.60L480.87 1699.22L484.71 1696.84L488.55 1694.45L492.39 1692.04L496.23 1689.63L500.07 1687.21L503.91 1684.78L507.75 1682.35L511.59 1679.90L515.43 1677.45L519.27 1674.98L523.11 1672.51L526.95 1670.03L530.79 1667.55L534.63 1665.06L538.47 1662.55L542.31 1660.05L546.15 1657.53L549.99 1655.01L553.83 1652.48L557.67 1649.94L561.51 1647.40L565.35 1644.85L569.19 1642.29L573.03 1639.72L576.87 1637.16L580.70 1634.58L584.54 1632.00L588.38 1629.41L592.22 1626.82L596.06 1624.22L599.90 1621.61L603.74 1619.00L607.58 1616.39L611.42 1613.77L615.26 1611.14L619.10 1608.51L622.94 1605.88L626.78 1603.24L630.62 1600.60L634.46 1597.95L638.30 1595.30L642.14 1592.64L645.98 1589.98L649.82 1587.32L653.66 1584.65L657.50 1581.98L661.34 1579.30L665.18 1576.63L669.02 1573.95L672.86 1571.26L676.70 1568.58L680.54 1565.89L684.38 1563.20L688.22 1560.50L692.05 1557.81L695.89 1555.11L699.73 1552.41L703.57 1549.71L707.41 1547.00L711.25 1544.30L715.09 1541.59L718.93 1538.89L722.77 1536.18L726.61 1533.47L730.45 1530.76L734.29 1528.04L738.13 1525.33L741.97 1522.62L745.81 1519.91L749.65 1517.20L753.49 1514.48L757.33 1511.77L761.17 1509.06L765.01 1506.34L768.85 1503.63L772.69 1500.92L776.53 1498.21L780.37 1495.50L784.21 1492.79L788.05 1490.09L791.89 1487.38L795.73 1484.68L799.57 1481.97L803.41 1479.27L807.25 1476.57L811.08 1473.88L814.92 1471.18L818.76 1468.49L822.60 1465.80L826.44 1463.11L830.28 1460.42L834.12 1457.74L837.96 1455.06L841.80 1452.38L845.64 1449.71L849.48 1447.04L853.32 1444.37L857.16 1441.70L861.00 1439.04L864.84 1436.39L868.68 1433.73L872.52 1431.08L876.36 1428.44L880.20 1425.80L884.04 1423.16L887.88 1420.53L891.72 1417.90L895.56 1415.28L899.40 1412.66L903.24 1410.05L907.08 1407.44L910.92 1404.84L914.76 1402.24L918.60 1399.65L922.43 1397.06L926.27 1394.48L930.11 1391.90L933.95 1389.33L937.79 1386.77L941.63 1384.21L945.47 1381.66L949.31 1379.11L953.15 1376.57L956.99 1374.04L960.83 1371.51L964.67 1368.99L968.51 1366.47L972.35 1363.97L976.19 1361.47L980.03 1358.97L983.87 1356.49L987.71 1354.01L991.55 1351.54L995.39 1349.07L999.23 1346.61L1003.07 1344.16L1006.91 1341.72L1010.75 1339.29L1014.59 1336.86L1018.43 1334.44L1022.27 1332.03L1026.11 1329.62L1029.95 1327.23L1033.79 1324.84L1037.62 1322.46L1041.46 1320.09L1045.30 1317.73L1049.14 1315.37L1052.98 1313.03L1056.82 1310.69L1060.66 1308.36L1064.50 1306.04L1068.34 1303.73L1072.18 1301.42L1076.02 1299.13L1079.86 1296.84L1083.70 1294.56L1087.54 1292.30L1091.38 1290.04L1095.22 1287.79L1099.06 1285.55L1102.90 1283.31L1106.74 1281.09L1110.58 1278.88L1114.42 1276.67L1118.26 1274.48L1122.10 1272.29L1125.94 1270.12L1129.78 1267.95L1133.62 1265.79L1137.46 1263.64L1141.30 1261.50L1145.14 1259.37L1148.98 1257.25L1152.81 1255.14L1156.65 1253.04L1160.49 1250.95L1164.33 1248.87L1168.17 1246.80L1172.01 1244.73L1175.85 1242.68L1179.69 1240.64L1183.53 1238.60L1187.37 1236.58L1191.21 1234.56L1195.05 1232.56L1198.89 1230.56L1202.73 1228.57L1206.57 1226.60L1210.41 1224.63L1214.25 1222.67L1218.09 1220.72L1221.93 1218.78L1225.77 1216.85L1229.61 1214.93L1233.45 1213.02L1237.29 1211.12L1241.13 1209.23L1244.97 1207.34L1248.81 1205.47L1252.65 1203.60L1256.49 1201.75L1260.33 1199.90L1264.17 1198.06L1268.00 1196.24L1271.84 1194.42L1275.68 1192.61L1279.52 1190.80L1283.36 1189.01L1287.20 1187.23L1291.04 1185.45L1294.88 1183.69L1298.72 1181.93L1302.56 1180.18L1306.40 1178.44L1310.24 1176.70L1314.08 1174.98L1317.92 1173.26L1321.76 1171.55L1325.60 1169.85 M1325.60 1129.87L1321.76 1131.27L1317.92 1132.69L1314.08 1134.11L1310.24 1135.56L1306.40 1137.02L1302.56 1138.49L1298.72 1139.97L1294.88 1141.47L1291.04 1142.98L1287.20 1144.51L1283.36 1146.05L1279.52 1147.60L1275.68 1149.17L1271.84 1150.75L1268.00 1152.34L1264.17 1153.95L1260.33 1155.57L1256.49 1157.21L1252.65 1158.86L1248.81 1160.52L1244.97 1162.20L1241.13 1163.89L1237.29 1165.59L1233.45 1167.31L1229.61 1169.04L1225.77 1170.79L1221.93 1172.55L1218.09 1174.32L1214.25 1176.10L1210.41 1177.90L1206.57 1179.71L1202.73 1181.53L1198.89 1183.37L1195.05 1185.22L1191.21 1187.09L1187.37 1188.96L1183.53 1190.85L1179.69 1192.76L1175.85 1194.67L1172.01 1196.60L1168.17 1198.54L1164.33 1200.50L1160.49 1202.46L1156.65 1204.44L1152.81 1206.43L1148.98 1208.44L1145.14 1210.45L1141.30 1212.48L1137.46 1214.52L1133.62 1216.57L1129.78 1218.64L1125.94 1220.72L1122.10 1222.81L1118.26 1224.91L1114.42 1227.02L1110.58 1229.14L1106.74 1231.28L1102.90 1233.42L1099.06 1235.58L1095.22 1237.75L1091.38 1239.93L1087.54 1242.13L1083.70 1244.33L1079.86 1246.54L1076.02 1248.77L1072.18 1251.00L1068.34 1253.25L1064.50 1255.51L1060.66 1257.77L1056.82 1260.05L1052.98 1262.34L1049.14 1264.64L1045.30 1266.95L1041.46 1269.26L1037.62 1271.59L1033.79 1273.93L1029.95 1276.28L1026.11 1278.63L1022.27 1281.00L1018.43 1283.38L1014.59 1285.76L1010.75 1288.15L1006.91 1290.56L1003.07 1292.97L999.23 1295.39L995.39 1297.82L991.55 1300.25L987.71 1302.70L983.87 1305.15L980.03 1307.62L976.19 1310.09L972.35 1312.57L968.51 1315.05L964.67 1317.54L960.83 1320.05L956.99 1322.55L953.15 1325.07L949.31 1327.59L945.47 1330.12L941.63 1332.66L937.79 1335.20L933.95 1337.75L930.11 1340.31L926.27 1342.88L922.43 1345.44L918.60 1348.02L914.76 1350.60L910.92 1353.19L907.08 1355.78L903.24 1358.38L899.40 1360.99L895.56 1363.60L891.72 1366.21L887.88 1368.83L884.04 1371.46L880.20 1374.09L876.36 1376.72L872.52 1379.36L868.68 1382.00L864.84 1384.65L861.00 1387.30L857.16 1389.96L853.32 1392.62L849.48 1395.28L845.64 1397.95L841.80 1400.62L837.96 1403.30L834.12 1405.97L830.28 1408.65L826.44 1411.34L822.60 1414.02L818.76 1416.71L814.92 1419.40L811.08 1422.10L807.25 1424.79L803.41 1427.49L799.57 1430.19L795.73 1432.89L791.89 1435.60L788.05 1438.30L784.21 1441.01L780.37 1443.71L776.53 1446.42L772.69 1449.13L768.85 1451.84L765.01 1454.56L761.17 1457.27L757.33 1459.98L753.49 1462.69L749.65 1465.40L745.81 1468.12L741.97 1470.83L738.13 1473.54L734.29 1476.26L730.45 1478.97L726.61 1481.68L722.77 1484.39L718.93 1487.10L715.09 1489.81L711.25 1492.51L707.41 1495.22L703.57 1497.92L699.73 1500.63L695.89 1503.33L692.05 1506.03L688.22 1508.72L684.38 1511.42L680.54 1514.11L676.70 1516.80L672.86 1519.49L669.02 1522.18L665.18 1524.86L661.34 1527.54L657.50 1530.22L653.66 1532.89L649.82 1535.56L645.98 1538.23L642.14 1540.90L638.30 1543.56L634.46 1546.21L630.62 1548.87L626.78 1551.52L622.94 1554.16L619.10 1556.80L615.26 1559.44L611.42 1562.07L607.58 1564.70L603.74 1567.32L599.90 1569.94L596.06 1572.55L592.22 1575.16L588.38 1577.76L584.54 1580.36L580.70 1582.95L576.87 1585.54L573.03 1588.12L569.19 1590.70L565.35 1593.27L561.51 1595.83L557.67 1598.39L553.83 1600.94L549.99 1603.49L546.15 1606.03L542.31 1608.56L538.47 1611.09L534.63 1613.61L530.79 1616.13L526.95 1618.63L523.11 1621.13L519.27 1623.63L515.43 1626.11L511.59 1628.59L507.75 1631.06L503.91 1633.53L500.07 1635.99L496.23 1638.44L492.39 1640.88L488.55 1643.31L484.71 1645.74L480.87 1648.16L477.03 1650.57L473.19 1652.98L469.35 1655.37L465.51 1657.76L461.68 1660.14L457.84 1662.51L454.00 1664.87L450.16 1667.23L446.32 1669.57L442.48 1671.91L438.64 1674.24L434.80 1676.56L430.96 1678.87L427.12 1681.18L423.28 1683.47L419.44 1685.76L415.60 1688.04L411.76 1690.30L407.92 1692.56L404.08 1694.81L400.24 1697.05L396.40 1699.29L392.56 1701.51L388.72 1703.72L384.88 1705.93L381.04 1708.12L377.20 1710.31L373.36 1712.48L369.52 1714.65L365.68 1716.81L361.84 1718.96L358.00 1721.10L354.16 1723.23L350.32 1725.35L346.49 1727.46L342.65 1729.56L338.81 1731.65L334.97 1733.73L331.13 1735.80L327.29 1737.87L323.45 1739.92L319.61 1741.96L315.77 1744.00L311.93 1746.02L308.09 1748.04L304.25 1750.04L300.41 1752.04L296.57 1754.03L292.73 1756.00L288.89 1757.97L285.05 1759.93L281.21 1761.88L277.37 1763.82L273.53 1765.75L269.69 1767.67L265.85 1769.58L262.01 1771.48L258.17 1773.37L254.33 1775.26L250.49 1777.13L246.65 1779.00L242.81 1780.85L238.97 1782.70L235.13 1784.54L231.30 1786.36L227.46 1788.18L223.62 1789.99L219.78 1791.80L215.94 1793.59L212.10 1795.37L208.26 1797.15L204.42 1798.91L200.58 1800.67L196.74 1802.42L192.90 1804.16L189.06 1805.90L185.22 1807.62L181.38 1809.34L177.54 1811.05L173.70 1812.75" stroke="#808000"/>
</g>
<line x1="173.70" y1="1491.30" x2="1325.60" y2="1491.30" stroke="#2e2e2e" stroke-width="1.7"/>
<line x1="749.65" y1="1069.80" x2="749.65" y2="1912.80" stroke="#6a6a6a" stroke-width="1.7"/>
<rect x="387.10" y="1106.90" width="259.90" height="347.10" fill="#fff" stroke="#6a6a6a" stroke-width="1.7"/>
<line x1="400.50" y1="1145.60" x2="501.00" y2="1145.60" stroke="#000000" stroke-width="3.90" stroke-linecap="round"/>
<text transform="translate(512.30 1160.90) scale(1.000 1)" font-family="'Liberation Serif', serif" font-size="45.20" font-weight="normal" text-anchor="start">x=0.00</text>
<line x1="400.50" y1="1201.70" x2="501.00" y2="1201.70" stroke="#ff0000" stroke-width="3.90" stroke-linecap="round"/>
<text transform="translate(512.30 1217.00) scale(1.000 1)" font-family="'Liberation Serif', serif" font-size="45.20" font-weight="normal" text-anchor="start">x=0.15</text>
<line x1="400.50" y1="1257.80" x2="501.00" y2="1257.80" stroke="#0000ff" stroke-width="3.90" stroke-linecap="round"/>
<text transform="translate(512.30 1273.10) scale(1.000 1)" font-family="'Liberation Serif', serif" font-size="45.20" font-weight="normal" text-anchor="start">x=0.30</text>
<line x1="400.50" y1="1313.90" x2="501.00" y2="1313.90" stroke="#008080" stroke-width="3.90" stroke-linecap="round"/>
<text transform="translate(512.30 1329.20) scale(1.000 1)" font-family="'Liberation Serif', serif" font-size="45.20" font-weight="normal" text-anchor="start">x=0.45</text>
<line x1="400.50" y1="1370.00" x2="501.00" y2="1370.00" stroke="#ff00ff" stroke-width="3.90" stroke-linecap="round"/>
<text transform="translate(512.30 1385.30) scale(1.000 1)" font-family="'Liberation Serif', serif" font-size="45.20" font-weight="normal" text-anchor="start">x=0.60</text>
<line x1="400.50" y1="1426.10" x2="501.00" y2="1426.10" stroke="#808000" stroke-width="3.90" stroke-linecap="round"/>
<text transform="translate(512.30 1441.40) scale(1.000 1)" font-family="'Liberation Serif', serif" font-size="45.20" font-weight="normal" text-anchor="start">x=0.75</text>
<rect x="173.70" y="1069.80" width="1151.90" height="843.00" fill="none" stroke="#000" stroke-width="3.4"/>
<line x1="156.20" y1="1912.80" x2="173.70" y2="1912.80" stroke="#000" stroke-width="3.4"/>
<line x1="164.70" y1="1860.11" x2="173.70" y2="1860.11" stroke="#000" stroke-width="3.4"/>
<line x1="156.20" y1="1807.42" x2="173.70" y2="1807.42" stroke="#000" stroke-width="3.4"/>
<line x1="164.70" y1="1754.74" x2="173.70" y2="1754.74" stroke="#000" stroke-width="3.4"/>
<line x1="156.20" y1="1702.05" x2="173.70" y2="1702.05" stroke="#000" stroke-width="3.4"/>
<line x1="164.70" y1="1649.36" x2="173.70" y2="1649.36" stroke="#000" stroke-width="3.4"/>
<line x1="156.20" y1="1596.67" x2="173.70" y2="1596.67" stroke="#000" stroke-width="3.4"/>
<line x1="164.70" y1="1543.99" x2="173.70" y2="1543.99" stroke="#000" stroke-width="3.4"/>
<line x1="156.20" y1="1491.30" x2="173.70" y2="1491.30" stroke="#000" stroke-width="3.4"/>
<line x1="164.70" y1="1438.61" x2="173.70" y2="1438.61" stroke="#000" stroke-width="3.4"/>
<line x1="156.20" y1="1385.92" x2="173.70" y2="1385.92" stroke="#000" stroke-width="3.4"/>
<line x1="164.70" y1="1333.24" x2="173.70" y2="1333.24" stroke="#000" stroke-width="3.4"/>
<line x1="156.20" y1="1280.55" x2="173.70" y2="1280.55" stroke="#000" stroke-width="3.4"/>
<line x1="164.70" y1="1227.86" x2="173.70" y2="1227.86" stroke="#000" stroke-width="3.4"/>
<line x1="156.20" y1="1175.17" x2="173.70" y2="1175.17" stroke="#000" stroke-width="3.4"/>
<line x1="164.70" y1="1122.49" x2="173.70" y2="1122.49" stroke="#000" stroke-width="3.4"/>
<line x1="156.20" y1="1069.80" x2="173.70" y2="1069.80" stroke="#000" stroke-width="3.4"/>
<line x1="173.70" y1="1912.80" x2="173.70" y2="1929.80" stroke="#000" stroke-width="3.4"/>
<line x1="269.69" y1="1912.80" x2="269.69" y2="1921.30" stroke="#000" stroke-width="3.4"/>
<line x1="365.68" y1="1912.80" x2="365.68" y2="1929.80" stroke="#000" stroke-width="3.4"/>
<line x1="461.68" y1="1912.80" x2="461.68" y2="1921.30" stroke="#000" stroke-width="3.4"/>
<line x1="557.67" y1="1912.80" x2="557.67" y2="1929.80" stroke="#000" stroke-width="3.4"/>
<line x1="653.66" y1="1912.80" x2="653.66" y2="1921.30" stroke="#000" stroke-width="3.4"/>
<line x1="749.65" y1="1912.80" x2="749.65" y2="1929.80" stroke="#000" stroke-width="3.4"/>
<line x1="845.64" y1="1912.80" x2="845.64" y2="1921.30" stroke="#000" stroke-width="3.4"/>
<line x1="941.63" y1="1912.80" x2="941.63" y2="1929.80" stroke="#000" stroke-width="3.4"/>
<line x1="1037.62" y1="1912.80" x2="1037.62" y2="1921.30" stroke="#000" stroke-width="3.4"/>
<line x1="1133.62" y1="1912.80" x2="1133.62" y2="1929.80" stroke="#000" stroke-width="3.4"/>
<line x1="1229.61" y1="1912.80" x2="1229.61" y2="1921.30" stroke="#000" stroke-width="3.4"/>
<line x1="1325.60" y1="1912.80" x2="1325.60" y2="1929.80" stroke="#000" stroke-width="3.4"/>
<text transform="translate(144.80 1926.00) scale(1.000 1)" font-family="'Liberation Serif', serif" font-size="45.80" font-weight="bold" text-anchor="end">-40</text>
<text transform="translate(144.80 1820.62) scale(1.000 1)" font-family="'Liberation Serif', serif" font-size="45.80" font-weight="bold" text-anchor="end">-30</text>
<text transform="translate(144.80 1715.25) scale(1.000 1)" font-family="'Liberation Serif', serif" font-size="45.80" font-weight="bold" text-anchor="end">-20</text>
<text transform="translate(144.80 1609.88) scale(1.000 1)" font-family="'Liberation Serif', serif" font-size="45.80" font-weight="bold" text-anchor="end">-10</text>
<text transform="translate(144.80 1504.50) scale(1.000 1)" font-family="'Liberation Serif', serif" font-size="45.80" font-weight="bold" text-anchor="end">0</text>
<text transform="translate(144.80 1399.12) scale(1.000 1)" font-family="'Liberation Serif', serif" font-size="45.80" font-weight="bold" text-anchor="end">10</text>
<text transform="translate(144.80 1293.75) scale(1.000 1)" font-family="'Liberation Serif', serif" font-size="45.80" font-weight="bold" text-anchor="end">20</text>
<text transform="translate(144.80 1188.38) scale(1.000 1)" font-family="'Liberation Serif', serif" font-size="45.80" font-weight="bold" text-anchor="end">30</text>
<text transform="translate(144.80 1083.00) scale(1.000 1)" font-family="'Liberation Serif', serif" font-size="45.80" font-weight="bold" text-anchor="end">40</text>
<text transform="translate(173.70 1976.60) scale(1.000 1)" font-family="'Liberation Serif', serif" font-size="45.80" font-weight="bold" text-anchor="middle">-750</text>
<text transform="translate(365.68 1976.60) scale(1.000 1)" font-family="'Liberation Serif', serif" font-size="45.80" font-weight="bold" text-anchor="middle">-500</text>
<text transform="translate(557.67 1976.60) scale(1.000 1)" font-family="'Liberation Serif', serif" font-size="45.80" font-weight="bold" text-anchor="middle">-250</text>
<text transform="translate(749.65 1976.60) scale(1.000 1)" font-family="'Liberation Serif', serif" font-size="45.80" font-weight="bold" text-anchor="middle">0</text>
<text transform="translate(941.63 1976.60) scale(1.000 1)" font-family="'Liberation Serif', serif" font-size="45.80" font-weight="bold" text-anchor="middle">250</text>
<text transform="translate(1133.62 1976.60) scale(1.000 1)" font-family="'Liberation Serif', serif" font-size="45.80" font-weight="bold" text-anchor="middle">500</text>
<text transform="translate(1325.60 1976.60) scale(1.000 1)" font-family="'Liberation Serif', serif" font-size="45.80" font-weight="bold" text-anchor="middle">750</text>
<text transform="translate(752.30 2026.80)" font-family="'Liberation Serif', serif" font-size="45.40" font-weight="bold" text-anchor="middle"><tspan font-style="italic">H</tspan> (Oe)</text>
<text transform="translate(61.00 1482.50) rotate(-90)" font-family="'Liberation Serif', serif" font-size="45.40" font-weight="bold" text-anchor="middle"><tspan font-style="italic">M</tspan> (emu/g)</text>
<text transform="translate(242.90 1194.80) scale(1.065 1)" font-family="'Liberation Sans', sans-serif" font-size="66.50" font-weight="normal" text-anchor="start">(b)</text>
</g>
</svg>
</body></html>
